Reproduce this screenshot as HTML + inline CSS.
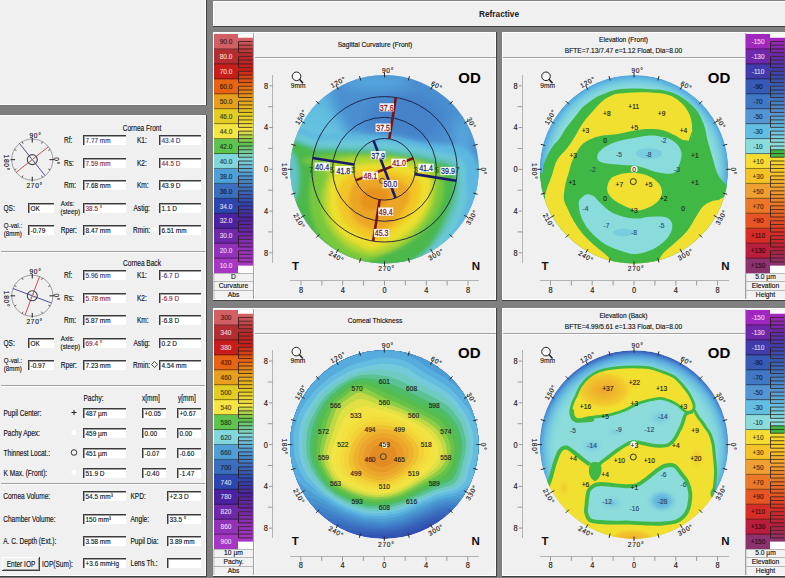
<!DOCTYPE html><html><head><meta charset="utf-8"><style>html,body{margin:0;padding:0;background:#808080;overflow:hidden}svg{display:block}text{font-family:"Liberation Sans",sans-serif}</style></head><body>
<svg width="785" height="578" viewBox="0 0 785 578">
<rect x="0" y="0" width="785" height="578" fill="#808080"/>
<rect x="0" y="0" width="206" height="105" fill="#f0f0f0"/>
<rect x="0" y="104" width="206" height="1" fill="#fff"/>
<rect x="205" y="0" width="1" height="105" fill="#fff"/>
<rect x="206" y="0" width="1" height="105" fill="#404040"/>
<rect x="0" y="105" width="207" height="10" fill="#7e7e7e"/>
<rect x="0" y="105" width="207" height="1" fill="#747474"/>
<rect x="0" y="114" width="207" height="1" fill="#747474"/>
<rect x="0" y="115" width="206" height="461" fill="#f0f0f0"/>
<rect x="0" y="115" width="206" height="1" fill="#fff"/>
<rect x="0" y="115" width="1" height="461" fill="#fff"/>
<rect x="205" y="115" width="1" height="461" fill="#fff"/>
<rect x="0" y="575" width="206" height="1" fill="#fff"/>
<rect x="206" y="115" width="1" height="462" fill="#404040"/>
<rect x="0" y="576" width="207" height="1" fill="#404040"/>
<rect x="0" y="116" width="1" height="459" fill="#f0f0f0"/>
<rect x="1" y="251" width="204" height="1" fill="#a0a0a0"/>
<rect x="1" y="252" width="204" height="1" fill="#fff"/>
<rect x="1" y="385" width="204" height="1" fill="#a0a0a0"/>
<rect x="1" y="386" width="204" height="1" fill="#fff"/>
<rect x="1" y="483" width="204" height="1" fill="#a0a0a0"/>
<rect x="1" y="484" width="204" height="1" fill="#fff"/>
<text transform="translate(142.00,130.50) scale(0.8,1)" font-size="8.2" text-anchor="middle" fill="#141414" stroke="#141414" stroke-width="0.15">Cornea Front</text>
<text transform="translate(64.00,143.00) scale(0.8,1)" font-size="8.2" text-anchor="start" fill="#141414" stroke="#141414" stroke-width="0.15">Rf:</text>
<rect x="83" y="135" width="43" height="10" fill="#fff"/>
<rect x="83" y="135" width="43" height="1" fill="#3a3a3a"/>
<rect x="83" y="135" width="1" height="10" fill="#3a3a3a"/>
<rect x="84" y="136" width="42" height="1" fill="#a0a0a0"/>
<rect x="84" y="136" width="1" height="9" fill="#a0a0a0"/>
<text transform="translate(85.50,142.60) scale(0.9,1)" font-size="7.2" text-anchor="start" fill="#36367a" stroke="#36367a" stroke-width="0.15">7.77 mm</text>
<text transform="translate(137.00,143.00) scale(0.8,1)" font-size="8.2" text-anchor="start" fill="#141414" stroke="#141414" stroke-width="0.15">K1:</text>
<rect x="159" y="135" width="42" height="10" fill="#fff"/>
<rect x="159" y="135" width="42" height="1" fill="#3a3a3a"/>
<rect x="159" y="135" width="1" height="10" fill="#3a3a3a"/>
<rect x="160" y="136" width="41" height="1" fill="#a0a0a0"/>
<rect x="160" y="136" width="1" height="9" fill="#a0a0a0"/>
<text transform="translate(161.50,142.60) scale(0.9,1)" font-size="7.2" text-anchor="start" fill="#36367a" stroke="#36367a" stroke-width="0.15">43.4 D</text>
<text transform="translate(64.00,166.00) scale(0.8,1)" font-size="8.2" text-anchor="start" fill="#141414" stroke="#141414" stroke-width="0.15">Rs:</text>
<rect x="83" y="158" width="43" height="10" fill="#fff"/>
<rect x="83" y="158" width="43" height="1" fill="#3a3a3a"/>
<rect x="83" y="158" width="1" height="10" fill="#3a3a3a"/>
<rect x="84" y="159" width="42" height="1" fill="#a0a0a0"/>
<rect x="84" y="159" width="1" height="9" fill="#a0a0a0"/>
<text transform="translate(85.50,165.60) scale(0.9,1)" font-size="7.2" text-anchor="start" fill="#962828" stroke="#962828" stroke-width="0.15">7.59 mm</text>
<text transform="translate(137.00,166.00) scale(0.8,1)" font-size="8.2" text-anchor="start" fill="#141414" stroke="#141414" stroke-width="0.15">K2:</text>
<rect x="159" y="158" width="42" height="10" fill="#fff"/>
<rect x="159" y="158" width="42" height="1" fill="#3a3a3a"/>
<rect x="159" y="158" width="1" height="10" fill="#3a3a3a"/>
<rect x="160" y="159" width="41" height="1" fill="#a0a0a0"/>
<rect x="160" y="159" width="1" height="9" fill="#a0a0a0"/>
<text transform="translate(161.50,165.60) scale(0.9,1)" font-size="7.2" text-anchor="start" fill="#962828" stroke="#962828" stroke-width="0.15">44.5 D</text>
<text transform="translate(64.00,188.00) scale(0.8,1)" font-size="8.2" text-anchor="start" fill="#141414" stroke="#141414" stroke-width="0.15">Rm:</text>
<rect x="83" y="180" width="43" height="10" fill="#fff"/>
<rect x="83" y="180" width="43" height="1" fill="#3a3a3a"/>
<rect x="83" y="180" width="1" height="10" fill="#3a3a3a"/>
<rect x="84" y="181" width="42" height="1" fill="#a0a0a0"/>
<rect x="84" y="181" width="1" height="9" fill="#a0a0a0"/>
<text transform="translate(85.50,187.60) scale(0.9,1)" font-size="7.2" text-anchor="start" fill="#141414" stroke="#141414" stroke-width="0.15">7.68 mm</text>
<text transform="translate(137.00,188.00) scale(0.8,1)" font-size="8.2" text-anchor="start" fill="#141414" stroke="#141414" stroke-width="0.15">Km:</text>
<rect x="159" y="180" width="42" height="10" fill="#fff"/>
<rect x="159" y="180" width="42" height="1" fill="#3a3a3a"/>
<rect x="159" y="180" width="1" height="10" fill="#3a3a3a"/>
<rect x="160" y="181" width="41" height="1" fill="#a0a0a0"/>
<rect x="160" y="181" width="1" height="9" fill="#a0a0a0"/>
<text transform="translate(161.50,187.60) scale(0.9,1)" font-size="7.2" text-anchor="start" fill="#141414" stroke="#141414" stroke-width="0.15">43.9 D</text>
<text transform="translate(3.50,210.60) scale(0.8,1)" font-size="8.2" text-anchor="start" fill="#141414" stroke="#141414" stroke-width="0.15">QS:</text>
<rect x="28" y="203" width="26" height="10" fill="#fff"/>
<rect x="28" y="203" width="26" height="1" fill="#3a3a3a"/>
<rect x="28" y="203" width="1" height="10" fill="#3a3a3a"/>
<rect x="29" y="204" width="25" height="1" fill="#a0a0a0"/>
<rect x="29" y="204" width="1" height="9" fill="#a0a0a0"/>
<text transform="translate(30.50,210.60) scale(0.9,1)" font-size="7.2" text-anchor="start" fill="#141414" stroke="#141414" stroke-width="0.15">OK</text>
<text transform="translate(60.80,206.20) scale(0.8,1)" font-size="7.8" text-anchor="start" fill="#141414" stroke="#141414" stroke-width="0.15">Axis:</text>
<text transform="translate(60.60,214.20) scale(0.8,1)" font-size="7.8" text-anchor="start" fill="#141414" stroke="#141414" stroke-width="0.15">(steep)</text>
<rect x="83" y="203" width="43" height="10" fill="#fff"/>
<rect x="83" y="203" width="43" height="1" fill="#3a3a3a"/>
<rect x="83" y="203" width="1" height="10" fill="#3a3a3a"/>
<rect x="84" y="204" width="42" height="1" fill="#a0a0a0"/>
<rect x="84" y="204" width="1" height="9" fill="#a0a0a0"/>
<text transform="translate(85.50,210.60) scale(0.9,1)" font-size="7.2" text-anchor="start" fill="#962828" stroke="#962828" stroke-width="0.15">38.5 °</text>
<text transform="translate(133.50,211.00) scale(0.8,1)" font-size="8.2" text-anchor="start" fill="#141414" stroke="#141414" stroke-width="0.15">Astig:</text>
<rect x="159" y="203" width="42" height="10" fill="#fff"/>
<rect x="159" y="203" width="42" height="1" fill="#3a3a3a"/>
<rect x="159" y="203" width="1" height="10" fill="#3a3a3a"/>
<rect x="160" y="204" width="41" height="1" fill="#a0a0a0"/>
<rect x="160" y="204" width="1" height="9" fill="#a0a0a0"/>
<text transform="translate(161.50,210.60) scale(0.9,1)" font-size="7.2" text-anchor="start" fill="#141414" stroke="#141414" stroke-width="0.15">1.1 D</text>
<text transform="translate(3.80,228.30) scale(0.8,1)" font-size="7.8" text-anchor="start" fill="#141414" stroke="#141414" stroke-width="0.15">Q-val.:</text>
<text transform="translate(3.80,236.30) scale(0.8,1)" font-size="7.8" text-anchor="start" fill="#141414" stroke="#141414" stroke-width="0.15">(8mm)</text>
<rect x="28" y="225" width="26" height="10" fill="#fff"/>
<rect x="28" y="225" width="26" height="1" fill="#3a3a3a"/>
<rect x="28" y="225" width="1" height="10" fill="#3a3a3a"/>
<rect x="29" y="226" width="25" height="1" fill="#a0a0a0"/>
<rect x="29" y="226" width="1" height="9" fill="#a0a0a0"/>
<text transform="translate(30.50,232.60) scale(0.9,1)" font-size="7.2" text-anchor="start" fill="#141414" stroke="#141414" stroke-width="0.15">-0.79</text>
<text transform="translate(60.80,233.00) scale(0.8,1)" font-size="8.2" text-anchor="start" fill="#141414" stroke="#141414" stroke-width="0.15">Rper:</text>
<rect x="83" y="225" width="43" height="10" fill="#fff"/>
<rect x="83" y="225" width="43" height="1" fill="#3a3a3a"/>
<rect x="83" y="225" width="1" height="10" fill="#3a3a3a"/>
<rect x="84" y="226" width="42" height="1" fill="#a0a0a0"/>
<rect x="84" y="226" width="1" height="9" fill="#a0a0a0"/>
<text transform="translate(85.50,232.60) scale(0.9,1)" font-size="7.2" text-anchor="start" fill="#141414" stroke="#141414" stroke-width="0.15">8.47 mm</text>
<text transform="translate(133.00,233.00) scale(0.8,1)" font-size="8.2" text-anchor="start" fill="#141414" stroke="#141414" stroke-width="0.15">Rmin:</text>
<rect x="159" y="225" width="42" height="10" fill="#fff"/>
<rect x="159" y="225" width="42" height="1" fill="#3a3a3a"/>
<rect x="159" y="225" width="1" height="10" fill="#3a3a3a"/>
<rect x="160" y="226" width="41" height="1" fill="#a0a0a0"/>
<rect x="160" y="226" width="1" height="9" fill="#a0a0a0"/>
<text transform="translate(161.50,232.60) scale(0.9,1)" font-size="7.2" text-anchor="start" fill="#141414" stroke="#141414" stroke-width="0.15">6.51 mm</text>
<text transform="translate(142.00,265.50) scale(0.8,1)" font-size="8.2" text-anchor="middle" fill="#141414" stroke="#141414" stroke-width="0.15">Cornea Back</text>
<text transform="translate(64.00,278.00) scale(0.8,1)" font-size="8.2" text-anchor="start" fill="#141414" stroke="#141414" stroke-width="0.15">Rf:</text>
<rect x="83" y="270" width="43" height="10" fill="#fff"/>
<rect x="83" y="270" width="43" height="1" fill="#3a3a3a"/>
<rect x="83" y="270" width="1" height="10" fill="#3a3a3a"/>
<rect x="84" y="271" width="42" height="1" fill="#a0a0a0"/>
<rect x="84" y="271" width="1" height="9" fill="#a0a0a0"/>
<text transform="translate(85.50,277.60) scale(0.9,1)" font-size="7.2" text-anchor="start" fill="#36367a" stroke="#36367a" stroke-width="0.15">5.96 mm</text>
<text transform="translate(137.00,278.00) scale(0.8,1)" font-size="8.2" text-anchor="start" fill="#141414" stroke="#141414" stroke-width="0.15">K1:</text>
<rect x="159" y="270" width="42" height="10" fill="#fff"/>
<rect x="159" y="270" width="42" height="1" fill="#3a3a3a"/>
<rect x="159" y="270" width="1" height="10" fill="#3a3a3a"/>
<rect x="160" y="271" width="41" height="1" fill="#a0a0a0"/>
<rect x="160" y="271" width="1" height="9" fill="#a0a0a0"/>
<text transform="translate(161.50,277.60) scale(0.9,1)" font-size="7.2" text-anchor="start" fill="#36367a" stroke="#36367a" stroke-width="0.15">-6.7 D</text>
<text transform="translate(64.00,301.00) scale(0.8,1)" font-size="8.2" text-anchor="start" fill="#141414" stroke="#141414" stroke-width="0.15">Rs:</text>
<rect x="83" y="293" width="43" height="10" fill="#fff"/>
<rect x="83" y="293" width="43" height="1" fill="#3a3a3a"/>
<rect x="83" y="293" width="1" height="10" fill="#3a3a3a"/>
<rect x="84" y="294" width="42" height="1" fill="#a0a0a0"/>
<rect x="84" y="294" width="1" height="9" fill="#a0a0a0"/>
<text transform="translate(85.50,300.60) scale(0.9,1)" font-size="7.2" text-anchor="start" fill="#962828" stroke="#962828" stroke-width="0.15">5.78 mm</text>
<text transform="translate(137.00,301.00) scale(0.8,1)" font-size="8.2" text-anchor="start" fill="#141414" stroke="#141414" stroke-width="0.15">K2:</text>
<rect x="159" y="293" width="42" height="10" fill="#fff"/>
<rect x="159" y="293" width="42" height="1" fill="#3a3a3a"/>
<rect x="159" y="293" width="1" height="10" fill="#3a3a3a"/>
<rect x="160" y="294" width="41" height="1" fill="#a0a0a0"/>
<rect x="160" y="294" width="1" height="9" fill="#a0a0a0"/>
<text transform="translate(161.50,300.60) scale(0.9,1)" font-size="7.2" text-anchor="start" fill="#962828" stroke="#962828" stroke-width="0.15">-6.9 D</text>
<text transform="translate(64.00,323.00) scale(0.8,1)" font-size="8.2" text-anchor="start" fill="#141414" stroke="#141414" stroke-width="0.15">Rm:</text>
<rect x="83" y="315" width="43" height="10" fill="#fff"/>
<rect x="83" y="315" width="43" height="1" fill="#3a3a3a"/>
<rect x="83" y="315" width="1" height="10" fill="#3a3a3a"/>
<rect x="84" y="316" width="42" height="1" fill="#a0a0a0"/>
<rect x="84" y="316" width="1" height="9" fill="#a0a0a0"/>
<text transform="translate(85.50,322.60) scale(0.9,1)" font-size="7.2" text-anchor="start" fill="#141414" stroke="#141414" stroke-width="0.15">5.87 mm</text>
<text transform="translate(137.00,323.00) scale(0.8,1)" font-size="8.2" text-anchor="start" fill="#141414" stroke="#141414" stroke-width="0.15">Km:</text>
<rect x="159" y="315" width="42" height="10" fill="#fff"/>
<rect x="159" y="315" width="42" height="1" fill="#3a3a3a"/>
<rect x="159" y="315" width="1" height="10" fill="#3a3a3a"/>
<rect x="160" y="316" width="41" height="1" fill="#a0a0a0"/>
<rect x="160" y="316" width="1" height="9" fill="#a0a0a0"/>
<text transform="translate(161.50,322.60) scale(0.9,1)" font-size="7.2" text-anchor="start" fill="#141414" stroke="#141414" stroke-width="0.15">-6.8 D</text>
<text transform="translate(3.50,345.60) scale(0.8,1)" font-size="8.2" text-anchor="start" fill="#141414" stroke="#141414" stroke-width="0.15">QS:</text>
<rect x="28" y="338" width="26" height="10" fill="#fff"/>
<rect x="28" y="338" width="26" height="1" fill="#3a3a3a"/>
<rect x="28" y="338" width="1" height="10" fill="#3a3a3a"/>
<rect x="29" y="339" width="25" height="1" fill="#a0a0a0"/>
<rect x="29" y="339" width="1" height="9" fill="#a0a0a0"/>
<text transform="translate(30.50,345.60) scale(0.9,1)" font-size="7.2" text-anchor="start" fill="#141414" stroke="#141414" stroke-width="0.15">OK</text>
<text transform="translate(60.80,341.20) scale(0.8,1)" font-size="7.8" text-anchor="start" fill="#141414" stroke="#141414" stroke-width="0.15">Axis:</text>
<text transform="translate(60.60,349.20) scale(0.8,1)" font-size="7.8" text-anchor="start" fill="#141414" stroke="#141414" stroke-width="0.15">(steep)</text>
<rect x="83" y="338" width="43" height="10" fill="#fff"/>
<rect x="83" y="338" width="43" height="1" fill="#3a3a3a"/>
<rect x="83" y="338" width="1" height="10" fill="#3a3a3a"/>
<rect x="84" y="339" width="42" height="1" fill="#a0a0a0"/>
<rect x="84" y="339" width="1" height="9" fill="#a0a0a0"/>
<text transform="translate(85.50,345.60) scale(0.9,1)" font-size="7.2" text-anchor="start" fill="#962828" stroke="#962828" stroke-width="0.15">69.4 °</text>
<text transform="translate(133.50,346.00) scale(0.8,1)" font-size="8.2" text-anchor="start" fill="#141414" stroke="#141414" stroke-width="0.15">Astig:</text>
<rect x="159" y="338" width="42" height="10" fill="#fff"/>
<rect x="159" y="338" width="42" height="1" fill="#3a3a3a"/>
<rect x="159" y="338" width="1" height="10" fill="#3a3a3a"/>
<rect x="160" y="339" width="41" height="1" fill="#a0a0a0"/>
<rect x="160" y="339" width="1" height="9" fill="#a0a0a0"/>
<text transform="translate(161.50,345.60) scale(0.9,1)" font-size="7.2" text-anchor="start" fill="#141414" stroke="#141414" stroke-width="0.15">0.2 D</text>
<text transform="translate(3.80,363.30) scale(0.8,1)" font-size="7.8" text-anchor="start" fill="#141414" stroke="#141414" stroke-width="0.15">Q-val.:</text>
<text transform="translate(3.80,371.30) scale(0.8,1)" font-size="7.8" text-anchor="start" fill="#141414" stroke="#141414" stroke-width="0.15">(8mm)</text>
<rect x="28" y="360" width="26" height="10" fill="#fff"/>
<rect x="28" y="360" width="26" height="1" fill="#3a3a3a"/>
<rect x="28" y="360" width="1" height="10" fill="#3a3a3a"/>
<rect x="29" y="361" width="25" height="1" fill="#a0a0a0"/>
<rect x="29" y="361" width="1" height="9" fill="#a0a0a0"/>
<text transform="translate(30.50,367.60) scale(0.9,1)" font-size="7.2" text-anchor="start" fill="#141414" stroke="#141414" stroke-width="0.15">-0.97</text>
<text transform="translate(60.80,368.00) scale(0.8,1)" font-size="8.2" text-anchor="start" fill="#141414" stroke="#141414" stroke-width="0.15">Rper:</text>
<rect x="83" y="360" width="43" height="10" fill="#fff"/>
<rect x="83" y="360" width="43" height="1" fill="#3a3a3a"/>
<rect x="83" y="360" width="1" height="10" fill="#3a3a3a"/>
<rect x="84" y="361" width="42" height="1" fill="#a0a0a0"/>
<rect x="84" y="361" width="1" height="9" fill="#a0a0a0"/>
<text transform="translate(85.50,367.60) scale(0.9,1)" font-size="7.2" text-anchor="start" fill="#141414" stroke="#141414" stroke-width="0.15">7.23 mm</text>
<text transform="translate(133.00,368.00) scale(0.8,1)" font-size="8.2" text-anchor="start" fill="#141414" stroke="#141414" stroke-width="0.15">Rmin:</text>
<rect x="159" y="360" width="42" height="10" fill="#fff"/>
<rect x="159" y="360" width="42" height="1" fill="#3a3a3a"/>
<rect x="159" y="360" width="1" height="10" fill="#3a3a3a"/>
<rect x="160" y="361" width="41" height="1" fill="#a0a0a0"/>
<rect x="160" y="361" width="1" height="9" fill="#a0a0a0"/>
<text transform="translate(161.50,367.60) scale(0.9,1)" font-size="7.2" text-anchor="start" fill="#141414" stroke="#141414" stroke-width="0.15">4.54 mm</text>
<circle cx="32.3" cy="159.6" r="20.6" fill="none" stroke="#8c8c8c" stroke-width="0.85"/>
<line x1="49.50" y1="159.60" x2="54.10" y2="159.60" stroke="#404040" stroke-width="1.2"/>
<line x1="48.23" y1="150.40" x2="50.14" y2="149.30" stroke="#606060" stroke-width="1.0"/>
<line x1="41.50" y1="143.67" x2="42.60" y2="141.76" stroke="#606060" stroke-width="1.0"/>
<line x1="32.30" y1="142.40" x2="32.30" y2="137.80" stroke="#404040" stroke-width="1.2"/>
<line x1="23.10" y1="143.67" x2="22.00" y2="141.76" stroke="#606060" stroke-width="1.0"/>
<line x1="16.37" y1="150.40" x2="14.46" y2="149.30" stroke="#606060" stroke-width="1.0"/>
<line x1="15.10" y1="159.60" x2="10.50" y2="159.60" stroke="#404040" stroke-width="1.2"/>
<line x1="16.37" y1="168.80" x2="14.46" y2="169.90" stroke="#606060" stroke-width="1.0"/>
<line x1="23.10" y1="175.53" x2="22.00" y2="177.44" stroke="#606060" stroke-width="1.0"/>
<line x1="32.30" y1="176.80" x2="32.30" y2="181.40" stroke="#404040" stroke-width="1.2"/>
<line x1="41.50" y1="175.53" x2="42.60" y2="177.44" stroke="#606060" stroke-width="1.0"/>
<line x1="48.23" y1="168.80" x2="50.14" y2="169.90" stroke="#606060" stroke-width="1.0"/>
<line x1="45.12" y1="175.72" x2="19.48" y2="143.48" stroke="#3c3c96" stroke-width="0.9"/>
<line x1="16.18" y1="172.42" x2="48.42" y2="146.78" stroke="#c04040" stroke-width="0.9"/>
<circle cx="32.3" cy="159.6" r="5" fill="none" stroke="#484848" stroke-width="1.1"/>
<path d="M30.299999999999997,157.6L34.3,161.6M34.3,157.6L30.299999999999997,161.6" stroke="#909090" stroke-width="0.6"/>
<text transform="translate(29.50,137.50)" font-size="6.6" text-anchor="start" fill="#202020" stroke="#202020" stroke-width="0.15" letter-spacing="0.7">90°</text>
<text transform="translate(26.50,187.80)" font-size="6.6" text-anchor="start" fill="#202020" stroke="#202020" stroke-width="0.15" letter-spacing="0.7">270°</text>
<text transform="translate(54.30,157.30) rotate(90)" font-size="6.6" text-anchor="start" fill="#202020" stroke="#202020" stroke-width="0.15" letter-spacing="0.7">0°</text>
<text transform="translate(4.40,154.60) rotate(90)" font-size="6.6" text-anchor="start" fill="#202020" stroke="#202020" stroke-width="0.15" letter-spacing="0.7">180°</text>
<circle cx="32.3" cy="295.8" r="20.6" fill="none" stroke="#8c8c8c" stroke-width="0.85"/>
<line x1="49.50" y1="295.80" x2="54.10" y2="295.80" stroke="#404040" stroke-width="1.2"/>
<line x1="48.23" y1="286.60" x2="50.14" y2="285.50" stroke="#606060" stroke-width="1.0"/>
<line x1="41.50" y1="279.87" x2="42.60" y2="277.96" stroke="#606060" stroke-width="1.0"/>
<line x1="32.30" y1="278.60" x2="32.30" y2="274.00" stroke="#404040" stroke-width="1.2"/>
<line x1="23.10" y1="279.87" x2="22.00" y2="277.96" stroke="#606060" stroke-width="1.0"/>
<line x1="16.37" y1="286.60" x2="14.46" y2="285.50" stroke="#606060" stroke-width="1.0"/>
<line x1="15.10" y1="295.80" x2="10.50" y2="295.80" stroke="#404040" stroke-width="1.2"/>
<line x1="16.37" y1="305.00" x2="14.46" y2="306.10" stroke="#606060" stroke-width="1.0"/>
<line x1="23.10" y1="311.73" x2="22.00" y2="313.64" stroke="#606060" stroke-width="1.0"/>
<line x1="32.30" y1="313.00" x2="32.30" y2="317.60" stroke="#404040" stroke-width="1.2"/>
<line x1="41.50" y1="311.73" x2="42.60" y2="313.64" stroke="#606060" stroke-width="1.0"/>
<line x1="48.23" y1="305.00" x2="50.14" y2="306.10" stroke="#606060" stroke-width="1.0"/>
<line x1="51.58" y1="303.05" x2="13.02" y2="288.55" stroke="#3c3c96" stroke-width="0.9"/>
<line x1="25.05" y1="315.08" x2="39.55" y2="276.52" stroke="#c04040" stroke-width="0.9"/>
<circle cx="32.3" cy="295.8" r="5" fill="none" stroke="#484848" stroke-width="1.1"/>
<path d="M30.299999999999997,293.8L34.3,297.8M34.3,293.8L30.299999999999997,297.8" stroke="#909090" stroke-width="0.6"/>
<text transform="translate(29.50,273.70)" font-size="6.6" text-anchor="start" fill="#202020" stroke="#202020" stroke-width="0.15" letter-spacing="0.7">90°</text>
<text transform="translate(26.50,324.00)" font-size="6.6" text-anchor="start" fill="#202020" stroke="#202020" stroke-width="0.15" letter-spacing="0.7">270°</text>
<text transform="translate(54.30,293.50) rotate(90)" font-size="6.6" text-anchor="start" fill="#202020" stroke="#202020" stroke-width="0.15" letter-spacing="0.7">0°</text>
<text transform="translate(4.40,290.80) rotate(90)" font-size="6.6" text-anchor="start" fill="#202020" stroke="#202020" stroke-width="0.15" letter-spacing="0.7">180°</text>
<path d="M154.5,226.5 l3,3 l-3,3 l-3,-3z" fill="#fff"/>
<path d="M154.5,361.5 l3,3 l-3,3 l-3,-3z" fill="none" stroke="#202020" stroke-width="0.8"/>
<text transform="translate(83.50,400.50) scale(0.8,1)" font-size="8.2" text-anchor="start" fill="#141414" stroke="#141414" stroke-width="0.15">Pachy:</text>
<text transform="translate(142.00,400.50) scale(0.8,1)" font-size="8.2" text-anchor="start" fill="#141414" stroke="#141414" stroke-width="0.15">x[mm]</text>
<text transform="translate(178.00,400.50) scale(0.8,1)" font-size="8.2" text-anchor="start" fill="#141414" stroke="#141414" stroke-width="0.15">y[mm]</text>
<text transform="translate(3.50,416.00) scale(0.8,1)" font-size="8.2" text-anchor="start" fill="#141414" stroke="#141414" stroke-width="0.15">Pupil Center:</text>
<rect x="83" y="408" width="43" height="10" fill="#fff"/>
<rect x="83" y="408" width="43" height="1" fill="#3a3a3a"/>
<rect x="83" y="408" width="1" height="10" fill="#3a3a3a"/>
<rect x="84" y="409" width="42" height="1" fill="#a0a0a0"/>
<rect x="84" y="409" width="1" height="9" fill="#a0a0a0"/>
<text transform="translate(85.50,415.60) scale(0.9,1)" font-size="7.2" text-anchor="start" fill="#141414" stroke="#141414" stroke-width="0.15">487 µm</text>
<rect x="142" y="408" width="24" height="10" fill="#fff"/>
<rect x="142" y="408" width="24" height="1" fill="#3a3a3a"/>
<rect x="142" y="408" width="1" height="10" fill="#3a3a3a"/>
<rect x="143" y="409" width="23" height="1" fill="#a0a0a0"/>
<rect x="143" y="409" width="1" height="9" fill="#a0a0a0"/>
<text transform="translate(144.50,415.60) scale(0.9,1)" font-size="7.2" text-anchor="start" fill="#141414" stroke="#141414" stroke-width="0.15">+0.05</text>
<rect x="177" y="408" width="24" height="10" fill="#fff"/>
<rect x="177" y="408" width="24" height="1" fill="#3a3a3a"/>
<rect x="177" y="408" width="1" height="10" fill="#3a3a3a"/>
<rect x="178" y="409" width="23" height="1" fill="#a0a0a0"/>
<rect x="178" y="409" width="1" height="9" fill="#a0a0a0"/>
<text transform="translate(179.50,415.60) scale(0.9,1)" font-size="7.2" text-anchor="start" fill="#141414" stroke="#141414" stroke-width="0.15">+0.67</text>
<text transform="translate(3.50,436.00) scale(0.8,1)" font-size="8.2" text-anchor="start" fill="#141414" stroke="#141414" stroke-width="0.15">Pachy Apex:</text>
<rect x="83" y="428" width="43" height="10" fill="#fff"/>
<rect x="83" y="428" width="43" height="1" fill="#3a3a3a"/>
<rect x="83" y="428" width="1" height="10" fill="#3a3a3a"/>
<rect x="84" y="429" width="42" height="1" fill="#a0a0a0"/>
<rect x="84" y="429" width="1" height="9" fill="#a0a0a0"/>
<text transform="translate(85.50,435.60) scale(0.9,1)" font-size="7.2" text-anchor="start" fill="#141414" stroke="#141414" stroke-width="0.15">459 µm</text>
<rect x="142" y="428" width="24" height="10" fill="#fff"/>
<rect x="142" y="428" width="24" height="1" fill="#3a3a3a"/>
<rect x="142" y="428" width="1" height="10" fill="#3a3a3a"/>
<rect x="143" y="429" width="23" height="1" fill="#a0a0a0"/>
<rect x="143" y="429" width="1" height="9" fill="#a0a0a0"/>
<text transform="translate(144.50,435.60) scale(0.9,1)" font-size="7.2" text-anchor="start" fill="#141414" stroke="#141414" stroke-width="0.15">0.00</text>
<rect x="177" y="428" width="24" height="10" fill="#fff"/>
<rect x="177" y="428" width="24" height="1" fill="#3a3a3a"/>
<rect x="177" y="428" width="1" height="10" fill="#3a3a3a"/>
<rect x="178" y="429" width="23" height="1" fill="#a0a0a0"/>
<rect x="178" y="429" width="1" height="9" fill="#a0a0a0"/>
<text transform="translate(179.50,435.60) scale(0.9,1)" font-size="7.2" text-anchor="start" fill="#141414" stroke="#141414" stroke-width="0.15">0.00</text>
<text transform="translate(3.50,456.00) scale(0.8,1)" font-size="8.2" text-anchor="start" fill="#141414" stroke="#141414" stroke-width="0.15">Thinnest Locat.:</text>
<rect x="83" y="448" width="43" height="10" fill="#fff"/>
<rect x="83" y="448" width="43" height="1" fill="#3a3a3a"/>
<rect x="83" y="448" width="1" height="10" fill="#3a3a3a"/>
<rect x="84" y="449" width="42" height="1" fill="#a0a0a0"/>
<rect x="84" y="449" width="1" height="9" fill="#a0a0a0"/>
<text transform="translate(85.50,455.60) scale(0.9,1)" font-size="7.2" text-anchor="start" fill="#141414" stroke="#141414" stroke-width="0.15">451 µm</text>
<rect x="142" y="448" width="24" height="10" fill="#fff"/>
<rect x="142" y="448" width="24" height="1" fill="#3a3a3a"/>
<rect x="142" y="448" width="1" height="10" fill="#3a3a3a"/>
<rect x="143" y="449" width="23" height="1" fill="#a0a0a0"/>
<rect x="143" y="449" width="1" height="9" fill="#a0a0a0"/>
<text transform="translate(144.50,455.60) scale(0.9,1)" font-size="7.2" text-anchor="start" fill="#141414" stroke="#141414" stroke-width="0.15">-0.07</text>
<rect x="177" y="448" width="24" height="10" fill="#fff"/>
<rect x="177" y="448" width="24" height="1" fill="#3a3a3a"/>
<rect x="177" y="448" width="1" height="10" fill="#3a3a3a"/>
<rect x="178" y="449" width="23" height="1" fill="#a0a0a0"/>
<rect x="178" y="449" width="1" height="9" fill="#a0a0a0"/>
<text transform="translate(179.50,455.60) scale(0.9,1)" font-size="7.2" text-anchor="start" fill="#141414" stroke="#141414" stroke-width="0.15">-0.60</text>
<text transform="translate(3.50,476.00) scale(0.8,1)" font-size="8.2" text-anchor="start" fill="#141414" stroke="#141414" stroke-width="0.15">K Max. (Front):</text>
<rect x="83" y="468" width="43" height="10" fill="#fff"/>
<rect x="83" y="468" width="43" height="1" fill="#3a3a3a"/>
<rect x="83" y="468" width="1" height="10" fill="#3a3a3a"/>
<rect x="84" y="469" width="42" height="1" fill="#a0a0a0"/>
<rect x="84" y="469" width="1" height="9" fill="#a0a0a0"/>
<text transform="translate(85.50,475.60) scale(0.9,1)" font-size="7.2" text-anchor="start" fill="#141414" stroke="#141414" stroke-width="0.15">51.9 D</text>
<rect x="142" y="468" width="24" height="10" fill="#fff"/>
<rect x="142" y="468" width="24" height="1" fill="#3a3a3a"/>
<rect x="142" y="468" width="1" height="10" fill="#3a3a3a"/>
<rect x="143" y="469" width="23" height="1" fill="#a0a0a0"/>
<rect x="143" y="469" width="1" height="9" fill="#a0a0a0"/>
<text transform="translate(144.50,475.60) scale(0.9,1)" font-size="7.2" text-anchor="start" fill="#141414" stroke="#141414" stroke-width="0.15">-0.40</text>
<rect x="177" y="468" width="24" height="10" fill="#fff"/>
<rect x="177" y="468" width="24" height="1" fill="#3a3a3a"/>
<rect x="177" y="468" width="1" height="10" fill="#3a3a3a"/>
<rect x="178" y="469" width="23" height="1" fill="#a0a0a0"/>
<rect x="178" y="469" width="1" height="9" fill="#a0a0a0"/>
<text transform="translate(179.50,475.60) scale(0.9,1)" font-size="7.2" text-anchor="start" fill="#141414" stroke="#141414" stroke-width="0.15">-1.47</text>
<path d="M71.5,412.5h5M74,410v5" stroke="#202020" stroke-width="1"/>
<circle cx="74" cy="432.5" r="2.6" fill="#fff"/>
<circle cx="74" cy="452.5" r="2.8" fill="none" stroke="#202020" stroke-width="0.9"/>
<path d="M74,469.5 l3,3 l-3,3 l-3,-3z" fill="#fff"/>
<text transform="translate(3.20,499.00) scale(0.8,1)" font-size="8.2" text-anchor="start" fill="#141414" stroke="#141414" stroke-width="0.15">Cornea Volume:</text>
<rect x="83" y="491" width="43" height="10" fill="#fff"/>
<rect x="83" y="491" width="43" height="1" fill="#3a3a3a"/>
<rect x="83" y="491" width="1" height="10" fill="#3a3a3a"/>
<rect x="84" y="492" width="42" height="1" fill="#a0a0a0"/>
<rect x="84" y="492" width="1" height="9" fill="#a0a0a0"/>
<text transform="translate(85.50,498.60) scale(0.9,1)" font-size="7.2" text-anchor="start" fill="#141414" stroke="#141414" stroke-width="0.15">54.5 mm³</text>
<text transform="translate(130.50,499.00) scale(0.8,1)" font-size="8.2" text-anchor="start" fill="#141414" stroke="#141414" stroke-width="0.15">KPD:</text>
<rect x="167" y="491" width="34" height="10" fill="#fff"/>
<rect x="167" y="491" width="34" height="1" fill="#3a3a3a"/>
<rect x="167" y="491" width="1" height="10" fill="#3a3a3a"/>
<rect x="168" y="492" width="33" height="1" fill="#a0a0a0"/>
<rect x="168" y="492" width="1" height="9" fill="#a0a0a0"/>
<text transform="translate(169.50,498.60) scale(0.9,1)" font-size="7.2" text-anchor="start" fill="#141414" stroke="#141414" stroke-width="0.15">+2.3 D</text>
<text transform="translate(3.20,522.00) scale(0.8,1)" font-size="8.2" text-anchor="start" fill="#141414" stroke="#141414" stroke-width="0.15">Chamber Volume:</text>
<rect x="83" y="514" width="43" height="10" fill="#fff"/>
<rect x="83" y="514" width="43" height="1" fill="#3a3a3a"/>
<rect x="83" y="514" width="1" height="10" fill="#3a3a3a"/>
<rect x="84" y="515" width="42" height="1" fill="#a0a0a0"/>
<rect x="84" y="515" width="1" height="9" fill="#a0a0a0"/>
<text transform="translate(85.50,521.60) scale(0.9,1)" font-size="7.2" text-anchor="start" fill="#141414" stroke="#141414" stroke-width="0.15">150 mm³</text>
<text transform="translate(130.50,522.00) scale(0.8,1)" font-size="8.2" text-anchor="start" fill="#141414" stroke="#141414" stroke-width="0.15">Angle:</text>
<rect x="167" y="514" width="34" height="10" fill="#fff"/>
<rect x="167" y="514" width="34" height="1" fill="#3a3a3a"/>
<rect x="167" y="514" width="1" height="10" fill="#3a3a3a"/>
<rect x="168" y="515" width="33" height="1" fill="#a0a0a0"/>
<rect x="168" y="515" width="1" height="9" fill="#a0a0a0"/>
<text transform="translate(169.50,521.60) scale(0.9,1)" font-size="7.2" text-anchor="start" fill="#141414" stroke="#141414" stroke-width="0.15">33.5 °</text>
<text transform="translate(3.20,544.00) scale(0.8,1)" font-size="8.2" text-anchor="start" fill="#141414" stroke="#141414" stroke-width="0.15">A. C. Depth (Ext.):</text>
<rect x="83" y="536" width="43" height="10" fill="#fff"/>
<rect x="83" y="536" width="43" height="1" fill="#3a3a3a"/>
<rect x="83" y="536" width="1" height="10" fill="#3a3a3a"/>
<rect x="84" y="537" width="42" height="1" fill="#a0a0a0"/>
<rect x="84" y="537" width="1" height="9" fill="#a0a0a0"/>
<text transform="translate(85.50,543.60) scale(0.9,1)" font-size="7.2" text-anchor="start" fill="#141414" stroke="#141414" stroke-width="0.15">3.58 mm</text>
<text transform="translate(130.50,544.00) scale(0.8,1)" font-size="8.2" text-anchor="start" fill="#141414" stroke="#141414" stroke-width="0.15">Pupil Dia:</text>
<rect x="167" y="536" width="34" height="10" fill="#fff"/>
<rect x="167" y="536" width="34" height="1" fill="#3a3a3a"/>
<rect x="167" y="536" width="1" height="10" fill="#3a3a3a"/>
<rect x="168" y="537" width="33" height="1" fill="#a0a0a0"/>
<rect x="168" y="537" width="1" height="9" fill="#a0a0a0"/>
<text transform="translate(169.50,543.60) scale(0.9,1)" font-size="7.2" text-anchor="start" fill="#141414" stroke="#141414" stroke-width="0.15">3.89 mm</text>
<rect x="83" y="558" width="43" height="10" fill="#fff"/>
<rect x="83" y="558" width="43" height="1" fill="#3a3a3a"/>
<rect x="83" y="558" width="1" height="10" fill="#3a3a3a"/>
<rect x="84" y="559" width="42" height="1" fill="#a0a0a0"/>
<rect x="84" y="559" width="1" height="9" fill="#a0a0a0"/>
<text transform="translate(85.50,565.60) scale(0.9,1)" font-size="7.2" text-anchor="start" fill="#141414" stroke="#141414" stroke-width="0.15">+3.6 mmHg</text>
<text transform="translate(130.50,566.00) scale(0.8,1)" font-size="8.2" text-anchor="start" fill="#141414" stroke="#141414" stroke-width="0.15">Lens Th.:</text>
<rect x="167" y="558" width="34" height="10" fill="#fff"/>
<rect x="167" y="558" width="34" height="1" fill="#3a3a3a"/>
<rect x="167" y="558" width="1" height="10" fill="#3a3a3a"/>
<rect x="168" y="559" width="33" height="1" fill="#a0a0a0"/>
<rect x="168" y="559" width="1" height="9" fill="#a0a0a0"/>
<rect x="2" y="557" width="38" height="14" fill="#f0f0f0"/>
<rect x="2" y="557" width="38" height="1" fill="#fff"/>
<rect x="2" y="557" width="1" height="14" fill="#fff"/>
<rect x="2" y="570" width="38" height="1" fill="#404040"/>
<rect x="39" y="557" width="1" height="14" fill="#404040"/>
<rect x="3" y="569" width="36" height="1" fill="#a0a0a0"/>
<rect x="38" y="558" width="1" height="12" fill="#a0a0a0"/>
<text transform="translate(21.00,566.50) scale(0.8,1)" font-size="8.2" text-anchor="middle" fill="#141414" stroke="#141414" stroke-width="0.15">Enter IOP</text>
<text transform="translate(42.00,566.50) scale(0.8,1)" font-size="8.2" text-anchor="start" fill="#141414" stroke="#141414" stroke-width="0.15">IOP(Sum):</text>
<rect x="213" y="1" width="572" height="25" fill="#f0f0f0"/>
<rect x="213" y="1" width="572" height="1" fill="#fff"/>
<rect x="213" y="1" width="1" height="25" fill="#fff"/>
<rect x="213" y="26" width="572" height="1" fill="#404040"/>
<rect x="207" y="0" width="6" height="578" fill="#808080"/>
<text transform="translate(499.00,17.20) scale(0.9,1)" font-size="9.2" text-anchor="middle" fill="#1a1a1a" font-weight="bold">Refractive</text>
<rect x="213" y="32" width="283" height="268" fill="#f0f0f0"/>
<rect x="213" y="32" width="283" height="1" fill="#fff"/>
<rect x="213" y="32" width="1" height="268" fill="#fff"/>
<rect x="495" y="32" width="1" height="268" fill="#fff"/>
<rect x="213" y="299" width="283" height="1" fill="#fff"/>
<rect x="496" y="32" width="1" height="269" fill="#404040"/>
<rect x="213" y="300" width="284" height="1" fill="#404040"/>
<rect x="502" y="32" width="284" height="268" fill="#f0f0f0"/>
<rect x="502" y="32" width="284" height="1" fill="#fff"/>
<rect x="502" y="32" width="1" height="268" fill="#fff"/>
<rect x="785" y="32" width="1" height="268" fill="#fff"/>
<rect x="502" y="299" width="284" height="1" fill="#fff"/>
<rect x="786" y="32" width="1" height="269" fill="#404040"/>
<rect x="502" y="300" width="285" height="1" fill="#404040"/>
<rect x="213" y="308" width="283" height="268" fill="#f0f0f0"/>
<rect x="213" y="308" width="283" height="1" fill="#fff"/>
<rect x="213" y="308" width="1" height="268" fill="#fff"/>
<rect x="495" y="308" width="1" height="268" fill="#fff"/>
<rect x="213" y="575" width="283" height="1" fill="#fff"/>
<rect x="496" y="308" width="1" height="269" fill="#404040"/>
<rect x="213" y="576" width="284" height="1" fill="#404040"/>
<rect x="502" y="308" width="284" height="268" fill="#f0f0f0"/>
<rect x="502" y="308" width="284" height="1" fill="#fff"/>
<rect x="502" y="308" width="1" height="268" fill="#fff"/>
<rect x="785" y="308" width="1" height="268" fill="#fff"/>
<rect x="502" y="575" width="284" height="1" fill="#fff"/>
<rect x="786" y="308" width="1" height="269" fill="#404040"/>
<rect x="502" y="576" width="285" height="1" fill="#404040"/>
<rect x="214" y="34.0" width="24" height="15.54" fill="#d25f64"/>
<rect x="214" y="48.94" width="24" height="15.54" fill="#b42d32"/>
<rect x="214" y="63.88" width="24" height="15.54" fill="#c81e19"/>
<rect x="214" y="78.82" width="24" height="15.54" fill="#e66414"/>
<rect x="214" y="93.76" width="24" height="15.54" fill="#e6a01e"/>
<rect x="214" y="108.7" width="24" height="15.54" fill="#e1cd23"/>
<rect x="214" y="123.64" width="24" height="15.54" fill="#f5e646"/>
<rect x="214" y="138.58" width="24" height="15.54" fill="#5fc350"/>
<rect x="214" y="153.52" width="24" height="15.54" fill="#82d7dc"/>
<rect x="214" y="168.46" width="24" height="15.54" fill="#50a0d7"/>
<rect x="214" y="183.4" width="24" height="15.54" fill="#3c6ebe"/>
<rect x="214" y="198.34" width="24" height="15.54" fill="#2d46af"/>
<rect x="214" y="213.28" width="24" height="15.54" fill="#4b23a0"/>
<rect x="214" y="228.22" width="24" height="15.54" fill="#6e28aa"/>
<rect x="214" y="243.16" width="24" height="15.54" fill="#9132b9"/>
<rect x="214" y="258.1" width="24" height="15.54" fill="#a537c3"/>
<rect x="214" y="48.44" width="24" height="1" fill="#743437"/>
<rect x="214" y="63.38" width="24" height="1" fill="#63191c"/>
<rect x="214" y="78.32" width="24" height="1" fill="#6e100e"/>
<rect x="214" y="93.26" width="24" height="1" fill="#7f370b"/>
<rect x="214" y="108.2" width="24" height="1" fill="#7f5810"/>
<rect x="214" y="123.14" width="24" height="1" fill="#7c7113"/>
<rect x="214" y="138.08" width="24" height="1" fill="#877f26"/>
<rect x="214" y="153.02" width="24" height="1" fill="#346b2c"/>
<rect x="214" y="167.96" width="24" height="1" fill="#487679"/>
<rect x="214" y="182.9" width="24" height="1" fill="#2c5876"/>
<rect x="214" y="197.84" width="24" height="1" fill="#213d69"/>
<rect x="214" y="212.78" width="24" height="1" fill="#192660"/>
<rect x="214" y="227.72" width="24" height="1" fill="#291358"/>
<rect x="214" y="242.66" width="24" height="1" fill="#3d165e"/>
<rect x="214" y="257.6" width="24" height="1" fill="#501c66"/>
<text transform="translate(226.00,44.20) scale(0.9,1)" font-size="7.2" text-anchor="middle" fill="#3b1b1c" stroke="#3b1b1c" stroke-width="0.15">90.0</text>
<text transform="translate(226.00,59.14) scale(0.9,1)" font-size="7.2" text-anchor="middle" fill="#f0d5d6" stroke="#f0d5d6" stroke-width="0.15">80.0</text>
<text transform="translate(226.00,74.08) scale(0.9,1)" font-size="7.2" text-anchor="middle" fill="#f4d2d1" stroke="#f4d2d1" stroke-width="0.15">70.0</text>
<text transform="translate(226.00,89.02) scale(0.9,1)" font-size="7.2" text-anchor="middle" fill="#401c06" stroke="#401c06" stroke-width="0.15">60.0</text>
<text transform="translate(226.00,103.96) scale(0.9,1)" font-size="7.2" text-anchor="middle" fill="#402d08" stroke="#402d08" stroke-width="0.15">50.0</text>
<text transform="translate(226.00,118.90) scale(0.9,1)" font-size="7.2" text-anchor="middle" fill="#3f390a" stroke="#3f390a" stroke-width="0.15">46.0</text>
<text transform="translate(226.00,133.84) scale(0.9,1)" font-size="7.2" text-anchor="middle" fill="#454014" stroke="#454014" stroke-width="0.15">44.0</text>
<text transform="translate(226.00,148.78) scale(0.9,1)" font-size="7.2" text-anchor="middle" fill="#1b3716" stroke="#1b3716" stroke-width="0.15">42.0</text>
<text transform="translate(226.00,163.72) scale(0.9,1)" font-size="7.2" text-anchor="middle" fill="#243c3e" stroke="#243c3e" stroke-width="0.15">40.0</text>
<text transform="translate(226.00,178.66) scale(0.9,1)" font-size="7.2" text-anchor="middle" fill="#162d3c" stroke="#162d3c" stroke-width="0.15">38.0</text>
<text transform="translate(226.00,193.60) scale(0.9,1)" font-size="7.2" text-anchor="middle" fill="#111f35" stroke="#111f35" stroke-width="0.15">36.0</text>
<text transform="translate(226.00,208.54) scale(0.9,1)" font-size="7.2" text-anchor="middle" fill="#d5daef" stroke="#d5daef" stroke-width="0.15">34.0</text>
<text transform="translate(226.00,223.48) scale(0.9,1)" font-size="7.2" text-anchor="middle" fill="#dbd3ec" stroke="#dbd3ec" stroke-width="0.15">32.0</text>
<text transform="translate(226.00,238.42) scale(0.9,1)" font-size="7.2" text-anchor="middle" fill="#e2d4ee" stroke="#e2d4ee" stroke-width="0.15">30.0</text>
<text transform="translate(226.00,253.36) scale(0.9,1)" font-size="7.2" text-anchor="middle" fill="#e9d6f1" stroke="#e9d6f1" stroke-width="0.15">20.0</text>
<text transform="translate(226.00,268.30) scale(0.9,1)" font-size="7.2" text-anchor="middle" fill="#edd7f3" stroke="#edd7f3" stroke-width="0.15">10.0</text>
<rect x="238" y="34" width="15.5" height="239" fill="#ffffff"/>
<rect x="238" y="37.73" width="15" height="3.78" fill="#d25f64"/>
<rect x="238" y="41.47" width="15" height="3.78" fill="#ca5258"/>
<rect x="238" y="45.2" width="15" height="3.78" fill="#c3464b"/>
<rect x="238" y="48.94" width="15" height="3.78" fill="#bc3a3e"/>
<rect x="238" y="52.67" width="15" height="3.78" fill="#b42d32"/>
<rect x="238" y="56.41" width="15" height="3.78" fill="#b9292c"/>
<rect x="238" y="60.14" width="15" height="3.78" fill="#be2626"/>
<rect x="238" y="63.88" width="15" height="3.78" fill="#c3221f"/>
<rect x="238" y="67.61" width="15" height="3.78" fill="#c81e19"/>
<rect x="238" y="71.35" width="15" height="3.78" fill="#d03018"/>
<rect x="238" y="75.08" width="15" height="3.78" fill="#d74116"/>
<rect x="238" y="78.82" width="15" height="3.78" fill="#de5215"/>
<rect x="238" y="82.55" width="15" height="3.78" fill="#e66414"/>
<rect x="238" y="86.29" width="15" height="3.78" fill="#e67316"/>
<rect x="238" y="90.02" width="15" height="3.78" fill="#e68219"/>
<rect x="238" y="93.76" width="15" height="3.78" fill="#e6911c"/>
<rect x="238" y="97.49" width="15" height="3.78" fill="#e6a01e"/>
<rect x="238" y="101.23" width="15" height="3.78" fill="#e5ab1f"/>
<rect x="238" y="104.96" width="15" height="3.78" fill="#e4b620"/>
<rect x="238" y="108.7" width="15" height="3.78" fill="#e2c222"/>
<rect x="238" y="112.44" width="15" height="3.78" fill="#e1cd23"/>
<rect x="238" y="116.17" width="15" height="3.78" fill="#e6d32c"/>
<rect x="238" y="119.91" width="15" height="3.78" fill="#ebda34"/>
<rect x="238" y="123.64" width="15" height="3.78" fill="#f0e03d"/>
<rect x="238" y="127.38" width="15" height="3.78" fill="#f5e646"/>
<rect x="238" y="131.11" width="15" height="3.78" fill="#d0dd48"/>
<rect x="238" y="134.85" width="15" height="3.78" fill="#aad44b"/>
<rect x="238" y="138.58" width="15" height="3.78" fill="#84cc4e"/>
<rect x="238" y="142.31" width="15" height="3.78" fill="#5fc350"/>
<rect x="238" y="146.05" width="15" height="3.78" fill="#68c873"/>
<rect x="238" y="149.78" width="15" height="3.78" fill="#70cd96"/>
<rect x="238" y="153.52" width="15" height="3.78" fill="#79d2b9"/>
<rect x="238" y="157.25" width="15" height="3.78" fill="#82d7dc"/>
<rect x="238" y="160.99" width="15" height="3.78" fill="#76c9db"/>
<rect x="238" y="164.72" width="15" height="3.78" fill="#69bcda"/>
<rect x="238" y="168.46" width="15" height="3.78" fill="#5caed8"/>
<rect x="238" y="172.2" width="15" height="3.78" fill="#50a0d7"/>
<rect x="238" y="175.93" width="15" height="3.78" fill="#4b94d1"/>
<rect x="238" y="179.67" width="15" height="3.78" fill="#4687ca"/>
<rect x="238" y="183.4" width="15" height="3.78" fill="#417ac4"/>
<rect x="238" y="187.14" width="15" height="3.78" fill="#3c6ebe"/>
<rect x="238" y="190.87" width="15" height="3.78" fill="#3864ba"/>
<rect x="238" y="194.61" width="15" height="3.78" fill="#345ab6"/>
<rect x="238" y="198.34" width="15" height="3.78" fill="#3150b3"/>
<rect x="238" y="202.08" width="15" height="3.78" fill="#2d46af"/>
<rect x="238" y="205.81" width="15" height="3.78" fill="#343dab"/>
<rect x="238" y="209.55" width="15" height="3.78" fill="#3c34a8"/>
<rect x="238" y="213.28" width="15" height="3.78" fill="#442ca4"/>
<rect x="238" y="217.02" width="15" height="3.78" fill="#4b23a0"/>
<rect x="238" y="220.75" width="15" height="3.78" fill="#5424a2"/>
<rect x="238" y="224.49" width="15" height="3.78" fill="#5c26a5"/>
<rect x="238" y="228.22" width="15" height="3.78" fill="#6527a8"/>
<rect x="238" y="231.96" width="15" height="3.78" fill="#6e28aa"/>
<rect x="238" y="235.69" width="15" height="3.78" fill="#772aae"/>
<rect x="238" y="239.43" width="15" height="3.78" fill="#802db2"/>
<rect x="238" y="243.16" width="15" height="3.78" fill="#8830b5"/>
<rect x="238" y="246.9" width="15" height="3.78" fill="#9132b9"/>
<rect x="238" y="250.63" width="15" height="3.78" fill="#9633bc"/>
<rect x="238" y="254.37" width="15" height="3.78" fill="#9b34be"/>
<rect x="238" y="258.1" width="15" height="3.78" fill="#a036c0"/>
<rect x="238" y="261.84" width="15" height="3.78" fill="#a537c3"/>
<path d="M238.50,41.47H252.50M238.50,45.20H252.50M238.50,48.94H252.50M238.50,52.67H252.50M238.50,41.47V52.67" stroke="rgba(35,20,10,0.85)" stroke-width="0.9" fill="none"/>
<path d="M238.50,56.41H252.50M238.50,60.14H252.50M238.50,63.88H252.50M238.50,67.61H252.50M238.50,56.41V67.61" stroke="rgba(35,20,10,0.85)" stroke-width="0.9" fill="none"/>
<path d="M238.50,71.35H252.50M238.50,75.08H252.50M238.50,78.82H252.50M238.50,82.55H252.50M238.50,71.35V82.55" stroke="rgba(35,20,10,0.85)" stroke-width="0.9" fill="none"/>
<path d="M238.50,86.29H252.50M238.50,90.02H252.50M238.50,93.76H252.50M238.50,97.49H252.50M238.50,86.29V97.49" stroke="rgba(35,20,10,0.85)" stroke-width="0.9" fill="none"/>
<path d="M238.50,101.23H252.50M238.50,104.96H252.50M238.50,108.70H252.50M238.50,112.43H252.50M238.50,101.23V112.43" stroke="rgba(35,20,10,0.85)" stroke-width="0.9" fill="none"/>
<path d="M238.50,116.17H252.50M238.50,119.91H252.50M238.50,123.64H252.50M238.50,127.38H252.50M238.50,116.17V127.38" stroke="rgba(35,20,10,0.85)" stroke-width="0.9" fill="none"/>
<path d="M238.50,131.11H252.50M238.50,134.85H252.50M238.50,138.58H252.50M238.50,142.31H252.50M238.50,131.11V142.31" stroke="rgba(35,20,10,0.85)" stroke-width="0.9" fill="none"/>
<path d="M238.50,146.05H252.50M238.50,149.78H252.50M238.50,153.52H252.50M238.50,157.25H252.50M238.50,146.05V157.25" stroke="rgba(35,20,10,0.85)" stroke-width="0.9" fill="none"/>
<path d="M238.50,160.99H252.50M238.50,164.72H252.50M238.50,168.46H252.50M238.50,172.19H252.50M238.50,160.99V172.19" stroke="rgba(35,20,10,0.85)" stroke-width="0.9" fill="none"/>
<path d="M238.50,175.93H252.50M238.50,179.67H252.50M238.50,183.40H252.50M238.50,187.14H252.50M238.50,175.93V187.14" stroke="rgba(35,20,10,0.85)" stroke-width="0.9" fill="none"/>
<path d="M238.50,190.87H252.50M238.50,194.61H252.50M238.50,198.34H252.50M238.50,202.08H252.50M238.50,190.87V202.08" stroke="rgba(35,20,10,0.85)" stroke-width="0.9" fill="none"/>
<path d="M238.50,205.81H252.50M238.50,209.55H252.50M238.50,213.28H252.50M238.50,217.02H252.50M238.50,205.81V217.02" stroke="rgba(35,20,10,0.85)" stroke-width="0.9" fill="none"/>
<path d="M238.50,220.75H252.50M238.50,224.49H252.50M238.50,228.22H252.50M238.50,231.96H252.50M238.50,220.75V231.96" stroke="rgba(35,20,10,0.85)" stroke-width="0.9" fill="none"/>
<path d="M238.50,235.69H252.50M238.50,239.43H252.50M238.50,243.16H252.50M238.50,246.90H252.50M238.50,235.69V246.90" stroke="rgba(35,20,10,0.85)" stroke-width="0.9" fill="none"/>
<path d="M238.50,250.63H252.50M238.50,254.37H252.50M238.50,258.10H252.50M238.50,261.83H252.50M238.50,250.63V261.83" stroke="rgba(35,20,10,0.85)" stroke-width="0.9" fill="none"/>
<rect x="213.5" y="273" width="39.5" height="8" fill="#f2f2f2"/>
<rect x="213.5" y="273" width="39.5" height="0.8" fill="#a8a8a8"/>
<text transform="translate(233.50,279.40) scale(0.84,1)" font-size="8" text-anchor="middle" fill="#101010" stroke="#101010" stroke-width="0.15">D</text>
<rect x="213.5" y="281" width="39.5" height="9" fill="#f2f2f2"/>
<rect x="213.5" y="281" width="39.5" height="0.8" fill="#a8a8a8"/>
<text transform="translate(233.50,288.40) scale(0.84,1)" font-size="8" text-anchor="middle" fill="#101010" stroke="#101010" stroke-width="0.15">Curvature</text>
<rect x="213.5" y="290" width="39.5" height="9" fill="#f2f2f2"/>
<rect x="213.5" y="290" width="39.5" height="0.8" fill="#a8a8a8"/>
<text transform="translate(233.50,297.40) scale(0.84,1)" font-size="8" text-anchor="middle" fill="#101010" stroke="#101010" stroke-width="0.15">Abs</text>
<rect x="213.5" y="273" width="0.8" height="26" fill="#a8a8a8"/>
<rect x="253" y="273" width="0.8" height="26" fill="#a8a8a8"/>
<rect x="253" y="33" width="1" height="266" fill="#a0a0a0"/>
<rect x="254" y="33" width="1" height="266" fill="#ffffff"/>
<text transform="translate(375.00,47.00) scale(0.85,1)" font-size="7.8" text-anchor="middle" fill="#101010" stroke="#101010" stroke-width="0.15">Sagittal Curvature (Front)</text>
<rect x="255" y="57" width="241" height="1" fill="#a0a0a0"/>
<rect x="255" y="58" width="241" height="1" fill="#ffffff"/>
<rect x="272" y="75" width="1" height="188" fill="#b4b4b4"/>
<line x1="269.2" y1="252.8" x2="273.0" y2="252.8" stroke="#9a9a9a" stroke-width="1"/>
<text transform="translate(268.00,255.72) scale(0.9,1)" font-size="8.2" text-anchor="end" fill="#1a1a1a" stroke="#1a1a1a" stroke-width="0.15">8</text>
<line x1="268.0" y1="231.9" x2="273.0" y2="231.9" stroke="#9a9a9a" stroke-width="1"/>
<line x1="269.2" y1="211.1" x2="273.0" y2="211.1" stroke="#9a9a9a" stroke-width="1"/>
<text transform="translate(268.00,213.96) scale(0.9,1)" font-size="8.2" text-anchor="end" fill="#1a1a1a" stroke="#1a1a1a" stroke-width="0.15">4</text>
<line x1="268.0" y1="190.2" x2="273.0" y2="190.2" stroke="#9a9a9a" stroke-width="1"/>
<line x1="269.2" y1="169.3" x2="273.0" y2="169.3" stroke="#9a9a9a" stroke-width="1"/>
<text transform="translate(268.00,172.20) scale(0.9,1)" font-size="8.2" text-anchor="end" fill="#1a1a1a" stroke="#1a1a1a" stroke-width="0.15">0</text>
<line x1="268.0" y1="148.4" x2="273.0" y2="148.4" stroke="#9a9a9a" stroke-width="1"/>
<line x1="269.2" y1="127.5" x2="273.0" y2="127.5" stroke="#9a9a9a" stroke-width="1"/>
<text transform="translate(268.00,130.44) scale(0.9,1)" font-size="8.2" text-anchor="end" fill="#1a1a1a" stroke="#1a1a1a" stroke-width="0.15">4</text>
<line x1="268.0" y1="106.7" x2="273.0" y2="106.7" stroke="#9a9a9a" stroke-width="1"/>
<line x1="269.2" y1="85.8" x2="273.0" y2="85.8" stroke="#9a9a9a" stroke-width="1"/>
<text transform="translate(268.00,88.68) scale(0.9,1)" font-size="8.2" text-anchor="end" fill="#1a1a1a" stroke="#1a1a1a" stroke-width="0.15">8</text>
<rect x="290" y="280" width="189" height="1" fill="#b4b4b4"/>
<line x1="301.0" y1="281.0" x2="301.0" y2="285.5" stroke="#9a9a9a" stroke-width="1"/>
<text transform="translate(300.98,292.60) scale(0.9,1)" font-size="8.2" text-anchor="middle" fill="#1a1a1a" stroke="#1a1a1a" stroke-width="0.15">8</text>
<line x1="321.9" y1="281.0" x2="321.9" y2="285.5" stroke="#9a9a9a" stroke-width="1"/>
<line x1="342.7" y1="281.0" x2="342.7" y2="285.5" stroke="#9a9a9a" stroke-width="1"/>
<text transform="translate(342.74,292.60) scale(0.9,1)" font-size="8.2" text-anchor="middle" fill="#1a1a1a" stroke="#1a1a1a" stroke-width="0.15">4</text>
<line x1="363.6" y1="281.0" x2="363.6" y2="285.5" stroke="#9a9a9a" stroke-width="1"/>
<line x1="384.5" y1="281.0" x2="384.5" y2="285.5" stroke="#9a9a9a" stroke-width="1"/>
<text transform="translate(384.50,292.60) scale(0.9,1)" font-size="8.2" text-anchor="middle" fill="#1a1a1a" stroke="#1a1a1a" stroke-width="0.15">0</text>
<line x1="405.4" y1="281.0" x2="405.4" y2="285.5" stroke="#9a9a9a" stroke-width="1"/>
<line x1="426.3" y1="281.0" x2="426.3" y2="285.5" stroke="#9a9a9a" stroke-width="1"/>
<text transform="translate(426.26,292.60) scale(0.9,1)" font-size="8.2" text-anchor="middle" fill="#1a1a1a" stroke="#1a1a1a" stroke-width="0.15">4</text>
<line x1="447.1" y1="281.0" x2="447.1" y2="285.5" stroke="#9a9a9a" stroke-width="1"/>
<line x1="468.0" y1="281.0" x2="468.0" y2="285.5" stroke="#9a9a9a" stroke-width="1"/>
<text transform="translate(468.02,292.60) scale(0.9,1)" font-size="8.2" text-anchor="middle" fill="#1a1a1a" stroke="#1a1a1a" stroke-width="0.15">8</text>
<text transform="translate(458.30,83.00)" font-size="15" text-anchor="start" fill="#000" font-weight="bold">OD</text>
<text transform="translate(291.90,269.70)" font-size="11.5" text-anchor="start" fill="#101010" font-weight="bold">T</text>
<text transform="translate(471.70,270.10)" font-size="11.5" text-anchor="start" fill="#101010" font-weight="bold">N</text>
<circle cx="296.5" cy="76.30000000000001" r="4.3" fill="#fff" fill-opacity="0.5" stroke="#202020" stroke-width="1"/>
<line x1="299.5" y1="79.30000000000001" x2="303.0" y2="83.30000000000001" stroke="#202020" stroke-width="1.5"/>
<text transform="translate(298.10,88.00) scale(0.85,1)" font-size="7.8" text-anchor="middle" fill="#1a1a1a" stroke="#1a1a1a" stroke-width="0.15">9mm</text>
<rect x="746" y="34.0" width="24" height="15.54" fill="#a028be"/>
<rect x="746" y="48.94" width="24" height="15.54" fill="#6e28aa"/>
<rect x="746" y="63.88" width="24" height="15.54" fill="#413caa"/>
<rect x="746" y="78.82" width="24" height="15.54" fill="#375ab4"/>
<rect x="746" y="93.76" width="24" height="15.54" fill="#4178c3"/>
<rect x="746" y="108.7" width="24" height="15.54" fill="#5596d2"/>
<rect x="746" y="123.64" width="24" height="15.54" fill="#64bee1"/>
<rect x="746" y="138.58" width="24" height="15.54" fill="#8cdcdc"/>
<rect x="746" y="153.52" width="24" height="15.54" fill="#f5dc32"/>
<rect x="746" y="168.46" width="24" height="15.54" fill="#f5c328"/>
<rect x="746" y="183.4" width="24" height="15.54" fill="#f0a032"/>
<rect x="746" y="198.34" width="24" height="15.54" fill="#eb7828"/>
<rect x="746" y="213.28" width="24" height="15.54" fill="#e65523"/>
<rect x="746" y="228.22" width="24" height="15.54" fill="#d72d28"/>
<rect x="746" y="243.16" width="24" height="15.54" fill="#b91e3c"/>
<rect x="746" y="258.1" width="24" height="15.54" fill="#8c326e"/>
<rect x="746" y="48.44" width="24" height="1" fill="#581669"/>
<rect x="746" y="63.38" width="24" height="1" fill="#3d165e"/>
<rect x="746" y="78.32" width="24" height="1" fill="#24215e"/>
<rect x="746" y="93.26" width="24" height="1" fill="#1e3263"/>
<rect x="746" y="108.2" width="24" height="1" fill="#24426b"/>
<rect x="746" y="123.14" width="24" height="1" fill="#2f5274"/>
<rect x="746" y="138.08" width="24" height="1" fill="#37697c"/>
<rect x="746" y="153.02" width="24" height="1" fill="#4d7979"/>
<rect x="746" y="167.96" width="24" height="1" fill="#87791c"/>
<rect x="746" y="182.9" width="24" height="1" fill="#876b16"/>
<rect x="746" y="197.84" width="24" height="1" fill="#84581c"/>
<rect x="746" y="212.78" width="24" height="1" fill="#814216"/>
<rect x="746" y="227.72" width="24" height="1" fill="#7f2f13"/>
<rect x="746" y="242.66" width="24" height="1" fill="#761916"/>
<rect x="746" y="257.6" width="24" height="1" fill="#661021"/>
<text transform="translate(758.00,44.20) scale(0.9,1)" font-size="7.2" text-anchor="middle" fill="#ecd4f2" stroke="#ecd4f2" stroke-width="0.15">-150</text>
<text transform="translate(758.00,59.14) scale(0.9,1)" font-size="7.2" text-anchor="middle" fill="#e2d4ee" stroke="#e2d4ee" stroke-width="0.15">-130</text>
<text transform="translate(758.00,74.08) scale(0.9,1)" font-size="7.2" text-anchor="middle" fill="#d9d8ee" stroke="#d9d8ee" stroke-width="0.15">-110</text>
<text transform="translate(758.00,89.02) scale(0.9,1)" font-size="7.2" text-anchor="middle" fill="#0f1932" stroke="#0f1932" stroke-width="0.15">-90</text>
<text transform="translate(758.00,103.96) scale(0.9,1)" font-size="7.2" text-anchor="middle" fill="#122237" stroke="#122237" stroke-width="0.15">-70</text>
<text transform="translate(758.00,118.90) scale(0.9,1)" font-size="7.2" text-anchor="middle" fill="#182a3b" stroke="#182a3b" stroke-width="0.15">-50</text>
<text transform="translate(758.00,133.84) scale(0.9,1)" font-size="7.2" text-anchor="middle" fill="#1c353f" stroke="#1c353f" stroke-width="0.15">-30</text>
<text transform="translate(758.00,148.78) scale(0.9,1)" font-size="7.2" text-anchor="middle" fill="#273e3e" stroke="#273e3e" stroke-width="0.15">-10</text>
<text transform="translate(758.00,163.72) scale(0.9,1)" font-size="7.2" text-anchor="middle" fill="#453e0e" stroke="#453e0e" stroke-width="0.15">+10</text>
<text transform="translate(758.00,178.66) scale(0.9,1)" font-size="7.2" text-anchor="middle" fill="#45370b" stroke="#45370b" stroke-width="0.15">+30</text>
<text transform="translate(758.00,193.60) scale(0.9,1)" font-size="7.2" text-anchor="middle" fill="#432d0e" stroke="#432d0e" stroke-width="0.15">+50</text>
<text transform="translate(758.00,208.54) scale(0.9,1)" font-size="7.2" text-anchor="middle" fill="#42220b" stroke="#42220b" stroke-width="0.15">+70</text>
<text transform="translate(758.00,223.48) scale(0.9,1)" font-size="7.2" text-anchor="middle" fill="#40180a" stroke="#40180a" stroke-width="0.15">+90</text>
<text transform="translate(758.00,238.42) scale(0.9,1)" font-size="7.2" text-anchor="middle" fill="#3c0d0b" stroke="#3c0d0b" stroke-width="0.15">+110</text>
<text transform="translate(758.00,253.36) scale(0.9,1)" font-size="7.2" text-anchor="middle" fill="#340811" stroke="#340811" stroke-width="0.15">+130</text>
<text transform="translate(758.00,268.30) scale(0.9,1)" font-size="7.2" text-anchor="middle" fill="#270e1f" stroke="#270e1f" stroke-width="0.15">+150</text>
<rect x="770" y="34" width="15.5" height="239" fill="#ffffff"/>
<rect x="770" y="37.73" width="15" height="3.78" fill="#a028be"/>
<rect x="770" y="41.47" width="15" height="3.78" fill="#9428b9"/>
<rect x="770" y="45.2" width="15" height="3.78" fill="#8728b4"/>
<rect x="770" y="48.94" width="15" height="3.78" fill="#7a28af"/>
<rect x="770" y="52.67" width="15" height="3.78" fill="#6e28aa"/>
<rect x="770" y="56.41" width="15" height="3.78" fill="#632daa"/>
<rect x="770" y="60.14" width="15" height="3.78" fill="#5832aa"/>
<rect x="770" y="63.88" width="15" height="3.78" fill="#4c37aa"/>
<rect x="770" y="67.61" width="15" height="3.78" fill="#413caa"/>
<rect x="770" y="71.35" width="15" height="3.78" fill="#3e44ac"/>
<rect x="770" y="75.08" width="15" height="3.78" fill="#3c4baf"/>
<rect x="770" y="78.82" width="15" height="3.78" fill="#3a52b2"/>
<rect x="770" y="82.55" width="15" height="3.78" fill="#375ab4"/>
<rect x="770" y="86.29" width="15" height="3.78" fill="#3a62b8"/>
<rect x="770" y="90.02" width="15" height="3.78" fill="#3c69bc"/>
<rect x="770" y="93.76" width="15" height="3.78" fill="#3e70bf"/>
<rect x="770" y="97.49" width="15" height="3.78" fill="#4178c3"/>
<rect x="770" y="101.23" width="15" height="3.78" fill="#4680c7"/>
<rect x="770" y="104.96" width="15" height="3.78" fill="#4b87ca"/>
<rect x="770" y="108.7" width="15" height="3.78" fill="#508ece"/>
<rect x="770" y="112.44" width="15" height="3.78" fill="#5596d2"/>
<rect x="770" y="116.17" width="15" height="3.78" fill="#59a0d6"/>
<rect x="770" y="119.91" width="15" height="3.78" fill="#5caada"/>
<rect x="770" y="123.64" width="15" height="3.78" fill="#60b4dd"/>
<rect x="770" y="127.38" width="15" height="3.78" fill="#64bee1"/>
<rect x="770" y="131.11" width="15" height="3.78" fill="#6ec6e0"/>
<rect x="770" y="134.85" width="15" height="3.78" fill="#78cdde"/>
<rect x="770" y="138.58" width="15" height="3.78" fill="#82d4dd"/>
<rect x="770" y="142.31" width="15" height="3.78" fill="#8cdcdc"/>
<rect x="770" y="146.05" width="15" height="3.78" fill="#8cdcdc"/>
<rect x="770" y="149.78" width="15" height="3.78" fill="#40b846"/>
<rect x="770" y="153.52" width="15" height="3.78" fill="#40b846"/>
<rect x="770" y="157.25" width="15" height="3.78" fill="#f5dc32"/>
<rect x="770" y="160.99" width="15" height="3.78" fill="#f5d630"/>
<rect x="770" y="164.72" width="15" height="3.78" fill="#f5d02d"/>
<rect x="770" y="168.46" width="15" height="3.78" fill="#f5c92a"/>
<rect x="770" y="172.2" width="15" height="3.78" fill="#f5c328"/>
<rect x="770" y="175.93" width="15" height="3.78" fill="#f4ba2a"/>
<rect x="770" y="179.67" width="15" height="3.78" fill="#f2b22d"/>
<rect x="770" y="183.4" width="15" height="3.78" fill="#f1a930"/>
<rect x="770" y="187.14" width="15" height="3.78" fill="#f0a032"/>
<rect x="770" y="190.87" width="15" height="3.78" fill="#ef9630"/>
<rect x="770" y="194.61" width="15" height="3.78" fill="#ee8c2d"/>
<rect x="770" y="198.34" width="15" height="3.78" fill="#ec822a"/>
<rect x="770" y="202.08" width="15" height="3.78" fill="#eb7828"/>
<rect x="770" y="205.81" width="15" height="3.78" fill="#ea6f27"/>
<rect x="770" y="209.55" width="15" height="3.78" fill="#e86626"/>
<rect x="770" y="213.28" width="15" height="3.78" fill="#e75e24"/>
<rect x="770" y="217.02" width="15" height="3.78" fill="#e65523"/>
<rect x="770" y="220.75" width="15" height="3.78" fill="#e24b24"/>
<rect x="770" y="224.49" width="15" height="3.78" fill="#de4126"/>
<rect x="770" y="228.22" width="15" height="3.78" fill="#db3727"/>
<rect x="770" y="231.96" width="15" height="3.78" fill="#d72d28"/>
<rect x="770" y="235.69" width="15" height="3.78" fill="#d0292d"/>
<rect x="770" y="239.43" width="15" height="3.78" fill="#c82632"/>
<rect x="770" y="243.16" width="15" height="3.78" fill="#c02237"/>
<rect x="770" y="246.9" width="15" height="3.78" fill="#b91e3c"/>
<rect x="770" y="250.63" width="15" height="3.78" fill="#ae2348"/>
<rect x="770" y="254.37" width="15" height="3.78" fill="#a22855"/>
<rect x="770" y="258.1" width="15" height="3.78" fill="#972d62"/>
<rect x="770" y="261.84" width="15" height="3.78" fill="#8c326e"/>
<path d="M770.50,41.47H784.50M770.50,45.20H784.50M770.50,48.94H784.50M770.50,52.67H784.50M770.50,41.47V52.67" stroke="rgba(35,20,10,0.85)" stroke-width="0.9" fill="none"/>
<path d="M770.50,56.41H784.50M770.50,60.14H784.50M770.50,63.88H784.50M770.50,67.61H784.50M770.50,56.41V67.61" stroke="rgba(35,20,10,0.85)" stroke-width="0.9" fill="none"/>
<path d="M770.50,71.35H784.50M770.50,75.08H784.50M770.50,78.82H784.50M770.50,82.55H784.50M770.50,71.35V82.55" stroke="rgba(35,20,10,0.85)" stroke-width="0.9" fill="none"/>
<path d="M770.50,86.29H784.50M770.50,90.02H784.50M770.50,93.76H784.50M770.50,97.49H784.50M770.50,86.29V97.49" stroke="rgba(35,20,10,0.85)" stroke-width="0.9" fill="none"/>
<path d="M770.50,101.23H784.50M770.50,104.96H784.50M770.50,108.70H784.50M770.50,112.43H784.50M770.50,101.23V112.43" stroke="rgba(35,20,10,0.85)" stroke-width="0.9" fill="none"/>
<path d="M770.50,116.17H784.50M770.50,119.91H784.50M770.50,123.64H784.50M770.50,127.38H784.50M770.50,116.17V127.38" stroke="rgba(35,20,10,0.85)" stroke-width="0.9" fill="none"/>
<path d="M770.50,131.11H784.50M770.50,134.85H784.50M770.50,138.58H784.50M770.50,142.31H784.50M770.50,131.11V142.31" stroke="rgba(35,20,10,0.85)" stroke-width="0.9" fill="none"/>
<path d="M770.50,146.05H784.50M770.50,149.78H784.50M770.50,153.52H784.50M770.50,157.25H784.50M770.50,146.05V157.25" stroke="rgba(35,20,10,0.85)" stroke-width="0.9" fill="none"/>
<path d="M770.50,160.99H784.50M770.50,164.72H784.50M770.50,168.46H784.50M770.50,172.19H784.50M770.50,160.99V172.19" stroke="rgba(35,20,10,0.85)" stroke-width="0.9" fill="none"/>
<path d="M770.50,175.93H784.50M770.50,179.67H784.50M770.50,183.40H784.50M770.50,187.14H784.50M770.50,175.93V187.14" stroke="rgba(35,20,10,0.85)" stroke-width="0.9" fill="none"/>
<path d="M770.50,190.87H784.50M770.50,194.61H784.50M770.50,198.34H784.50M770.50,202.08H784.50M770.50,190.87V202.08" stroke="rgba(35,20,10,0.85)" stroke-width="0.9" fill="none"/>
<path d="M770.50,205.81H784.50M770.50,209.55H784.50M770.50,213.28H784.50M770.50,217.02H784.50M770.50,205.81V217.02" stroke="rgba(35,20,10,0.85)" stroke-width="0.9" fill="none"/>
<path d="M770.50,220.75H784.50M770.50,224.49H784.50M770.50,228.22H784.50M770.50,231.96H784.50M770.50,220.75V231.96" stroke="rgba(35,20,10,0.85)" stroke-width="0.9" fill="none"/>
<path d="M770.50,235.69H784.50M770.50,239.43H784.50M770.50,243.16H784.50M770.50,246.90H784.50M770.50,235.69V246.90" stroke="rgba(35,20,10,0.85)" stroke-width="0.9" fill="none"/>
<path d="M770.50,250.63H784.50M770.50,254.37H784.50M770.50,258.10H784.50M770.50,261.83H784.50M770.50,250.63V261.83" stroke="rgba(35,20,10,0.85)" stroke-width="0.9" fill="none"/>
<rect x="745.5" y="273" width="39.5" height="8" fill="#f2f2f2"/>
<rect x="745.5" y="273" width="39.5" height="0.8" fill="#a8a8a8"/>
<text transform="translate(765.50,279.40) scale(0.84,1)" font-size="8" text-anchor="middle" fill="#101010" stroke="#101010" stroke-width="0.15">5.0 µm</text>
<rect x="745.5" y="281" width="39.5" height="9" fill="#f2f2f2"/>
<rect x="745.5" y="281" width="39.5" height="0.8" fill="#a8a8a8"/>
<text transform="translate(765.50,288.40) scale(0.84,1)" font-size="8" text-anchor="middle" fill="#101010" stroke="#101010" stroke-width="0.15">Elevation</text>
<rect x="745.5" y="290" width="39.5" height="9" fill="#f2f2f2"/>
<rect x="745.5" y="290" width="39.5" height="0.8" fill="#a8a8a8"/>
<text transform="translate(765.50,297.40) scale(0.84,1)" font-size="8" text-anchor="middle" fill="#101010" stroke="#101010" stroke-width="0.15">Height</text>
<rect x="745.5" y="273" width="0.8" height="26" fill="#a8a8a8"/>
<rect x="785" y="273" width="0.8" height="26" fill="#a8a8a8"/>
<rect x="745" y="33" width="1" height="266" fill="#a0a0a0"/>
<text transform="translate(623.50,42.00) scale(0.85,1)" font-size="7.8" text-anchor="middle" fill="#101010" stroke="#101010" stroke-width="0.15">Elevation (Front)</text>
<text transform="translate(623.50,53.20) scale(0.85,1)" font-size="7.8" text-anchor="middle" fill="#101010" stroke="#101010" stroke-width="0.15">BFTE=7.13/7.47 e=1.12 Float, Dia=8.00</text>
<rect x="503" y="57" width="242" height="1" fill="#a0a0a0"/>
<rect x="503" y="58" width="242" height="1" fill="#ffffff"/>
<rect x="522" y="75" width="1" height="188" fill="#b4b4b4"/>
<line x1="518.7" y1="252.8" x2="522.5" y2="252.8" stroke="#9a9a9a" stroke-width="1"/>
<text transform="translate(517.50,255.72) scale(0.9,1)" font-size="8.2" text-anchor="end" fill="#1a1a1a" stroke="#1a1a1a" stroke-width="0.15">8</text>
<line x1="517.5" y1="231.9" x2="522.5" y2="231.9" stroke="#9a9a9a" stroke-width="1"/>
<line x1="518.7" y1="211.1" x2="522.5" y2="211.1" stroke="#9a9a9a" stroke-width="1"/>
<text transform="translate(517.50,213.96) scale(0.9,1)" font-size="8.2" text-anchor="end" fill="#1a1a1a" stroke="#1a1a1a" stroke-width="0.15">4</text>
<line x1="517.5" y1="190.2" x2="522.5" y2="190.2" stroke="#9a9a9a" stroke-width="1"/>
<line x1="518.7" y1="169.3" x2="522.5" y2="169.3" stroke="#9a9a9a" stroke-width="1"/>
<text transform="translate(517.50,172.20) scale(0.9,1)" font-size="8.2" text-anchor="end" fill="#1a1a1a" stroke="#1a1a1a" stroke-width="0.15">0</text>
<line x1="517.5" y1="148.4" x2="522.5" y2="148.4" stroke="#9a9a9a" stroke-width="1"/>
<line x1="518.7" y1="127.5" x2="522.5" y2="127.5" stroke="#9a9a9a" stroke-width="1"/>
<text transform="translate(517.50,130.44) scale(0.9,1)" font-size="8.2" text-anchor="end" fill="#1a1a1a" stroke="#1a1a1a" stroke-width="0.15">4</text>
<line x1="517.5" y1="106.7" x2="522.5" y2="106.7" stroke="#9a9a9a" stroke-width="1"/>
<line x1="518.7" y1="85.8" x2="522.5" y2="85.8" stroke="#9a9a9a" stroke-width="1"/>
<text transform="translate(517.50,88.68) scale(0.9,1)" font-size="8.2" text-anchor="end" fill="#1a1a1a" stroke="#1a1a1a" stroke-width="0.15">8</text>
<rect x="540" y="280" width="189" height="1" fill="#b4b4b4"/>
<line x1="550.5" y1="281.0" x2="550.5" y2="285.5" stroke="#9a9a9a" stroke-width="1"/>
<text transform="translate(550.48,292.60) scale(0.9,1)" font-size="8.2" text-anchor="middle" fill="#1a1a1a" stroke="#1a1a1a" stroke-width="0.15">8</text>
<line x1="571.4" y1="281.0" x2="571.4" y2="285.5" stroke="#9a9a9a" stroke-width="1"/>
<line x1="592.2" y1="281.0" x2="592.2" y2="285.5" stroke="#9a9a9a" stroke-width="1"/>
<text transform="translate(592.24,292.60) scale(0.9,1)" font-size="8.2" text-anchor="middle" fill="#1a1a1a" stroke="#1a1a1a" stroke-width="0.15">4</text>
<line x1="613.1" y1="281.0" x2="613.1" y2="285.5" stroke="#9a9a9a" stroke-width="1"/>
<line x1="634.0" y1="281.0" x2="634.0" y2="285.5" stroke="#9a9a9a" stroke-width="1"/>
<text transform="translate(634.00,292.60) scale(0.9,1)" font-size="8.2" text-anchor="middle" fill="#1a1a1a" stroke="#1a1a1a" stroke-width="0.15">0</text>
<line x1="654.9" y1="281.0" x2="654.9" y2="285.5" stroke="#9a9a9a" stroke-width="1"/>
<line x1="675.8" y1="281.0" x2="675.8" y2="285.5" stroke="#9a9a9a" stroke-width="1"/>
<text transform="translate(675.76,292.60) scale(0.9,1)" font-size="8.2" text-anchor="middle" fill="#1a1a1a" stroke="#1a1a1a" stroke-width="0.15">4</text>
<line x1="696.6" y1="281.0" x2="696.6" y2="285.5" stroke="#9a9a9a" stroke-width="1"/>
<line x1="717.5" y1="281.0" x2="717.5" y2="285.5" stroke="#9a9a9a" stroke-width="1"/>
<text transform="translate(717.52,292.60) scale(0.9,1)" font-size="8.2" text-anchor="middle" fill="#1a1a1a" stroke="#1a1a1a" stroke-width="0.15">8</text>
<text transform="translate(707.80,83.00)" font-size="15" text-anchor="start" fill="#000" font-weight="bold">OD</text>
<text transform="translate(541.40,269.70)" font-size="11.5" text-anchor="start" fill="#101010" font-weight="bold">T</text>
<text transform="translate(721.20,270.10)" font-size="11.5" text-anchor="start" fill="#101010" font-weight="bold">N</text>
<circle cx="546" cy="76.30000000000001" r="4.3" fill="#fff" fill-opacity="0.5" stroke="#202020" stroke-width="1"/>
<line x1="549" y1="79.30000000000001" x2="552.5" y2="83.30000000000001" stroke="#202020" stroke-width="1.5"/>
<text transform="translate(547.60,88.00) scale(0.85,1)" font-size="7.8" text-anchor="middle" fill="#1a1a1a" stroke="#1a1a1a" stroke-width="0.15">9mm</text>
<rect x="214" y="310.0" width="24" height="15.54" fill="#d25f64"/>
<rect x="214" y="324.94" width="24" height="15.54" fill="#b42d32"/>
<rect x="214" y="339.88" width="24" height="15.54" fill="#c81e19"/>
<rect x="214" y="354.82" width="24" height="15.54" fill="#e66414"/>
<rect x="214" y="369.76" width="24" height="15.54" fill="#e6a01e"/>
<rect x="214" y="384.7" width="24" height="15.54" fill="#e1cd23"/>
<rect x="214" y="399.64" width="24" height="15.54" fill="#f5e646"/>
<rect x="214" y="414.58" width="24" height="15.54" fill="#5fc350"/>
<rect x="214" y="429.52" width="24" height="15.54" fill="#82d7dc"/>
<rect x="214" y="444.46" width="24" height="15.54" fill="#50a0d7"/>
<rect x="214" y="459.4" width="24" height="15.54" fill="#3c6ebe"/>
<rect x="214" y="474.34" width="24" height="15.54" fill="#2d46af"/>
<rect x="214" y="489.28" width="24" height="15.54" fill="#4b23a0"/>
<rect x="214" y="504.22" width="24" height="15.54" fill="#6e28aa"/>
<rect x="214" y="519.16" width="24" height="15.54" fill="#9132b9"/>
<rect x="214" y="534.1" width="24" height="15.54" fill="#a537c3"/>
<rect x="214" y="324.44" width="24" height="1" fill="#743437"/>
<rect x="214" y="339.38" width="24" height="1" fill="#63191c"/>
<rect x="214" y="354.32" width="24" height="1" fill="#6e100e"/>
<rect x="214" y="369.26" width="24" height="1" fill="#7f370b"/>
<rect x="214" y="384.2" width="24" height="1" fill="#7f5810"/>
<rect x="214" y="399.14" width="24" height="1" fill="#7c7113"/>
<rect x="214" y="414.08" width="24" height="1" fill="#877f26"/>
<rect x="214" y="429.02" width="24" height="1" fill="#346b2c"/>
<rect x="214" y="443.96" width="24" height="1" fill="#487679"/>
<rect x="214" y="458.9" width="24" height="1" fill="#2c5876"/>
<rect x="214" y="473.84" width="24" height="1" fill="#213d69"/>
<rect x="214" y="488.78" width="24" height="1" fill="#192660"/>
<rect x="214" y="503.72" width="24" height="1" fill="#291358"/>
<rect x="214" y="518.66" width="24" height="1" fill="#3d165e"/>
<rect x="214" y="533.6" width="24" height="1" fill="#501c66"/>
<text transform="translate(226.00,320.20) scale(0.9,1)" font-size="7.2" text-anchor="middle" fill="#3b1b1c" stroke="#3b1b1c" stroke-width="0.15">300</text>
<text transform="translate(226.00,335.14) scale(0.9,1)" font-size="7.2" text-anchor="middle" fill="#f0d5d6" stroke="#f0d5d6" stroke-width="0.15">340</text>
<text transform="translate(226.00,350.08) scale(0.9,1)" font-size="7.2" text-anchor="middle" fill="#f4d2d1" stroke="#f4d2d1" stroke-width="0.15">380</text>
<text transform="translate(226.00,365.02) scale(0.9,1)" font-size="7.2" text-anchor="middle" fill="#401c06" stroke="#401c06" stroke-width="0.15">420</text>
<text transform="translate(226.00,379.96) scale(0.9,1)" font-size="7.2" text-anchor="middle" fill="#402d08" stroke="#402d08" stroke-width="0.15">460</text>
<text transform="translate(226.00,394.90) scale(0.9,1)" font-size="7.2" text-anchor="middle" fill="#3f390a" stroke="#3f390a" stroke-width="0.15">500</text>
<text transform="translate(226.00,409.84) scale(0.9,1)" font-size="7.2" text-anchor="middle" fill="#454014" stroke="#454014" stroke-width="0.15">540</text>
<text transform="translate(226.00,424.78) scale(0.9,1)" font-size="7.2" text-anchor="middle" fill="#1b3716" stroke="#1b3716" stroke-width="0.15">580</text>
<text transform="translate(226.00,439.72) scale(0.9,1)" font-size="7.2" text-anchor="middle" fill="#243c3e" stroke="#243c3e" stroke-width="0.15">620</text>
<text transform="translate(226.00,454.66) scale(0.9,1)" font-size="7.2" text-anchor="middle" fill="#162d3c" stroke="#162d3c" stroke-width="0.15">660</text>
<text transform="translate(226.00,469.60) scale(0.9,1)" font-size="7.2" text-anchor="middle" fill="#111f35" stroke="#111f35" stroke-width="0.15">700</text>
<text transform="translate(226.00,484.54) scale(0.9,1)" font-size="7.2" text-anchor="middle" fill="#d5daef" stroke="#d5daef" stroke-width="0.15">740</text>
<text transform="translate(226.00,499.48) scale(0.9,1)" font-size="7.2" text-anchor="middle" fill="#dbd3ec" stroke="#dbd3ec" stroke-width="0.15">780</text>
<text transform="translate(226.00,514.42) scale(0.9,1)" font-size="7.2" text-anchor="middle" fill="#e2d4ee" stroke="#e2d4ee" stroke-width="0.15">820</text>
<text transform="translate(226.00,529.36) scale(0.9,1)" font-size="7.2" text-anchor="middle" fill="#e9d6f1" stroke="#e9d6f1" stroke-width="0.15">860</text>
<text transform="translate(226.00,544.30) scale(0.9,1)" font-size="7.2" text-anchor="middle" fill="#edd7f3" stroke="#edd7f3" stroke-width="0.15">900</text>
<rect x="238" y="310" width="15.5" height="239" fill="#ffffff"/>
<rect x="238" y="313.74" width="15" height="3.78" fill="#d25f64"/>
<rect x="238" y="317.47" width="15" height="3.78" fill="#ca5258"/>
<rect x="238" y="321.21" width="15" height="3.78" fill="#c3464b"/>
<rect x="238" y="324.94" width="15" height="3.78" fill="#bc3a3e"/>
<rect x="238" y="328.68" width="15" height="3.78" fill="#b42d32"/>
<rect x="238" y="332.41" width="15" height="3.78" fill="#b9292c"/>
<rect x="238" y="336.15" width="15" height="3.78" fill="#be2626"/>
<rect x="238" y="339.88" width="15" height="3.78" fill="#c3221f"/>
<rect x="238" y="343.62" width="15" height="3.78" fill="#c81e19"/>
<rect x="238" y="347.35" width="15" height="3.78" fill="#d03018"/>
<rect x="238" y="351.09" width="15" height="3.78" fill="#d74116"/>
<rect x="238" y="354.82" width="15" height="3.78" fill="#de5215"/>
<rect x="238" y="358.56" width="15" height="3.78" fill="#e66414"/>
<rect x="238" y="362.29" width="15" height="3.78" fill="#e67316"/>
<rect x="238" y="366.03" width="15" height="3.78" fill="#e68219"/>
<rect x="238" y="369.76" width="15" height="3.78" fill="#e6911c"/>
<rect x="238" y="373.5" width="15" height="3.78" fill="#e6a01e"/>
<rect x="238" y="377.23" width="15" height="3.78" fill="#e5ab1f"/>
<rect x="238" y="380.97" width="15" height="3.78" fill="#e4b620"/>
<rect x="238" y="384.7" width="15" height="3.78" fill="#e2c222"/>
<rect x="238" y="388.44" width="15" height="3.78" fill="#e1cd23"/>
<rect x="238" y="392.17" width="15" height="3.78" fill="#e6d32c"/>
<rect x="238" y="395.91" width="15" height="3.78" fill="#ebda34"/>
<rect x="238" y="399.64" width="15" height="3.78" fill="#f0e03d"/>
<rect x="238" y="403.38" width="15" height="3.78" fill="#f5e646"/>
<rect x="238" y="407.11" width="15" height="3.78" fill="#d0dd48"/>
<rect x="238" y="410.85" width="15" height="3.78" fill="#aad44b"/>
<rect x="238" y="414.58" width="15" height="3.78" fill="#84cc4e"/>
<rect x="238" y="418.31" width="15" height="3.78" fill="#5fc350"/>
<rect x="238" y="422.05" width="15" height="3.78" fill="#68c873"/>
<rect x="238" y="425.79" width="15" height="3.78" fill="#70cd96"/>
<rect x="238" y="429.52" width="15" height="3.78" fill="#79d2b9"/>
<rect x="238" y="433.25" width="15" height="3.78" fill="#82d7dc"/>
<rect x="238" y="436.99" width="15" height="3.78" fill="#76c9db"/>
<rect x="238" y="440.73" width="15" height="3.78" fill="#69bcda"/>
<rect x="238" y="444.46" width="15" height="3.78" fill="#5caed8"/>
<rect x="238" y="448.2" width="15" height="3.78" fill="#50a0d7"/>
<rect x="238" y="451.93" width="15" height="3.78" fill="#4b94d1"/>
<rect x="238" y="455.67" width="15" height="3.78" fill="#4687ca"/>
<rect x="238" y="459.4" width="15" height="3.78" fill="#417ac4"/>
<rect x="238" y="463.13" width="15" height="3.78" fill="#3c6ebe"/>
<rect x="238" y="466.87" width="15" height="3.78" fill="#3864ba"/>
<rect x="238" y="470.61" width="15" height="3.78" fill="#345ab6"/>
<rect x="238" y="474.34" width="15" height="3.78" fill="#3150b3"/>
<rect x="238" y="478.08" width="15" height="3.78" fill="#2d46af"/>
<rect x="238" y="481.81" width="15" height="3.78" fill="#343dab"/>
<rect x="238" y="485.55" width="15" height="3.78" fill="#3c34a8"/>
<rect x="238" y="489.28" width="15" height="3.78" fill="#442ca4"/>
<rect x="238" y="493.01" width="15" height="3.78" fill="#4b23a0"/>
<rect x="238" y="496.75" width="15" height="3.78" fill="#5424a2"/>
<rect x="238" y="500.49" width="15" height="3.78" fill="#5c26a5"/>
<rect x="238" y="504.22" width="15" height="3.78" fill="#6527a8"/>
<rect x="238" y="507.96" width="15" height="3.78" fill="#6e28aa"/>
<rect x="238" y="511.69" width="15" height="3.78" fill="#772aae"/>
<rect x="238" y="515.43" width="15" height="3.78" fill="#802db2"/>
<rect x="238" y="519.16" width="15" height="3.78" fill="#8830b5"/>
<rect x="238" y="522.89" width="15" height="3.78" fill="#9132b9"/>
<rect x="238" y="526.63" width="15" height="3.78" fill="#9633bc"/>
<rect x="238" y="530.37" width="15" height="3.78" fill="#9b34be"/>
<rect x="238" y="534.1" width="15" height="3.78" fill="#a036c0"/>
<rect x="238" y="537.84" width="15" height="3.78" fill="#a537c3"/>
<path d="M238.50,317.47H252.50M238.50,321.21H252.50M238.50,324.94H252.50M238.50,328.68H252.50M238.50,317.47V328.68" stroke="rgba(35,20,10,0.85)" stroke-width="0.9" fill="none"/>
<path d="M238.50,332.41H252.50M238.50,336.15H252.50M238.50,339.88H252.50M238.50,343.62H252.50M238.50,332.41V343.62" stroke="rgba(35,20,10,0.85)" stroke-width="0.9" fill="none"/>
<path d="M238.50,347.35H252.50M238.50,351.09H252.50M238.50,354.82H252.50M238.50,358.56H252.50M238.50,347.35V358.56" stroke="rgba(35,20,10,0.85)" stroke-width="0.9" fill="none"/>
<path d="M238.50,362.29H252.50M238.50,366.03H252.50M238.50,369.76H252.50M238.50,373.50H252.50M238.50,362.29V373.50" stroke="rgba(35,20,10,0.85)" stroke-width="0.9" fill="none"/>
<path d="M238.50,377.23H252.50M238.50,380.97H252.50M238.50,384.70H252.50M238.50,388.44H252.50M238.50,377.23V388.44" stroke="rgba(35,20,10,0.85)" stroke-width="0.9" fill="none"/>
<path d="M238.50,392.17H252.50M238.50,395.91H252.50M238.50,399.64H252.50M238.50,403.38H252.50M238.50,392.17V403.38" stroke="rgba(35,20,10,0.85)" stroke-width="0.9" fill="none"/>
<path d="M238.50,407.11H252.50M238.50,410.85H252.50M238.50,414.58H252.50M238.50,418.31H252.50M238.50,407.11V418.31" stroke="rgba(35,20,10,0.85)" stroke-width="0.9" fill="none"/>
<path d="M238.50,422.05H252.50M238.50,425.79H252.50M238.50,429.52H252.50M238.50,433.25H252.50M238.50,422.05V433.25" stroke="rgba(35,20,10,0.85)" stroke-width="0.9" fill="none"/>
<path d="M238.50,436.99H252.50M238.50,440.73H252.50M238.50,444.46H252.50M238.50,448.19H252.50M238.50,436.99V448.19" stroke="rgba(35,20,10,0.85)" stroke-width="0.9" fill="none"/>
<path d="M238.50,451.93H252.50M238.50,455.67H252.50M238.50,459.40H252.50M238.50,463.14H252.50M238.50,451.93V463.14" stroke="rgba(35,20,10,0.85)" stroke-width="0.9" fill="none"/>
<path d="M238.50,466.87H252.50M238.50,470.61H252.50M238.50,474.34H252.50M238.50,478.07H252.50M238.50,466.87V478.07" stroke="rgba(35,20,10,0.85)" stroke-width="0.9" fill="none"/>
<path d="M238.50,481.81H252.50M238.50,485.55H252.50M238.50,489.28H252.50M238.50,493.02H252.50M238.50,481.81V493.02" stroke="rgba(35,20,10,0.85)" stroke-width="0.9" fill="none"/>
<path d="M238.50,496.75H252.50M238.50,500.49H252.50M238.50,504.22H252.50M238.50,507.95H252.50M238.50,496.75V507.95" stroke="rgba(35,20,10,0.85)" stroke-width="0.9" fill="none"/>
<path d="M238.50,511.69H252.50M238.50,515.43H252.50M238.50,519.16H252.50M238.50,522.89H252.50M238.50,511.69V522.89" stroke="rgba(35,20,10,0.85)" stroke-width="0.9" fill="none"/>
<path d="M238.50,526.63H252.50M238.50,530.37H252.50M238.50,534.10H252.50M238.50,537.83H252.50M238.50,526.63V537.83" stroke="rgba(35,20,10,0.85)" stroke-width="0.9" fill="none"/>
<rect x="213.5" y="549" width="39.5" height="8" fill="#f2f2f2"/>
<rect x="213.5" y="549" width="39.5" height="0.8" fill="#a8a8a8"/>
<text transform="translate(233.50,555.40) scale(0.84,1)" font-size="8" text-anchor="middle" fill="#101010" stroke="#101010" stroke-width="0.15">10 µm</text>
<rect x="213.5" y="557" width="39.5" height="9" fill="#f2f2f2"/>
<rect x="213.5" y="557" width="39.5" height="0.8" fill="#a8a8a8"/>
<text transform="translate(233.50,564.40) scale(0.84,1)" font-size="8" text-anchor="middle" fill="#101010" stroke="#101010" stroke-width="0.15">Pachy.</text>
<rect x="213.5" y="566" width="39.5" height="9" fill="#f2f2f2"/>
<rect x="213.5" y="566" width="39.5" height="0.8" fill="#a8a8a8"/>
<text transform="translate(233.50,573.40) scale(0.84,1)" font-size="8" text-anchor="middle" fill="#101010" stroke="#101010" stroke-width="0.15">Abs</text>
<rect x="213.5" y="549" width="0.8" height="26" fill="#a8a8a8"/>
<rect x="253" y="549" width="0.8" height="26" fill="#a8a8a8"/>
<rect x="253" y="309" width="1" height="266" fill="#a0a0a0"/>
<rect x="254" y="309" width="1" height="266" fill="#ffffff"/>
<text transform="translate(375.00,323.00) scale(0.85,1)" font-size="7.8" text-anchor="middle" fill="#101010" stroke="#101010" stroke-width="0.15">Corneal Thickness</text>
<rect x="255" y="333" width="241" height="1" fill="#a0a0a0"/>
<rect x="255" y="334" width="241" height="1" fill="#ffffff"/>
<rect x="272" y="350" width="1" height="188" fill="#b4b4b4"/>
<line x1="269.0" y1="528.1" x2="272.8" y2="528.1" stroke="#9a9a9a" stroke-width="1"/>
<text transform="translate(267.80,531.02) scale(0.9,1)" font-size="8.2" text-anchor="end" fill="#1a1a1a" stroke="#1a1a1a" stroke-width="0.15">8</text>
<line x1="267.8" y1="507.2" x2="272.8" y2="507.2" stroke="#9a9a9a" stroke-width="1"/>
<line x1="269.0" y1="486.4" x2="272.8" y2="486.4" stroke="#9a9a9a" stroke-width="1"/>
<text transform="translate(267.80,489.26) scale(0.9,1)" font-size="8.2" text-anchor="end" fill="#1a1a1a" stroke="#1a1a1a" stroke-width="0.15">4</text>
<line x1="267.8" y1="465.5" x2="272.8" y2="465.5" stroke="#9a9a9a" stroke-width="1"/>
<line x1="269.0" y1="444.6" x2="272.8" y2="444.6" stroke="#9a9a9a" stroke-width="1"/>
<text transform="translate(267.80,447.50) scale(0.9,1)" font-size="8.2" text-anchor="end" fill="#1a1a1a" stroke="#1a1a1a" stroke-width="0.15">0</text>
<line x1="267.8" y1="423.7" x2="272.8" y2="423.7" stroke="#9a9a9a" stroke-width="1"/>
<line x1="269.0" y1="402.8" x2="272.8" y2="402.8" stroke="#9a9a9a" stroke-width="1"/>
<text transform="translate(267.80,405.74) scale(0.9,1)" font-size="8.2" text-anchor="end" fill="#1a1a1a" stroke="#1a1a1a" stroke-width="0.15">4</text>
<line x1="267.8" y1="382.0" x2="272.8" y2="382.0" stroke="#9a9a9a" stroke-width="1"/>
<line x1="269.0" y1="361.1" x2="272.8" y2="361.1" stroke="#9a9a9a" stroke-width="1"/>
<text transform="translate(267.80,363.98) scale(0.9,1)" font-size="8.2" text-anchor="end" fill="#1a1a1a" stroke="#1a1a1a" stroke-width="0.15">8</text>
<rect x="290" y="556" width="189" height="1" fill="#b4b4b4"/>
<line x1="300.8" y1="556.3" x2="300.8" y2="560.8" stroke="#9a9a9a" stroke-width="1"/>
<text transform="translate(300.78,567.90) scale(0.9,1)" font-size="8.2" text-anchor="middle" fill="#1a1a1a" stroke="#1a1a1a" stroke-width="0.15">8</text>
<line x1="321.7" y1="556.3" x2="321.7" y2="560.8" stroke="#9a9a9a" stroke-width="1"/>
<line x1="342.5" y1="556.3" x2="342.5" y2="560.8" stroke="#9a9a9a" stroke-width="1"/>
<text transform="translate(342.54,567.90) scale(0.9,1)" font-size="8.2" text-anchor="middle" fill="#1a1a1a" stroke="#1a1a1a" stroke-width="0.15">4</text>
<line x1="363.4" y1="556.3" x2="363.4" y2="560.8" stroke="#9a9a9a" stroke-width="1"/>
<line x1="384.3" y1="556.3" x2="384.3" y2="560.8" stroke="#9a9a9a" stroke-width="1"/>
<text transform="translate(384.30,567.90) scale(0.9,1)" font-size="8.2" text-anchor="middle" fill="#1a1a1a" stroke="#1a1a1a" stroke-width="0.15">0</text>
<line x1="405.2" y1="556.3" x2="405.2" y2="560.8" stroke="#9a9a9a" stroke-width="1"/>
<line x1="426.1" y1="556.3" x2="426.1" y2="560.8" stroke="#9a9a9a" stroke-width="1"/>
<text transform="translate(426.06,567.90) scale(0.9,1)" font-size="8.2" text-anchor="middle" fill="#1a1a1a" stroke="#1a1a1a" stroke-width="0.15">4</text>
<line x1="446.9" y1="556.3" x2="446.9" y2="560.8" stroke="#9a9a9a" stroke-width="1"/>
<line x1="467.8" y1="556.3" x2="467.8" y2="560.8" stroke="#9a9a9a" stroke-width="1"/>
<text transform="translate(467.82,567.90) scale(0.9,1)" font-size="8.2" text-anchor="middle" fill="#1a1a1a" stroke="#1a1a1a" stroke-width="0.15">8</text>
<text transform="translate(458.10,358.30)" font-size="15" text-anchor="start" fill="#000" font-weight="bold">OD</text>
<text transform="translate(291.70,545.00)" font-size="11.5" text-anchor="start" fill="#101010" font-weight="bold">T</text>
<text transform="translate(471.50,545.40)" font-size="11.5" text-anchor="start" fill="#101010" font-weight="bold">N</text>
<circle cx="296.3" cy="351.6" r="4.3" fill="#fff" fill-opacity="0.5" stroke="#202020" stroke-width="1"/>
<line x1="299.3" y1="354.6" x2="302.8" y2="358.6" stroke="#202020" stroke-width="1.5"/>
<text transform="translate(297.90,363.30) scale(0.85,1)" font-size="7.8" text-anchor="middle" fill="#1a1a1a" stroke="#1a1a1a" stroke-width="0.15">9mm</text>
<rect x="746" y="310.0" width="24" height="15.54" fill="#a028be"/>
<rect x="746" y="324.94" width="24" height="15.54" fill="#6e28aa"/>
<rect x="746" y="339.88" width="24" height="15.54" fill="#413caa"/>
<rect x="746" y="354.82" width="24" height="15.54" fill="#375ab4"/>
<rect x="746" y="369.76" width="24" height="15.54" fill="#4178c3"/>
<rect x="746" y="384.7" width="24" height="15.54" fill="#5596d2"/>
<rect x="746" y="399.64" width="24" height="15.54" fill="#64bee1"/>
<rect x="746" y="414.58" width="24" height="15.54" fill="#8cdcdc"/>
<rect x="746" y="429.52" width="24" height="15.54" fill="#f5dc32"/>
<rect x="746" y="444.46" width="24" height="15.54" fill="#f5c328"/>
<rect x="746" y="459.4" width="24" height="15.54" fill="#f0a032"/>
<rect x="746" y="474.34" width="24" height="15.54" fill="#eb7828"/>
<rect x="746" y="489.28" width="24" height="15.54" fill="#e65523"/>
<rect x="746" y="504.22" width="24" height="15.54" fill="#d72d28"/>
<rect x="746" y="519.16" width="24" height="15.54" fill="#b91e3c"/>
<rect x="746" y="534.1" width="24" height="15.54" fill="#8c326e"/>
<rect x="746" y="324.44" width="24" height="1" fill="#581669"/>
<rect x="746" y="339.38" width="24" height="1" fill="#3d165e"/>
<rect x="746" y="354.32" width="24" height="1" fill="#24215e"/>
<rect x="746" y="369.26" width="24" height="1" fill="#1e3263"/>
<rect x="746" y="384.2" width="24" height="1" fill="#24426b"/>
<rect x="746" y="399.14" width="24" height="1" fill="#2f5274"/>
<rect x="746" y="414.08" width="24" height="1" fill="#37697c"/>
<rect x="746" y="429.02" width="24" height="1" fill="#4d7979"/>
<rect x="746" y="443.96" width="24" height="1" fill="#87791c"/>
<rect x="746" y="458.9" width="24" height="1" fill="#876b16"/>
<rect x="746" y="473.84" width="24" height="1" fill="#84581c"/>
<rect x="746" y="488.78" width="24" height="1" fill="#814216"/>
<rect x="746" y="503.72" width="24" height="1" fill="#7f2f13"/>
<rect x="746" y="518.66" width="24" height="1" fill="#761916"/>
<rect x="746" y="533.6" width="24" height="1" fill="#661021"/>
<text transform="translate(758.00,320.20) scale(0.9,1)" font-size="7.2" text-anchor="middle" fill="#ecd4f2" stroke="#ecd4f2" stroke-width="0.15">-150</text>
<text transform="translate(758.00,335.14) scale(0.9,1)" font-size="7.2" text-anchor="middle" fill="#e2d4ee" stroke="#e2d4ee" stroke-width="0.15">-130</text>
<text transform="translate(758.00,350.08) scale(0.9,1)" font-size="7.2" text-anchor="middle" fill="#d9d8ee" stroke="#d9d8ee" stroke-width="0.15">-110</text>
<text transform="translate(758.00,365.02) scale(0.9,1)" font-size="7.2" text-anchor="middle" fill="#0f1932" stroke="#0f1932" stroke-width="0.15">-90</text>
<text transform="translate(758.00,379.96) scale(0.9,1)" font-size="7.2" text-anchor="middle" fill="#122237" stroke="#122237" stroke-width="0.15">-70</text>
<text transform="translate(758.00,394.90) scale(0.9,1)" font-size="7.2" text-anchor="middle" fill="#182a3b" stroke="#182a3b" stroke-width="0.15">-50</text>
<text transform="translate(758.00,409.84) scale(0.9,1)" font-size="7.2" text-anchor="middle" fill="#1c353f" stroke="#1c353f" stroke-width="0.15">-30</text>
<text transform="translate(758.00,424.78) scale(0.9,1)" font-size="7.2" text-anchor="middle" fill="#273e3e" stroke="#273e3e" stroke-width="0.15">-10</text>
<text transform="translate(758.00,439.72) scale(0.9,1)" font-size="7.2" text-anchor="middle" fill="#453e0e" stroke="#453e0e" stroke-width="0.15">+10</text>
<text transform="translate(758.00,454.66) scale(0.9,1)" font-size="7.2" text-anchor="middle" fill="#45370b" stroke="#45370b" stroke-width="0.15">+30</text>
<text transform="translate(758.00,469.60) scale(0.9,1)" font-size="7.2" text-anchor="middle" fill="#432d0e" stroke="#432d0e" stroke-width="0.15">+50</text>
<text transform="translate(758.00,484.54) scale(0.9,1)" font-size="7.2" text-anchor="middle" fill="#42220b" stroke="#42220b" stroke-width="0.15">+70</text>
<text transform="translate(758.00,499.48) scale(0.9,1)" font-size="7.2" text-anchor="middle" fill="#40180a" stroke="#40180a" stroke-width="0.15">+90</text>
<text transform="translate(758.00,514.42) scale(0.9,1)" font-size="7.2" text-anchor="middle" fill="#3c0d0b" stroke="#3c0d0b" stroke-width="0.15">+110</text>
<text transform="translate(758.00,529.36) scale(0.9,1)" font-size="7.2" text-anchor="middle" fill="#340811" stroke="#340811" stroke-width="0.15">+130</text>
<text transform="translate(758.00,544.30) scale(0.9,1)" font-size="7.2" text-anchor="middle" fill="#270e1f" stroke="#270e1f" stroke-width="0.15">+150</text>
<rect x="770" y="310" width="15.5" height="239" fill="#ffffff"/>
<rect x="770" y="313.74" width="15" height="3.78" fill="#a028be"/>
<rect x="770" y="317.47" width="15" height="3.78" fill="#9428b9"/>
<rect x="770" y="321.21" width="15" height="3.78" fill="#8728b4"/>
<rect x="770" y="324.94" width="15" height="3.78" fill="#7a28af"/>
<rect x="770" y="328.68" width="15" height="3.78" fill="#6e28aa"/>
<rect x="770" y="332.41" width="15" height="3.78" fill="#632daa"/>
<rect x="770" y="336.15" width="15" height="3.78" fill="#5832aa"/>
<rect x="770" y="339.88" width="15" height="3.78" fill="#4c37aa"/>
<rect x="770" y="343.62" width="15" height="3.78" fill="#413caa"/>
<rect x="770" y="347.35" width="15" height="3.78" fill="#3e44ac"/>
<rect x="770" y="351.09" width="15" height="3.78" fill="#3c4baf"/>
<rect x="770" y="354.82" width="15" height="3.78" fill="#3a52b2"/>
<rect x="770" y="358.56" width="15" height="3.78" fill="#375ab4"/>
<rect x="770" y="362.29" width="15" height="3.78" fill="#3a62b8"/>
<rect x="770" y="366.03" width="15" height="3.78" fill="#3c69bc"/>
<rect x="770" y="369.76" width="15" height="3.78" fill="#3e70bf"/>
<rect x="770" y="373.5" width="15" height="3.78" fill="#4178c3"/>
<rect x="770" y="377.23" width="15" height="3.78" fill="#4680c7"/>
<rect x="770" y="380.97" width="15" height="3.78" fill="#4b87ca"/>
<rect x="770" y="384.7" width="15" height="3.78" fill="#508ece"/>
<rect x="770" y="388.44" width="15" height="3.78" fill="#5596d2"/>
<rect x="770" y="392.17" width="15" height="3.78" fill="#59a0d6"/>
<rect x="770" y="395.91" width="15" height="3.78" fill="#5caada"/>
<rect x="770" y="399.64" width="15" height="3.78" fill="#60b4dd"/>
<rect x="770" y="403.38" width="15" height="3.78" fill="#64bee1"/>
<rect x="770" y="407.11" width="15" height="3.78" fill="#6ec6e0"/>
<rect x="770" y="410.85" width="15" height="3.78" fill="#78cdde"/>
<rect x="770" y="414.58" width="15" height="3.78" fill="#82d4dd"/>
<rect x="770" y="418.31" width="15" height="3.78" fill="#8cdcdc"/>
<rect x="770" y="422.05" width="15" height="3.78" fill="#8cdcdc"/>
<rect x="770" y="425.79" width="15" height="3.78" fill="#40b846"/>
<rect x="770" y="429.52" width="15" height="3.78" fill="#40b846"/>
<rect x="770" y="433.25" width="15" height="3.78" fill="#f5dc32"/>
<rect x="770" y="436.99" width="15" height="3.78" fill="#f5d630"/>
<rect x="770" y="440.73" width="15" height="3.78" fill="#f5d02d"/>
<rect x="770" y="444.46" width="15" height="3.78" fill="#f5c92a"/>
<rect x="770" y="448.2" width="15" height="3.78" fill="#f5c328"/>
<rect x="770" y="451.93" width="15" height="3.78" fill="#f4ba2a"/>
<rect x="770" y="455.67" width="15" height="3.78" fill="#f2b22d"/>
<rect x="770" y="459.4" width="15" height="3.78" fill="#f1a930"/>
<rect x="770" y="463.13" width="15" height="3.78" fill="#f0a032"/>
<rect x="770" y="466.87" width="15" height="3.78" fill="#ef9630"/>
<rect x="770" y="470.61" width="15" height="3.78" fill="#ee8c2d"/>
<rect x="770" y="474.34" width="15" height="3.78" fill="#ec822a"/>
<rect x="770" y="478.08" width="15" height="3.78" fill="#eb7828"/>
<rect x="770" y="481.81" width="15" height="3.78" fill="#ea6f27"/>
<rect x="770" y="485.55" width="15" height="3.78" fill="#e86626"/>
<rect x="770" y="489.28" width="15" height="3.78" fill="#e75e24"/>
<rect x="770" y="493.01" width="15" height="3.78" fill="#e65523"/>
<rect x="770" y="496.75" width="15" height="3.78" fill="#e24b24"/>
<rect x="770" y="500.49" width="15" height="3.78" fill="#de4126"/>
<rect x="770" y="504.22" width="15" height="3.78" fill="#db3727"/>
<rect x="770" y="507.96" width="15" height="3.78" fill="#d72d28"/>
<rect x="770" y="511.69" width="15" height="3.78" fill="#d0292d"/>
<rect x="770" y="515.43" width="15" height="3.78" fill="#c82632"/>
<rect x="770" y="519.16" width="15" height="3.78" fill="#c02237"/>
<rect x="770" y="522.89" width="15" height="3.78" fill="#b91e3c"/>
<rect x="770" y="526.63" width="15" height="3.78" fill="#ae2348"/>
<rect x="770" y="530.37" width="15" height="3.78" fill="#a22855"/>
<rect x="770" y="534.1" width="15" height="3.78" fill="#972d62"/>
<rect x="770" y="537.84" width="15" height="3.78" fill="#8c326e"/>
<path d="M770.50,317.47H784.50M770.50,321.21H784.50M770.50,324.94H784.50M770.50,328.68H784.50M770.50,317.47V328.68" stroke="rgba(35,20,10,0.85)" stroke-width="0.9" fill="none"/>
<path d="M770.50,332.41H784.50M770.50,336.15H784.50M770.50,339.88H784.50M770.50,343.62H784.50M770.50,332.41V343.62" stroke="rgba(35,20,10,0.85)" stroke-width="0.9" fill="none"/>
<path d="M770.50,347.35H784.50M770.50,351.09H784.50M770.50,354.82H784.50M770.50,358.56H784.50M770.50,347.35V358.56" stroke="rgba(35,20,10,0.85)" stroke-width="0.9" fill="none"/>
<path d="M770.50,362.29H784.50M770.50,366.03H784.50M770.50,369.76H784.50M770.50,373.50H784.50M770.50,362.29V373.50" stroke="rgba(35,20,10,0.85)" stroke-width="0.9" fill="none"/>
<path d="M770.50,377.23H784.50M770.50,380.97H784.50M770.50,384.70H784.50M770.50,388.44H784.50M770.50,377.23V388.44" stroke="rgba(35,20,10,0.85)" stroke-width="0.9" fill="none"/>
<path d="M770.50,392.17H784.50M770.50,395.91H784.50M770.50,399.64H784.50M770.50,403.38H784.50M770.50,392.17V403.38" stroke="rgba(35,20,10,0.85)" stroke-width="0.9" fill="none"/>
<path d="M770.50,407.11H784.50M770.50,410.85H784.50M770.50,414.58H784.50M770.50,418.31H784.50M770.50,407.11V418.31" stroke="rgba(35,20,10,0.85)" stroke-width="0.9" fill="none"/>
<path d="M770.50,422.05H784.50M770.50,425.79H784.50M770.50,429.52H784.50M770.50,433.25H784.50M770.50,422.05V433.25" stroke="rgba(35,20,10,0.85)" stroke-width="0.9" fill="none"/>
<path d="M770.50,436.99H784.50M770.50,440.73H784.50M770.50,444.46H784.50M770.50,448.19H784.50M770.50,436.99V448.19" stroke="rgba(35,20,10,0.85)" stroke-width="0.9" fill="none"/>
<path d="M770.50,451.93H784.50M770.50,455.67H784.50M770.50,459.40H784.50M770.50,463.14H784.50M770.50,451.93V463.14" stroke="rgba(35,20,10,0.85)" stroke-width="0.9" fill="none"/>
<path d="M770.50,466.87H784.50M770.50,470.61H784.50M770.50,474.34H784.50M770.50,478.07H784.50M770.50,466.87V478.07" stroke="rgba(35,20,10,0.85)" stroke-width="0.9" fill="none"/>
<path d="M770.50,481.81H784.50M770.50,485.55H784.50M770.50,489.28H784.50M770.50,493.02H784.50M770.50,481.81V493.02" stroke="rgba(35,20,10,0.85)" stroke-width="0.9" fill="none"/>
<path d="M770.50,496.75H784.50M770.50,500.49H784.50M770.50,504.22H784.50M770.50,507.95H784.50M770.50,496.75V507.95" stroke="rgba(35,20,10,0.85)" stroke-width="0.9" fill="none"/>
<path d="M770.50,511.69H784.50M770.50,515.43H784.50M770.50,519.16H784.50M770.50,522.89H784.50M770.50,511.69V522.89" stroke="rgba(35,20,10,0.85)" stroke-width="0.9" fill="none"/>
<path d="M770.50,526.63H784.50M770.50,530.37H784.50M770.50,534.10H784.50M770.50,537.83H784.50M770.50,526.63V537.83" stroke="rgba(35,20,10,0.85)" stroke-width="0.9" fill="none"/>
<rect x="745.5" y="549" width="39.5" height="8" fill="#f2f2f2"/>
<rect x="745.5" y="549" width="39.5" height="0.8" fill="#a8a8a8"/>
<text transform="translate(765.50,555.40) scale(0.84,1)" font-size="8" text-anchor="middle" fill="#101010" stroke="#101010" stroke-width="0.15">5.0 µm</text>
<rect x="745.5" y="557" width="39.5" height="9" fill="#f2f2f2"/>
<rect x="745.5" y="557" width="39.5" height="0.8" fill="#a8a8a8"/>
<text transform="translate(765.50,564.40) scale(0.84,1)" font-size="8" text-anchor="middle" fill="#101010" stroke="#101010" stroke-width="0.15">Elevation</text>
<rect x="745.5" y="566" width="39.5" height="9" fill="#f2f2f2"/>
<rect x="745.5" y="566" width="39.5" height="0.8" fill="#a8a8a8"/>
<text transform="translate(765.50,573.40) scale(0.84,1)" font-size="8" text-anchor="middle" fill="#101010" stroke="#101010" stroke-width="0.15">Height</text>
<rect x="745.5" y="549" width="0.8" height="26" fill="#a8a8a8"/>
<rect x="785" y="549" width="0.8" height="26" fill="#a8a8a8"/>
<rect x="745" y="309" width="1" height="266" fill="#a0a0a0"/>
<text transform="translate(623.50,318.00) scale(0.85,1)" font-size="7.8" text-anchor="middle" fill="#101010" stroke="#101010" stroke-width="0.15">Elevation (Back)</text>
<text transform="translate(623.50,329.20) scale(0.85,1)" font-size="7.8" text-anchor="middle" fill="#101010" stroke="#101010" stroke-width="0.15">BFTE=4.99/5.61 e=1.33 Float, Dia=8.00</text>
<rect x="503" y="333" width="242" height="1" fill="#a0a0a0"/>
<rect x="503" y="334" width="242" height="1" fill="#ffffff"/>
<rect x="522" y="350" width="1" height="188" fill="#b4b4b4"/>
<line x1="518.7" y1="528.1" x2="522.5" y2="528.1" stroke="#9a9a9a" stroke-width="1"/>
<text transform="translate(517.50,531.02) scale(0.9,1)" font-size="8.2" text-anchor="end" fill="#1a1a1a" stroke="#1a1a1a" stroke-width="0.15">8</text>
<line x1="517.5" y1="507.2" x2="522.5" y2="507.2" stroke="#9a9a9a" stroke-width="1"/>
<line x1="518.7" y1="486.4" x2="522.5" y2="486.4" stroke="#9a9a9a" stroke-width="1"/>
<text transform="translate(517.50,489.26) scale(0.9,1)" font-size="8.2" text-anchor="end" fill="#1a1a1a" stroke="#1a1a1a" stroke-width="0.15">4</text>
<line x1="517.5" y1="465.5" x2="522.5" y2="465.5" stroke="#9a9a9a" stroke-width="1"/>
<line x1="518.7" y1="444.6" x2="522.5" y2="444.6" stroke="#9a9a9a" stroke-width="1"/>
<text transform="translate(517.50,447.50) scale(0.9,1)" font-size="8.2" text-anchor="end" fill="#1a1a1a" stroke="#1a1a1a" stroke-width="0.15">0</text>
<line x1="517.5" y1="423.7" x2="522.5" y2="423.7" stroke="#9a9a9a" stroke-width="1"/>
<line x1="518.7" y1="402.8" x2="522.5" y2="402.8" stroke="#9a9a9a" stroke-width="1"/>
<text transform="translate(517.50,405.74) scale(0.9,1)" font-size="8.2" text-anchor="end" fill="#1a1a1a" stroke="#1a1a1a" stroke-width="0.15">4</text>
<line x1="517.5" y1="382.0" x2="522.5" y2="382.0" stroke="#9a9a9a" stroke-width="1"/>
<line x1="518.7" y1="361.1" x2="522.5" y2="361.1" stroke="#9a9a9a" stroke-width="1"/>
<text transform="translate(517.50,363.98) scale(0.9,1)" font-size="8.2" text-anchor="end" fill="#1a1a1a" stroke="#1a1a1a" stroke-width="0.15">8</text>
<rect x="540" y="556" width="189" height="1" fill="#b4b4b4"/>
<line x1="550.5" y1="556.3" x2="550.5" y2="560.8" stroke="#9a9a9a" stroke-width="1"/>
<text transform="translate(550.48,567.90) scale(0.9,1)" font-size="8.2" text-anchor="middle" fill="#1a1a1a" stroke="#1a1a1a" stroke-width="0.15">8</text>
<line x1="571.4" y1="556.3" x2="571.4" y2="560.8" stroke="#9a9a9a" stroke-width="1"/>
<line x1="592.2" y1="556.3" x2="592.2" y2="560.8" stroke="#9a9a9a" stroke-width="1"/>
<text transform="translate(592.24,567.90) scale(0.9,1)" font-size="8.2" text-anchor="middle" fill="#1a1a1a" stroke="#1a1a1a" stroke-width="0.15">4</text>
<line x1="613.1" y1="556.3" x2="613.1" y2="560.8" stroke="#9a9a9a" stroke-width="1"/>
<line x1="634.0" y1="556.3" x2="634.0" y2="560.8" stroke="#9a9a9a" stroke-width="1"/>
<text transform="translate(634.00,567.90) scale(0.9,1)" font-size="8.2" text-anchor="middle" fill="#1a1a1a" stroke="#1a1a1a" stroke-width="0.15">0</text>
<line x1="654.9" y1="556.3" x2="654.9" y2="560.8" stroke="#9a9a9a" stroke-width="1"/>
<line x1="675.8" y1="556.3" x2="675.8" y2="560.8" stroke="#9a9a9a" stroke-width="1"/>
<text transform="translate(675.76,567.90) scale(0.9,1)" font-size="8.2" text-anchor="middle" fill="#1a1a1a" stroke="#1a1a1a" stroke-width="0.15">4</text>
<line x1="696.6" y1="556.3" x2="696.6" y2="560.8" stroke="#9a9a9a" stroke-width="1"/>
<line x1="717.5" y1="556.3" x2="717.5" y2="560.8" stroke="#9a9a9a" stroke-width="1"/>
<text transform="translate(717.52,567.90) scale(0.9,1)" font-size="8.2" text-anchor="middle" fill="#1a1a1a" stroke="#1a1a1a" stroke-width="0.15">8</text>
<text transform="translate(707.80,358.30)" font-size="15" text-anchor="start" fill="#000" font-weight="bold">OD</text>
<text transform="translate(541.40,545.00)" font-size="11.5" text-anchor="start" fill="#101010" font-weight="bold">T</text>
<text transform="translate(721.20,545.40)" font-size="11.5" text-anchor="start" fill="#101010" font-weight="bold">N</text>
<circle cx="546" cy="351.6" r="4.3" fill="#fff" fill-opacity="0.5" stroke="#202020" stroke-width="1"/>
<line x1="549" y1="354.6" x2="552.5" y2="358.6" stroke="#202020" stroke-width="1.5"/>
<text transform="translate(547.60,363.30) scale(0.85,1)" font-size="7.8" text-anchor="middle" fill="#1a1a1a" stroke="#1a1a1a" stroke-width="0.15">9mm</text>
<defs><clipPath id="ctl"><circle cx="384.5" cy="169.3" r="94.3"/></clipPath><filter id="btl" x="-20%" y="-20%" width="140%" height="140%"><feGaussianBlur stdDeviation="2.2"/></filter><filter id="btl2" x="-50%" y="-50%" width="200%" height="200%"><feGaussianBlur stdDeviation="6"/></filter></defs>
<g clip-path="url(#ctl)">
<rect x="288.2" y="73.00000000000001" width="192.6" height="192.6" fill="#4a8fd0"/>
<g filter="url(#btl2)">
<ellipse cx="405" cy="118" rx="38" ry="24" fill="#4482ca"/>
<ellipse cx="376" cy="82" rx="34" ry="7" fill="#56a8de"/>
<path d="M284,150 Q288,100 330,86 Q330,110 345,125 Q350,140 330,148 Z" fill="#5cb6e0"/>
<ellipse cx="310" cy="130" rx="30" ry="26" fill="#64c0e0"/>
<ellipse cx="300" cy="140" rx="14" ry="14" fill="#6cc8e0"/>
<ellipse cx="330" cy="142" rx="40" ry="8" fill="#6ccae0"/>
<ellipse cx="463" cy="138" rx="9" ry="22" fill="#56a6dc"/>
<ellipse cx="425" cy="157" rx="40" ry="9" fill="#5cb6e0"/>
<ellipse cx="384" cy="146" rx="28" ry="7" fill="#60bce0"/>
</g>
<g filter="url(#btl)">
<path d="M282.0,136.0 C288.3,111.7 303.0,134.0 320.0,134.0 C337.0,134.0 365.7,134.3 384.0,136.0 C402.3,137.7 416.0,141.7 430.0,144.0 C444.0,146.3 458.8,142.3 468.0,150.0 C477.2,157.7 482.2,168.3 485.0,190.0 C487.8,211.7 518.8,265.0 485.0,280.0 C451.2,295.0 315.8,304.0 282.0,280.0 C248.2,256.0 275.7,160.3 282.0,136.0Z" fill="#5cb8e0"/>
<path d="M282.0,142.0 C288.3,118.7 303.0,140.0 320.0,140.0 C337.0,140.0 365.7,140.3 384.0,142.0 C402.3,143.7 417.1,147.0 430.0,150.0 C442.9,153.0 455.3,154.7 461.3,160.0 C467.3,165.3 465.1,175.3 466.0,182.0 C466.9,188.7 467.1,194.7 466.5,200.0 C465.9,205.3 464.2,209.3 462.5,214.0 C460.8,218.7 458.6,223.5 456.0,228.0 C453.4,232.5 450.3,236.8 447.0,241.0 C443.7,245.2 439.7,249.5 436.0,253.0 C432.3,256.5 428.0,257.5 425.0,262.0 C422.0,266.5 441.8,277.0 418.0,280.0 C394.2,283.0 304.7,303.0 282.0,280.0 C259.3,257.0 275.7,165.3 282.0,142.0Z" fill="#6cc8d8"/>
<path d="M282.0,149.0 C288.3,126.8 303.0,147.0 320.0,147.0 C337.0,147.0 366.5,147.7 384.0,149.0 C401.5,150.3 413.0,152.5 425.0,155.0 C437.0,157.5 450.2,159.4 456.0,164.0 C461.8,168.6 459.2,176.4 459.5,182.3 C459.8,188.2 459.1,194.0 458.0,199.6 C456.9,205.2 455.2,210.8 453.0,216.0 C450.8,221.2 448.0,225.9 445.0,230.5 C442.0,235.1 438.7,239.6 435.0,243.5 C431.3,247.4 427.2,250.9 423.0,254.0 C418.8,257.1 413.8,257.7 410.0,262.0 C406.2,266.3 421.3,277.0 400.0,280.0 C378.7,283.0 301.7,301.8 282.0,280.0 C262.3,258.2 275.7,171.2 282.0,149.0Z" fill="#5cc2b0"/>
<path d="M282.0,152.0 C288.3,131.2 308.7,150.2 320.0,150.0 C331.3,149.8 339.3,150.7 350.0,151.0 C360.7,151.3 373.2,151.0 384.0,152.0 C394.8,153.0 405.7,155.2 415.0,157.0 C424.3,158.8 433.7,161.2 440.0,163.0 C446.3,164.8 450.1,164.8 452.7,168.0 C455.3,171.2 455.4,177.0 455.5,182.3 C455.6,187.6 454.2,194.8 453.0,199.6 C451.8,204.4 449.8,207.5 448.3,211.3 C446.8,215.1 445.5,218.8 443.8,222.5 C442.1,226.2 440.2,230.1 438.1,233.8 C436.0,237.6 433.8,241.8 431.4,245.0 C429.0,248.2 426.2,250.4 423.5,252.9 C420.8,255.4 418.1,257.8 415.0,260.0 C411.9,262.2 410.8,263.5 405.0,266.0 C399.2,268.5 400.5,273.5 380.0,275.0 C359.5,276.5 298.3,295.5 282.0,275.0 C265.7,254.5 275.7,172.8 282.0,152.0Z" fill="#4cb84c"/>
<path d="M302.0,160.0 C304.7,157.8 320.3,156.0 330.0,155.0 C339.7,154.0 351.0,154.0 360.0,154.0 C369.0,154.0 374.8,154.0 384.0,155.0 C393.2,156.0 406.3,158.2 415.0,160.0 C423.7,161.8 431.4,164.0 436.0,166.0 C440.6,168.0 441.0,168.7 442.3,172.0 C443.6,175.3 444.0,181.2 444.0,185.8 C444.0,190.4 443.4,195.0 442.3,199.6 C441.2,204.2 439.4,209.1 437.1,213.4 C434.8,217.7 431.6,221.8 428.4,225.6 C425.2,229.3 421.8,232.7 418.1,235.9 C414.4,239.1 410.6,242.1 406.0,244.6 C401.4,247.1 395.6,248.6 390.4,251.0 C385.2,253.4 379.9,257.2 375.0,259.0 C370.1,260.8 365.7,262.3 360.7,261.9 C355.7,261.5 350.0,259.0 345.1,256.7 C340.2,254.4 335.6,251.8 331.3,248.0 C327.0,244.2 322.3,239.4 319.1,234.2 C315.9,229.0 313.8,222.7 312.2,216.9 C310.6,211.1 309.9,205.4 309.6,199.6 C309.3,193.8 309.8,187.6 310.5,182.3 C311.2,177.0 315.4,171.7 314.0,168.0 C312.6,164.3 299.3,162.2 302.0,160.0Z" fill="#78c83e"/>
<path d="M320.0,168.0 C322.9,165.4 334.3,159.8 345.0,158.0 C355.7,156.2 371.5,156.3 384.0,157.0 C396.5,157.7 411.4,158.9 420.0,162.0 C428.6,165.1 432.8,170.6 435.4,175.4 C438.0,180.2 436.0,185.8 435.4,191.0 C434.8,196.2 433.6,201.7 431.9,206.5 C430.2,211.3 427.9,215.6 425.0,220.0 C422.1,224.4 418.8,228.7 414.6,233.0 C410.4,237.3 405.1,242.7 400.0,246.0 C394.9,249.3 389.4,251.5 384.0,253.0 C378.6,254.5 372.9,255.5 367.6,255.0 C362.3,254.5 356.9,252.4 352.0,249.8 C347.1,247.2 342.2,243.4 338.2,239.4 C334.2,235.4 330.4,230.8 327.8,225.6 C325.2,220.4 323.5,214.1 322.6,208.3 C321.7,202.5 321.7,196.8 322.6,191.0 C323.5,185.2 328.2,177.5 327.8,173.7 C327.4,169.9 317.1,170.6 320.0,168.0Z" fill="#b0d632"/>
<path d="M333.0,175.4 C337.4,171.2 346.5,168.1 355.0,166.0 C363.5,163.9 374.0,162.7 384.0,163.0 C394.0,163.3 407.3,165.4 415.0,168.0 C422.7,170.6 427.7,174.4 430.2,178.8 C432.7,183.2 430.8,189.5 430.2,194.4 C429.6,199.3 428.7,203.7 426.7,208.3 C424.7,212.9 421.6,217.7 418.1,222.0 C414.7,226.3 410.7,230.5 406.0,234.0 C401.3,237.5 395.8,240.4 390.0,243.0 C384.2,245.6 376.5,249.5 371.0,249.8 C365.5,250.1 361.8,246.9 357.2,244.6 C352.6,242.3 347.3,239.4 343.4,235.9 C339.5,232.4 336.2,228.4 333.8,223.8 C331.4,219.2 329.6,213.8 328.7,208.3 C327.8,202.8 328.0,196.5 328.7,191.0 C329.4,185.5 328.6,179.6 333.0,175.4Z" fill="#ecdf2e"/>
<path d="M339.9,185.8 C342.7,180.6 347.6,174.6 355.0,172.0 C362.4,169.4 375.2,169.5 384.0,170.0 C392.8,170.5 402.0,172.9 408.0,175.0 C414.0,177.1 417.8,178.5 419.8,182.3 C421.8,186.1 420.7,193.3 419.8,197.9 C418.9,202.5 417.2,206.0 414.6,210.0 C412.0,214.0 408.2,218.3 404.2,222.0 C400.2,225.7 394.2,228.8 390.4,232.0 C386.6,235.2 385.2,240.2 381.4,241.1 C377.6,242.0 372.2,239.4 367.6,237.7 C363.0,236.0 357.7,233.6 353.7,230.7 C349.7,227.8 346.0,225.0 343.4,220.4 C340.8,215.8 338.8,208.9 338.2,203.1 C337.6,197.3 337.1,191.0 339.9,185.8Z" fill="#f2c628"/>
<path d="M353.7,184.0 C356.9,180.4 362.9,179.2 368.0,178.0 C373.1,176.8 378.7,176.7 384.0,177.0 C389.3,177.3 395.8,177.8 400.0,180.0 C404.2,182.2 407.8,186.7 409.4,190.0 C411.0,193.3 410.5,196.3 409.4,200.0 C408.2,203.7 405.4,208.0 402.5,212.0 C399.6,216.0 396.1,220.9 392.0,224.0 C387.9,227.1 382.9,230.4 378.0,230.7 C373.1,231.0 366.7,228.2 362.4,225.6 C358.1,223.0 354.3,219.5 352.0,215.2 C349.7,210.9 348.3,204.8 348.6,199.6 C348.9,194.4 350.5,187.6 353.7,184.0Z" fill="#eca626"/>
<path d="M364.1,191.0 C366.5,188.5 371.0,187.8 375.0,188.0 C379.0,188.2 385.8,190.1 388.0,192.0 C390.2,193.9 389.4,196.9 388.0,199.6 C386.6,202.3 383.1,206.6 379.7,208.3 C376.3,210.0 370.8,210.9 367.6,210.0 C364.4,209.1 361.3,206.3 360.7,203.1 C360.1,199.9 361.7,193.5 364.1,191.0Z" fill="#e6921e"/>
<ellipse cx="291" cy="178" rx="8" ry="26" fill="#62c4c4"/>
</g>
</g>
<circle cx="384.5" cy="169.3" r="30.8" fill="none" stroke="#1a1a3a" stroke-width="0.9"/>
<circle cx="384.5" cy="169.3" r="52" fill="none" stroke="#1a1a3a" stroke-width="0.9"/>
<circle cx="384.5" cy="169.3" r="72.7" fill="none" stroke="#1a1a3a" stroke-width="0.9"/>
<line x1="389.32" y1="138.88" x2="395.87" y2="97.50" stroke="#7a1414" stroke-width="2.6"/>
<line x1="379.68" y1="199.72" x2="373.13" y2="241.10" stroke="#7a1414" stroke-width="2.6"/>
<line x1="354.08" y1="164.48" x2="312.70" y2="157.93" stroke="#1a1a6a" stroke-width="2.6"/>
<line x1="414.92" y1="174.12" x2="456.30" y2="180.67" stroke="#1a1a6a" stroke-width="2.6"/>
<line x1="355.75" y1="180.34" x2="413.25" y2="158.26" stroke="#7a1414" stroke-width="2.6"/>
<line x1="395.54" y1="198.05" x2="373.46" y2="140.55" stroke="#1a1a6a" stroke-width="2.6"/>
<circle cx="382.2" cy="180.9" r="2.6" fill="none" stroke="#303030" stroke-width="0.8"/>
<rect x="379.5" y="103.3" width="14.4" height="8.1" fill="#fff" fill-opacity="0.95"/>
<text transform="translate(386.70,110.70) scale(0.84,1)" font-size="8.4" text-anchor="middle" fill="#901822" stroke="#901822" stroke-width="0.25">37.6</text>
<rect x="375.6" y="123.5" width="15.0" height="8.3" fill="#fff" fill-opacity="0.95"/>
<text transform="translate(383.10,131.10) scale(0.84,1)" font-size="8.4" text-anchor="middle" fill="#901822" stroke="#901822" stroke-width="0.25">37.5</text>
<rect x="370.8" y="151.1" width="14.6" height="8.2" fill="#fff" fill-opacity="0.95"/>
<text transform="translate(378.10,158.60) scale(0.84,1)" font-size="8.4" text-anchor="middle" fill="#26266e" stroke="#26266e" stroke-width="0.25">37.9</text>
<rect x="391.4" y="158.7" width="15.2" height="8.4" fill="#fff" fill-opacity="0.95"/>
<text transform="translate(399.00,166.40) scale(0.84,1)" font-size="8.4" text-anchor="middle" fill="#901822" stroke="#901822" stroke-width="0.25">41.0</text>
<rect x="362.6" y="171.5" width="15.5" height="8.1" fill="#fff" fill-opacity="0.95"/>
<text transform="translate(370.35,178.90) scale(0.84,1)" font-size="8.4" text-anchor="middle" fill="#901822" stroke="#901822" stroke-width="0.25">48.1</text>
<rect x="382.7" y="179.9" width="15.3" height="8.2" fill="#fff" fill-opacity="0.95"/>
<text transform="translate(390.35,187.40) scale(0.84,1)" font-size="8.4" text-anchor="middle" fill="#26266e" stroke="#26266e" stroke-width="0.25">50.0</text>
<rect x="378.2" y="207.5" width="15.0" height="8.2" fill="#fff" fill-opacity="0.95"/>
<text transform="translate(385.70,215.00) scale(0.84,1)" font-size="8.4" text-anchor="middle" fill="#901822" stroke="#901822" stroke-width="0.25">49.4</text>
<rect x="373.9" y="228.9" width="15.4" height="8.2" fill="#fff" fill-opacity="0.95"/>
<text transform="translate(381.60,236.40) scale(0.84,1)" font-size="8.4" text-anchor="middle" fill="#901822" stroke="#901822" stroke-width="0.25">45.3</text>
<rect x="314.6" y="162.5" width="15.2" height="8.2" fill="#fff" fill-opacity="0.95"/>
<text transform="translate(322.20,170.00) scale(0.84,1)" font-size="8.4" text-anchor="middle" fill="#26266e" stroke="#26266e" stroke-width="0.25">40.4</text>
<rect x="335.3" y="166.1" width="16.2" height="8.1" fill="#fff" fill-opacity="0.95"/>
<text transform="translate(343.40,173.50) scale(0.84,1)" font-size="8.4" text-anchor="middle" fill="#26266e" stroke="#26266e" stroke-width="0.25">41.8</text>
<rect x="418.4" y="163.7" width="15.3" height="8.2" fill="#fff" fill-opacity="0.95"/>
<text transform="translate(426.05,171.20) scale(0.84,1)" font-size="8.4" text-anchor="middle" fill="#26266e" stroke="#26266e" stroke-width="0.25">41.4</text>
<rect x="440.5" y="166.9" width="14.9" height="8.2" fill="#fff" fill-opacity="0.95"/>
<text transform="translate(447.95,174.40) scale(0.84,1)" font-size="8.4" text-anchor="middle" fill="#26266e" stroke="#26266e" stroke-width="0.25">39.9</text>
<text transform="translate(311.00,172.90) scale(0.9,1)" font-size="8.2" text-anchor="middle" fill="#2a5a2a" stroke="#2a5a2a" stroke-width="0.15">7</text>
<text transform="translate(332.00,173.10) scale(0.9,1)" font-size="8.2" text-anchor="middle" fill="#2a5a2a" stroke="#2a5a2a" stroke-width="0.15">5</text>
<text transform="translate(353.20,172.90) scale(0.9,1)" font-size="8.2" text-anchor="middle" fill="#2a5a2a" stroke="#2a5a2a" stroke-width="0.15">3</text>
<text transform="translate(415.80,172.50) scale(0.9,1)" font-size="8.2" text-anchor="middle" fill="#2a5a2a" stroke="#2a5a2a" stroke-width="0.15">3</text>
<text transform="translate(436.80,172.50) scale(0.9,1)" font-size="8.2" text-anchor="middle" fill="#2a5a2a" stroke="#2a5a2a" stroke-width="0.15">5</text>
<text transform="translate(457.60,172.50) scale(0.9,1)" font-size="8.2" text-anchor="middle" fill="#2a5a2a" stroke="#2a5a2a" stroke-width="0.15">7</text>
<defs><clipPath id="ctr"><circle cx="634" cy="169.3" r="94.3"/></clipPath><radialGradient id="gtr" gradientUnits="userSpaceOnUse" cx="634" cy="169.3" r="94.3"><stop offset="0.85" stop-color="#8cdcdc"/><stop offset="0.9" stop-color="#80d4dc"/><stop offset="0.94" stop-color="#6ec6e0"/><stop offset="0.975" stop-color="#5cb2e0"/><stop offset="1" stop-color="#50a2da"/></radialGradient></defs>
<g clip-path="url(#ctr)">
<circle cx="634" cy="169.3" r="94.3" fill="url(#gtr)"/>
<path d="M530.0,182.0 C532.0,164.2 539.5,175.9 541.7,173.2 C543.9,170.5 542.6,168.3 543.3,165.9 C544.0,163.5 544.9,161.1 545.9,158.7 C546.9,156.3 548.2,153.7 549.5,151.4 C550.8,149.2 552.1,147.2 553.6,145.2 C555.1,143.2 556.8,142.3 558.8,139.5 C560.8,136.7 563.6,131.4 565.7,128.4 C567.8,125.4 569.4,123.7 571.2,121.4 C573.1,119.1 574.9,116.8 576.8,114.5 C578.6,112.2 580.2,109.7 582.3,107.6 C584.4,105.5 586.7,103.9 589.2,102.1 C591.7,100.2 594.5,98.1 597.5,96.5 C600.5,94.9 603.8,93.6 607.2,92.4 C610.6,91.2 613.5,90.2 618.0,89.6 C622.5,89.0 628.7,88.6 634.0,88.6 C639.3,88.5 645.0,89.0 650.0,89.3 C655.0,89.6 659.6,89.5 663.8,90.3 C667.9,91.0 671.4,92.3 674.9,93.8 C678.4,95.3 681.6,97.2 684.6,99.3 C687.6,101.4 690.6,103.9 692.9,106.2 C695.2,108.5 696.8,110.6 698.4,113.1 C700.0,115.6 701.4,118.6 702.6,121.4 C703.8,124.2 704.6,126.7 705.4,129.7 C706.2,132.7 706.6,136.6 707.3,139.4 C708.0,142.2 708.7,144.2 709.4,146.7 C710.1,149.2 710.9,152.0 711.6,154.6 C712.4,157.2 713.1,159.9 713.9,162.5 C714.6,165.1 715.2,168.0 716.1,170.4 C717.0,172.8 718.2,175.1 719.5,177.1 C720.8,179.1 722.2,181.0 724.0,182.7 C725.8,184.3 727.3,185.8 730.0,187.0 C732.7,188.2 738.3,174.5 740.0,190.0 C741.7,205.5 775.0,265.0 740.0,280.0 C705.0,295.0 565.0,296.3 530.0,280.0 C495.0,263.7 528.0,199.8 530.0,182.0Z" fill="#40b846"/>
<path d="M688.8,140.8 C694.7,121.0 690.9,139.6 691.5,138.0 C692.1,136.4 692.2,133.9 692.2,131.1 C692.2,128.3 692.1,124.4 691.5,121.4 C690.9,118.4 690.2,115.9 688.8,113.1 C687.4,110.3 685.5,107.3 683.2,104.8 C680.9,102.3 678.1,99.7 674.9,97.9 C671.7,96.1 667.9,94.7 663.8,93.8 C659.6,92.9 655.0,92.6 650.0,92.4 C645.0,92.2 639.3,92.4 634.0,92.6 C628.7,92.8 621.5,93.4 618.0,93.8 C614.5,94.2 615.2,93.9 612.7,95.1 C610.2,96.2 606.2,98.2 603.0,100.7 C599.8,103.2 596.4,107.2 593.4,110.4 C590.4,113.6 587.4,117.1 585.1,120.1 C582.8,123.1 581.4,125.4 579.5,128.4 C577.6,131.4 576.1,134.7 574.0,138.0 C571.9,141.3 569.6,145.0 567.1,148.3 C564.6,151.6 560.9,154.7 558.8,157.6 C556.7,160.5 555.9,162.8 554.7,165.9 C553.5,169.0 552.7,173.2 551.6,176.3 C550.5,179.4 549.5,181.7 548.4,184.6 C547.3,187.5 546.1,191.4 545.3,194.0 C544.5,196.6 546.3,197.3 543.8,200.0 C541.2,202.7 532.3,196.7 530.0,210.0 C527.7,223.3 495.0,268.3 530.0,280.0 C565.0,291.7 705.0,293.5 740.0,280.0 C775.0,266.5 743.2,212.6 740.0,199.0 C736.8,185.4 725.4,198.1 720.6,198.5 C715.8,198.9 714.3,200.0 711.3,201.3 C708.3,202.6 705.3,203.9 702.7,206.5 C700.1,209.1 698.3,212.9 695.7,216.9 C693.1,220.9 690.3,226.7 687.1,230.7 C683.9,234.7 680.5,237.6 676.7,241.1 C673.0,244.6 668.1,248.8 664.6,251.5 C661.1,254.2 652.0,275.4 656.0,257.0 C660.0,238.6 682.9,160.6 688.8,140.8Z" fill="#f2e030"/>
<path d="M688.8,140.8 C686.8,140.2 684.1,140.3 681.8,139.4 C679.5,138.5 677.9,136.8 674.9,135.3 C671.9,133.8 667.9,131.4 663.8,130.4 C659.6,129.4 654.3,129.2 650.0,129.1 C645.7,129.0 643.3,129.3 638.0,130.1 C632.7,130.9 623.6,133.0 618.0,133.9 C612.4,134.8 608.5,134.6 604.4,135.3 C600.3,136.0 596.6,136.8 593.4,138.0 C590.2,139.2 587.4,140.6 585.1,142.2 C582.8,143.8 581.6,144.6 579.5,147.7 C577.4,150.8 574.0,156.8 572.3,160.7 C570.6,164.6 570.2,167.6 569.2,171.1 C568.2,174.6 566.9,178.4 566.1,181.5 C565.3,184.6 564.9,186.7 564.5,189.8 C564.1,192.9 563.5,196.9 564.0,200.0 C564.5,203.1 565.7,204.6 567.4,208.3 C569.1,212.0 571.7,217.8 574.3,222.1 C576.9,226.4 579.8,230.4 583.0,234.2 C586.2,237.9 589.7,241.3 593.4,244.6 C597.1,247.9 601.2,250.8 605.0,254.0 C608.8,257.2 611.5,261.7 616.0,264.0 C620.5,266.3 626.7,267.5 632.0,268.0 C637.3,268.5 643.8,268.3 648.0,267.0 C652.2,265.7 654.2,262.6 657.0,260.0 C659.8,257.4 661.3,254.7 664.6,251.5 C667.9,248.3 673.0,244.6 676.7,241.1 C680.5,237.6 683.9,234.7 687.1,230.7 C690.3,226.7 693.1,220.9 695.7,216.9 C698.3,212.9 700.1,209.1 702.7,206.5 C705.3,203.9 708.3,202.6 711.3,201.3 C714.3,200.0 719.8,200.7 720.6,198.5 C721.4,196.3 717.8,191.9 716.0,188.0 C714.2,184.1 712.0,179.7 710.0,175.0 C708.0,170.3 706.0,164.2 704.0,160.0 C702.0,155.8 699.7,152.8 698.0,150.0 C696.3,147.2 695.5,144.5 694.0,143.0 C692.5,141.5 690.8,141.4 688.8,140.8Z" fill="#40b846"/>
<path d="M598.6,152.6 C600.2,150.3 603.5,147.7 607.2,145.7 C610.9,143.7 615.9,141.9 621.0,140.5 C626.1,139.1 633.2,138.0 638.0,137.2 C642.8,136.4 646.1,135.6 650.0,135.5 C653.9,135.4 657.6,136.0 661.1,136.7 C664.6,137.3 668.0,138.0 670.8,139.4 C673.6,140.8 675.9,142.7 677.7,145.0 C679.5,147.3 681.1,150.1 681.5,153.0 C681.9,155.9 680.9,159.5 680.0,162.5 C679.1,165.5 677.7,169.1 676.0,171.0 C674.3,172.9 673.1,173.5 669.8,173.7 C666.5,173.8 661.3,173.2 656.0,171.9 C650.7,170.7 644.1,167.4 638.0,166.2 C631.9,165.0 625.0,165.2 619.3,164.7 C613.6,164.2 607.3,163.9 603.7,163.0 C600.1,162.1 598.6,161.2 597.7,159.5 C596.9,157.8 597.0,154.9 598.6,152.6Z" fill="#8adcdc"/>
<path d="M579.5,200.0 C580.7,197.9 584.1,195.1 586.4,194.4 C588.7,193.8 591.1,194.7 593.4,196.1 C595.7,197.5 597.4,200.5 600.3,203.1 C603.2,205.7 606.7,209.4 610.7,211.7 C614.7,214.0 620.0,215.8 624.5,216.9 C629.0,218.0 634.2,218.5 638.0,218.5 C641.8,218.5 642.9,217.2 647.3,216.9 C651.7,216.6 660.6,216.0 664.6,216.9 C668.6,217.8 670.4,219.8 671.5,222.1 C672.6,224.4 672.6,227.5 671.5,230.7 C670.4,233.9 667.8,238.0 664.6,241.1 C661.4,244.2 657.3,247.3 652.5,249.5 C647.7,251.7 640.7,253.6 636.0,254.0 C631.3,254.4 628.7,253.2 624.5,252.0 C620.3,250.8 615.0,249.1 610.7,247.0 C606.4,244.9 602.4,242.4 598.6,239.4 C594.9,236.4 591.1,232.8 588.2,229.0 C585.3,225.2 582.8,220.6 581.3,216.9 C579.8,213.2 579.3,209.8 579.0,207.0 C578.7,204.2 578.3,202.1 579.5,200.0Z" fill="#8adcdc"/>
<path d="M607.2,187.5 C607.5,184.9 608.7,181.0 610.7,178.8 C612.7,176.6 615.8,175.5 619.3,174.5 C622.8,173.5 626.7,172.7 631.4,172.8 C636.1,173.0 642.9,173.8 647.3,175.4 C651.7,177.0 655.2,179.7 657.7,182.3 C660.2,184.9 661.7,188.1 662.0,191.0 C662.3,193.9 661.3,197.0 659.4,199.6 C657.5,202.2 654.3,204.7 650.8,206.5 C647.3,208.3 642.3,210.3 638.5,210.5 C634.7,210.7 631.8,209.0 628.0,207.5 C624.2,206.0 619.1,203.5 615.9,201.3 C612.7,199.1 610.3,196.7 608.9,194.4 C607.5,192.1 606.9,190.1 607.2,187.5Z" fill="#f2e030"/>
<ellipse cx="649" cy="153.4" rx="13" ry="5.5" fill="#78cede"/>
<ellipse cx="623" cy="232.5" rx="10" ry="4" fill="#78cede"/>
</g>
<text transform="translate(606.80,115.50) scale(0.9,1)" font-size="7.4" text-anchor="middle" fill="#1a1a1a" stroke="#1a1a1a" stroke-width="0.15">+8</text>
<text transform="translate(633.70,108.80) scale(0.9,1)" font-size="7.4" text-anchor="middle" fill="#1a1a1a" stroke="#1a1a1a" stroke-width="0.15">+11</text>
<text transform="translate(661.60,115.50) scale(0.9,1)" font-size="7.4" text-anchor="middle" fill="#1a1a1a" stroke="#1a1a1a" stroke-width="0.15">+9</text>
<text transform="translate(585.50,132.70) scale(0.9,1)" font-size="7.4" text-anchor="middle" fill="#1a1a1a" stroke="#1a1a1a" stroke-width="0.15">+3</text>
<text transform="translate(634.30,130.40) scale(0.9,1)" font-size="7.4" text-anchor="middle" fill="#1a1a1a" stroke="#1a1a1a" stroke-width="0.15">+5</text>
<text transform="translate(683.50,132.70) scale(0.9,1)" font-size="7.4" text-anchor="middle" fill="#1a1a1a" stroke="#1a1a1a" stroke-width="0.15">+4</text>
<text transform="translate(605.10,142.70) scale(0.9,1)" font-size="7.4" text-anchor="middle" fill="#1a1a1a" stroke="#1a1a1a" stroke-width="0.15">0</text>
<text transform="translate(663.60,143.00) scale(0.9,1)" font-size="7.4" text-anchor="middle" fill="#2a4a6a" stroke="#2a4a6a" stroke-width="0.15">-2</text>
<text transform="translate(573.20,158.00) scale(0.9,1)" font-size="7.4" text-anchor="middle" fill="#1a1a1a" stroke="#1a1a1a" stroke-width="0.15">+3</text>
<text transform="translate(619.00,156.60) scale(0.9,1)" font-size="7.4" text-anchor="middle" fill="#2a4a6a" stroke="#2a4a6a" stroke-width="0.15">-5</text>
<text transform="translate(648.60,156.60) scale(0.9,1)" font-size="7.4" text-anchor="middle" fill="#2a4a6a" stroke="#2a4a6a" stroke-width="0.15">-8</text>
<text transform="translate(694.80,158.00) scale(0.9,1)" font-size="7.4" text-anchor="middle" fill="#1a1a1a" stroke="#1a1a1a" stroke-width="0.15">+1</text>
<text transform="translate(592.80,171.90) scale(0.9,1)" font-size="7.4" text-anchor="middle" fill="#2a4a6a" stroke="#2a4a6a" stroke-width="0.15">-2</text>
<text transform="translate(676.90,171.90) scale(0.9,1)" font-size="7.4" text-anchor="middle" fill="#2a4a6a" stroke="#2a4a6a" stroke-width="0.15">-3</text>
<text transform="translate(572.20,185.20) scale(0.9,1)" font-size="7.4" text-anchor="middle" fill="#1a1a1a" stroke="#1a1a1a" stroke-width="0.15">+1</text>
<text transform="translate(619.40,186.90) scale(0.9,1)" font-size="7.4" text-anchor="middle" fill="#1a1a1a" stroke="#1a1a1a" stroke-width="0.15">+7</text>
<text transform="translate(648.60,186.90) scale(0.9,1)" font-size="7.4" text-anchor="middle" fill="#1a1a1a" stroke="#1a1a1a" stroke-width="0.15">+5</text>
<text transform="translate(694.80,185.20) scale(0.9,1)" font-size="7.4" text-anchor="middle" fill="#1a1a1a" stroke="#1a1a1a" stroke-width="0.15">+1</text>
<text transform="translate(605.10,201.20) scale(0.9,1)" font-size="7.4" text-anchor="middle" fill="#1a1a1a" stroke="#1a1a1a" stroke-width="0.15">0</text>
<text transform="translate(663.60,201.20) scale(0.9,1)" font-size="7.4" text-anchor="middle" fill="#1a1a1a" stroke="#1a1a1a" stroke-width="0.15">+2</text>
<text transform="translate(585.50,211.10) scale(0.9,1)" font-size="7.4" text-anchor="middle" fill="#2a4a6a" stroke="#2a4a6a" stroke-width="0.15">-4</text>
<text transform="translate(634.00,212.80) scale(0.9,1)" font-size="7.4" text-anchor="middle" fill="#1a1a1a" stroke="#1a1a1a" stroke-width="0.15">+3</text>
<text transform="translate(683.20,211.10) scale(0.9,1)" font-size="7.4" text-anchor="middle" fill="#1a1a1a" stroke="#1a1a1a" stroke-width="0.15">0</text>
<text transform="translate(606.40,228.40) scale(0.9,1)" font-size="7.4" text-anchor="middle" fill="#2a4a6a" stroke="#2a4a6a" stroke-width="0.15">-7</text>
<text transform="translate(634.00,235.00) scale(0.9,1)" font-size="7.4" text-anchor="middle" fill="#2a4a6a" stroke="#2a4a6a" stroke-width="0.15">-8</text>
<text transform="translate(661.60,228.40) scale(0.9,1)" font-size="7.4" text-anchor="middle" fill="#2a4a6a" stroke="#2a4a6a" stroke-width="0.15">-5</text>
<circle cx="634.2" cy="169.2" r="3.3" fill="#fff"/>
<text transform="translate(634.00,171.90) scale(0.9,1)" font-size="7.4" text-anchor="middle" fill="#1a1a1a" stroke="#1a1a1a" stroke-width="0.15">0</text>
<circle cx="633.3" cy="181.6" r="3" fill="none" stroke="#202020" stroke-width="0.9"/>
<defs><clipPath id="cbl"><circle cx="384.3" cy="444.6" r="94.3"/></clipPath></defs>
<g clip-path="url(#cbl)">
<circle cx="384.3" cy="444.6" r="94.3" fill="#2f4ab0"/>
<path d="M482.1,542.3 482.4,436.3 482.0,346.0 285.7,346.3 286.0,542.5 352.9,542.3 357.8,539.3 360.0,538.6 371.0,539.0 384.0,537.0 397.0,537.2 418.0,530.8 430.8,524.3 436.0,523.5 442.9,524.3 447.9,526.3 471.3,542.3Z" fill="#3254b3" fill-rule="evenodd"/>
<path d="M286.0,542.4 331.5,542.3 342.7,536.3 355.0,534.0 360.0,533.7 373.0,535.3 396.0,534.0 401.0,532.9 415.0,528.4 431.0,521.2 436.0,519.9 442.0,519.3 447.0,519.7 451.0,521.2 469.0,532.4 482.0,538.9 482.4,438.3 482.0,346.1 285.7,346.3Z" fill="#365db6" fill-rule="evenodd"/>
<path d="M286.0,542.3 299.2,542.3 316.0,537.3 337.0,529.3 359.0,530.7 374.0,532.5 389.0,532.0 396.0,531.3 412.0,526.6 434.0,517.3 445.0,515.1 449.0,515.1 452.0,516.0 470.0,525.8 482.0,531.0 482.2,346.3 286.0,346.1Z" fill="#3867bc" fill-rule="evenodd"/>
<path d="M286.0,533.1 302.0,531.0 323.0,524.9 332.0,523.6 337.0,523.8 350.0,526.8 370.0,529.8 381.0,530.3 391.0,529.6 399.0,528.2 408.0,525.5 437.0,513.5 443.0,511.8 449.0,511.0 454.9,512.3 470.0,519.6 482.0,524.0 482.1,346.3 286.0,346.2Z" fill="#3c71c0" fill-rule="evenodd"/>
<path d="M482.0,517.5 482.0,346.2 285.9,346.3 286.0,522.1 300.0,521.5 309.0,520.2 318.0,518.1 324.0,517.9 334.0,519.4 350.0,523.9 364.0,526.7 376.0,528.0 386.0,528.1 395.0,526.7 405.0,524.2 437.0,510.6 444.0,508.6 450.0,507.8 457.0,508.9 473.0,515.1Z" fill="#3e7bc6" fill-rule="evenodd"/>
<path d="M482.0,511.3 482.0,351.6 472.4,346.3 286.0,346.3 286.0,511.3 296.0,512.1 314.0,511.0 319.0,511.2 327.0,513.3 348.0,520.5 360.0,523.7 369.0,525.2 383.0,526.3 390.6,525.3 405.0,521.9 424.0,514.0 436.0,508.2 447.0,505.2 452.0,504.8 458.0,505.4 474.0,509.9Z" fill="#4385cb" fill-rule="evenodd"/>
<path d="M482.0,505.0 482.0,374.7 465.1,363.3 446.0,353.6 435.9,346.3 310.4,346.3 298.0,355.9 286.0,367.1 286.0,500.1 294.0,502.5 310.0,504.0 319.0,505.9 344.0,516.5 362.0,522.0 383.0,524.1 389.2,523.3 404.0,519.6 423.0,511.7 435.0,505.9 445.0,502.8 452.0,502.0 459.0,502.0 475.0,504.8Z" fill="#4890d0" fill-rule="evenodd"/>
<path d="M482.0,497.7 482.0,395.9 476.2,390.3 460.0,377.8 445.0,368.5 432.0,361.3 414.1,346.3 343.5,346.3 330.0,352.6 310.0,367.8 290.9,387.3 286.0,393.4 286.0,484.0 291.4,489.3 295.8,492.3 321.0,502.1 340.0,511.9 349.0,515.6 364.0,520.1 382.0,521.7 389.0,520.9 403.1,517.3 421.0,509.8 434.0,503.6 443.0,500.6 462.0,498.2 467.0,498.2 475.0,499.2Z" fill="#4d9dd5" fill-rule="evenodd"/>
<path d="M476.0,489.6 479.3,486.3 482.0,481.0 482.0,417.0 473.6,405.3 466.0,397.8 460.3,390.3 455.1,385.3 443.0,376.6 428.8,368.3 416.0,359.3 403.0,352.8 398.0,351.2 392.0,350.3 372.0,351.2 364.0,352.7 356.0,355.1 347.0,358.5 338.0,362.8 325.0,371.9 310.1,385.3 296.1,403.3 290.6,413.3 287.5,422.3 286.0,429.9 286.0,440.2 286.8,452.3 287.7,458.3 289.1,463.3 295.4,477.3 300.8,484.3 308.6,490.3 317.8,496.3 336.0,506.9 346.0,511.9 358.0,516.0 366.0,518.0 379.0,519.1 387.0,518.6 397.0,516.4 404.0,514.3 438.0,499.4 458.0,495.2 466.0,492.7 473.0,491.1Z" fill="#56acdc" fill-rule="evenodd"/>
<path d="M368.0,515.8 383.0,516.3 398.0,513.5 406.0,510.7 435.0,497.8 442.0,495.7 455.0,492.9 461.2,490.3 468.4,485.3 471.4,481.3 472.8,477.3 474.1,468.3 478.0,455.3 478.9,437.3 477.4,429.3 469.5,411.3 466.1,406.3 458.0,396.4 452.0,390.3 444.0,384.0 425.5,373.3 412.0,364.4 404.0,360.6 395.0,358.1 387.0,357.5 378.0,358.1 356.0,363.5 347.0,367.1 330.0,377.0 315.0,390.1 303.6,405.3 298.7,414.3 293.9,430.3 293.5,438.3 294.1,452.3 295.0,458.3 300.2,472.3 305.3,480.3 319.4,493.3 338.0,505.2 345.0,508.8 352.0,511.5 361.0,514.4Z" fill="#64bce0" fill-rule="evenodd"/>
<path d="M370.0,513.5 383.0,513.5 398.0,510.8 406.0,507.9 434.0,495.5 440.0,493.6 453.0,490.6 458.0,488.4 463.0,484.3 466.8,478.3 472.9,453.3 473.5,438.3 472.9,433.3 471.6,428.3 468.1,419.3 465.1,413.3 456.0,400.9 450.0,395.1 441.2,388.3 423.0,378.7 406.8,368.3 401.0,366.0 391.0,364.0 385.0,363.4 380.0,363.8 356.0,368.8 349.0,371.6 332.2,381.3 318.5,393.3 309.0,406.3 305.3,412.3 302.5,418.3 300.5,424.3 299.0,431.3 298.5,446.3 300.0,458.3 301.8,464.3 304.8,471.3 307.8,476.3 310.9,480.3 322.8,492.3 339.0,503.0 347.0,507.0 355.0,510.0 363.0,512.4Z" fill="#74cada" fill-rule="evenodd"/>
<path d="M457.0,485.2 460.5,481.3 463.4,475.3 468.0,457.3 469.3,450.3 469.6,442.3 468.9,435.3 466.9,427.3 464.2,420.3 460.0,413.3 455.0,406.3 452.0,403.1 447.0,399.0 438.0,393.0 421.0,384.5 402.0,373.6 391.0,370.5 381.0,369.6 360.0,371.9 351.0,374.7 336.0,383.1 323.0,394.1 315.8,403.3 310.2,412.3 306.6,419.3 304.8,424.3 303.5,430.3 302.4,445.3 303.8,457.3 308.0,469.3 313.6,478.3 324.3,490.3 335.0,498.0 347.0,504.4 359.0,508.8 369.0,510.9 378.0,511.2 392.0,509.6 403.0,506.5 434.0,492.7 452.0,487.9Z" fill="#6fcac0" fill-rule="evenodd"/>
<path d="M454.1,483.3 457.4,479.3 460.0,473.6 464.1,458.3 465.8,449.3 466.0,443.3 465.3,437.3 463.1,428.3 461.0,422.8 453.0,411.3 449.2,407.3 445.0,404.0 435.0,398.1 400.0,380.5 388.0,376.6 375.0,374.6 361.0,375.1 352.0,377.6 338.0,385.6 325.5,396.3 318.8,405.3 310.6,420.3 307.6,430.3 306.2,445.3 307.2,456.3 310.6,467.3 316.4,477.3 325.6,488.3 335.0,495.5 347.0,501.9 359.0,506.3 369.0,508.4 378.0,508.6 392.0,507.0 403.0,503.8 434.0,489.9 450.0,485.4Z" fill="#5ac294" fill-rule="evenodd"/>
<path d="M452.0,479.8 455.0,475.8 457.6,469.3 460.9,457.3 462.3,448.3 462.3,443.3 461.3,437.3 459.3,430.3 457.0,424.9 450.0,415.4 442.0,408.6 433.0,403.6 402.0,388.4 391.0,383.9 375.0,379.1 364.0,378.1 355.0,379.5 349.0,382.1 342.2,386.3 330.0,396.1 323.2,404.3 316.8,416.3 312.5,427.3 310.0,441.3 310.1,453.3 312.3,463.3 317.1,473.3 326.0,485.5 334.0,492.3 345.0,498.5 358.0,503.5 369.0,506.0 378.0,506.2 392.0,504.6 403.0,501.3 432.0,487.8 448.0,482.3Z" fill="#4fbc67" fill-rule="evenodd"/>
<path d="M449.0,476.9 453.0,471.2 456.7,460.3 458.5,449.3 458.0,441.3 455.3,432.3 450.8,424.3 444.0,416.8 436.0,411.2 402.0,394.7 379.8,385.3 371.0,382.3 363.0,381.2 358.0,381.6 354.0,382.7 344.3,388.3 331.9,398.3 328.4,402.3 325.1,407.3 319.2,420.3 315.2,433.3 313.3,446.3 313.8,457.3 315.1,462.3 317.5,468.3 324.8,480.3 331.0,487.4 340.0,493.5 352.0,499.0 366.0,503.2 376.0,504.0 390.0,502.6 397.0,501.0 404.0,498.4 433.0,484.4 445.0,479.6Z" fill="#55bd4f" fill-rule="evenodd"/>
<path d="M446.9,473.3 450.8,467.3 453.8,458.3 454.8,450.3 454.0,442.3 451.1,434.3 446.0,426.3 440.4,420.3 433.0,415.2 403.0,400.6 387.0,393.8 374.0,387.6 367.4,385.3 362.0,384.4 358.0,384.5 355.1,385.3 348.0,389.3 335.0,399.4 331.4,403.3 328.8,407.3 323.3,420.3 318.6,436.3 316.7,447.3 316.7,456.3 317.8,461.3 319.6,466.3 326.3,478.3 332.0,485.4 340.0,491.1 352.0,496.6 366.0,500.8 376.0,501.7 389.0,500.6 398.0,498.3 407.6,494.3 441.5,477.3Z" fill="#68c24a" fill-rule="evenodd"/>
<path d="M444.0,470.6 447.7,465.3 450.2,458.3 451.0,450.3 450.0,443.3 447.1,436.3 441.6,428.3 436.6,423.3 430.0,418.7 402.0,404.9 385.0,398.2 370.0,390.5 365.0,388.6 361.0,387.8 356.0,388.3 350.8,391.3 337.0,402.0 332.7,407.3 328.2,418.3 322.0,439.3 320.1,448.3 319.8,456.3 322.2,465.3 327.9,476.3 334.0,484.3 340.0,488.5 352.3,494.3 366.0,498.4 377.0,499.5 389.0,498.4 399.0,495.7 410.7,490.3 437.9,475.3Z" fill="#8ecd48" fill-rule="evenodd"/>
<path d="M440.8,468.3 444.4,463.3 446.7,457.3 447.1,451.3 445.9,444.3 442.7,437.3 438.0,430.8 433.0,425.9 426.1,421.3 401.0,408.7 384.0,402.7 368.0,394.7 361.0,392.5 357.0,392.8 352.0,395.4 340.2,404.3 336.2,409.3 332.6,418.3 325.0,443.3 323.3,451.3 323.1,457.3 325.8,466.3 331.6,477.3 336.0,482.9 342.0,487.0 354.0,492.5 367.0,496.3 378.0,497.3 389.0,496.3 399.0,493.3 411.5,487.3 433.3,474.3Z" fill="#c0d945" fill-rule="evenodd"/>
<path d="M438.2,465.3 440.8,461.3 442.4,457.3 442.9,453.3 442.5,448.3 441.0,443.3 438.4,438.3 434.8,433.3 430.7,429.3 423.0,423.9 401.0,412.6 381.0,405.8 367.0,400.3 362.0,399.0 358.0,399.2 353.0,401.4 345.0,407.2 341.0,411.7 338.6,416.3 336.0,423.1 328.7,445.3 326.9,453.3 327.1,459.3 329.6,467.3 334.0,476.0 338.3,481.3 344.1,485.3 354.0,489.9 364.0,493.2 373.0,494.9 380.0,495.2 387.0,494.5 394.0,492.8 401.0,490.1 412.1,484.3 423.3,477.3 433.1,470.3Z" fill="#e1e144" fill-rule="evenodd"/>
<path d="M434.6,463.3 436.9,459.3 438.1,455.3 438.3,451.3 437.7,447.3 436.3,443.3 434.0,439.0 431.0,435.1 427.0,431.2 418.0,425.1 398.0,414.9 376.0,408.6 366.0,406.6 361.0,406.9 356.0,408.7 349.0,413.4 345.0,417.7 342.0,422.6 339.0,429.6 332.3,448.3 330.9,455.3 331.3,461.3 333.9,469.3 337.8,476.3 341.6,480.3 347.9,484.3 357.0,488.4 366.0,491.3 375.0,492.8 382.0,492.9 388.0,492.2 395.0,490.1 402.0,487.1 412.3,481.3 422.6,474.3 430.1,468.3Z" fill="#f2e444" fill-rule="evenodd"/>
<path d="M429.5,463.3 431.4,460.3 433.1,456.3 433.6,452.3 433.3,448.3 432.0,444.3 430.0,440.5 424.0,433.6 413.6,426.3 399.0,418.7 387.0,415.0 373.0,412.7 367.0,412.8 362.0,414.1 354.0,418.7 349.0,423.0 345.9,427.3 342.9,433.3 336.5,450.3 335.2,456.3 335.5,462.3 337.3,468.3 340.5,474.3 344.2,478.3 350.1,482.3 359.0,486.5 368.0,489.3 377.0,490.7 383.0,490.7 389.0,489.7 395.0,487.7 402.0,484.5 410.0,479.8 417.8,474.3 425.0,468.3Z" fill="#f2e13f" fill-rule="evenodd"/>
<path d="M391.0,486.7 399.0,483.3 408.0,478.0 416.9,471.3 423.0,465.3 426.5,460.3 428.4,455.3 428.8,450.3 427.6,445.3 424.0,439.3 418.0,433.4 409.2,427.3 400.0,422.5 391.0,419.4 380.0,417.4 372.0,417.2 365.0,418.8 359.9,421.3 354.5,425.3 350.8,429.3 347.8,434.3 340.1,454.3 339.6,460.3 341.0,467.3 343.6,472.3 348.0,477.1 354.0,481.1 361.0,484.4 369.0,487.0 377.0,488.3 384.0,488.3Z" fill="#f2db3a" fill-rule="evenodd"/>
<path d="M390.0,484.5 397.0,481.5 404.2,477.3 411.0,472.3 417.3,466.3 421.1,461.3 423.3,456.3 424.0,451.3 423.0,446.3 420.0,441.0 414.6,435.3 406.4,429.3 399.0,425.4 391.0,422.8 382.0,421.4 374.0,421.4 368.0,422.7 363.0,425.0 358.0,428.7 354.0,433.1 351.0,438.0 346.2,449.3 344.4,455.3 344.1,461.3 345.1,466.3 347.7,471.3 351.4,475.3 357.0,479.2 363.5,482.3 371.0,484.7 378.0,485.9 384.0,485.9Z" fill="#f2d236" fill-rule="evenodd"/>
<path d="M384.0,483.2 390.0,481.6 397.3,478.3 405.0,473.3 410.7,468.3 415.0,463.3 417.8,458.3 419.0,453.3 418.8,449.3 416.9,444.3 413.2,439.3 407.7,434.3 401.0,429.9 395.0,427.4 388.0,425.7 381.0,425.1 374.0,425.6 369.0,427.0 364.6,429.3 360.0,433.1 356.5,437.3 353.0,443.5 349.9,451.3 348.7,457.3 348.8,462.3 349.9,466.3 352.2,470.3 356.0,474.3 360.3,477.3 366.0,480.1 372.0,482.1 378.0,483.1Z" fill="#f0c232" fill-rule="evenodd"/>
<path d="M388.0,479.1 394.0,476.7 399.7,473.3 404.8,469.3 408.7,465.3 412.1,460.3 413.6,456.3 414.1,452.3 413.4,448.3 411.0,443.3 407.6,439.3 402.9,435.3 397.8,432.3 392.0,430.3 385.0,429.1 379.0,429.1 373.0,430.2 368.3,432.3 364.2,435.3 361.0,438.7 357.9,443.3 355.1,449.3 353.7,454.3 353.2,459.3 354.0,463.9 356.0,468.1 358.6,471.3 362.3,474.3 367.9,477.3 373.8,479.3 379.0,480.2 384.0,480.0Z" fill="#eeb22e" fill-rule="evenodd"/>
<path d="M383.0,476.6 387.0,475.9 392.0,473.9 396.7,471.3 401.0,468.0 404.5,464.3 407.0,460.6 408.4,457.3 409.0,453.3 408.4,449.3 407.0,445.9 404.4,442.3 401.0,439.1 397.0,436.4 393.0,434.7 388.0,433.5 383.0,433.1 378.0,433.6 374.0,434.7 370.0,436.7 366.0,440.0 363.0,443.6 360.4,448.3 358.6,453.3 358.1,458.3 358.6,462.3 359.8,465.3 361.9,468.3 365.1,471.3 369.0,473.7 374.0,475.7 379.0,476.6Z" fill="#eba62b" fill-rule="evenodd"/>
<path d="M379.0,472.4 386.0,471.9 393.0,468.9 399.0,464.1 401.2,461.3 402.7,458.3 403.4,455.3 403.4,452.3 401.7,447.3 397.3,442.3 392.0,439.3 388.0,438.2 384.0,437.8 380.0,438.1 376.0,439.3 372.3,441.3 369.0,444.1 366.5,447.3 364.5,451.3 363.5,455.3 363.5,459.3 364.3,462.3 365.9,465.3 368.9,468.3 372.0,470.3Z" fill="#e89928" fill-rule="evenodd"/>
<path d="M385.0,466.7 390.0,464.7 394.0,461.4 396.1,458.3 396.9,454.3 395.8,450.3 392.3,446.3 388.0,444.2 383.0,443.6 378.0,445.0 373.4,448.3 370.4,453.3 369.8,458.3 371.5,462.3 375.0,465.3 380.0,466.9Z" fill="#e48c24" fill-rule="evenodd"/>
</g>
<text transform="translate(384.30,383.80) scale(0.9,1)" font-size="7.4" text-anchor="middle" fill="#1a1a1a" stroke="#1a1a1a" stroke-width="0.15">601</text>
<text transform="translate(411.60,390.50) scale(0.9,1)" font-size="7.4" text-anchor="middle" fill="#1a1a1a" stroke="#1a1a1a" stroke-width="0.15">608</text>
<text transform="translate(434.20,408.10) scale(0.9,1)" font-size="7.4" text-anchor="middle" fill="#1a1a1a" stroke="#1a1a1a" stroke-width="0.15">598</text>
<text transform="translate(445.80,433.60) scale(0.9,1)" font-size="7.4" text-anchor="middle" fill="#1a1a1a" stroke="#1a1a1a" stroke-width="0.15">574</text>
<text transform="translate(445.80,460.20) scale(0.9,1)" font-size="7.4" text-anchor="middle" fill="#1a1a1a" stroke="#1a1a1a" stroke-width="0.15">558</text>
<text transform="translate(434.20,486.10) scale(0.9,1)" font-size="7.4" text-anchor="middle" fill="#1a1a1a" stroke="#1a1a1a" stroke-width="0.15">589</text>
<text transform="translate(411.60,504.10) scale(0.9,1)" font-size="7.4" text-anchor="middle" fill="#1a1a1a" stroke="#1a1a1a" stroke-width="0.15">616</text>
<text transform="translate(384.30,510.00) scale(0.9,1)" font-size="7.4" text-anchor="middle" fill="#1a1a1a" stroke="#1a1a1a" stroke-width="0.15">608</text>
<text transform="translate(357.10,504.10) scale(0.9,1)" font-size="7.4" text-anchor="middle" fill="#1a1a1a" stroke="#1a1a1a" stroke-width="0.15">593</text>
<text transform="translate(335.50,486.10) scale(0.9,1)" font-size="7.4" text-anchor="middle" fill="#1a1a1a" stroke="#1a1a1a" stroke-width="0.15">563</text>
<text transform="translate(323.50,460.20) scale(0.9,1)" font-size="7.4" text-anchor="middle" fill="#1a1a1a" stroke="#1a1a1a" stroke-width="0.15">559</text>
<text transform="translate(323.50,433.60) scale(0.9,1)" font-size="7.4" text-anchor="middle" fill="#1a1a1a" stroke="#1a1a1a" stroke-width="0.15">572</text>
<text transform="translate(335.50,408.10) scale(0.9,1)" font-size="7.4" text-anchor="middle" fill="#1a1a1a" stroke="#1a1a1a" stroke-width="0.15">566</text>
<text transform="translate(357.10,390.50) scale(0.9,1)" font-size="7.4" text-anchor="middle" fill="#1a1a1a" stroke="#1a1a1a" stroke-width="0.15">570</text>
<text transform="translate(384.30,405.40) scale(0.9,1)" font-size="7.4" text-anchor="middle" fill="#1a1a1a" stroke="#1a1a1a" stroke-width="0.15">560</text>
<text transform="translate(413.60,418.00) scale(0.9,1)" font-size="7.4" text-anchor="middle" fill="#1a1a1a" stroke="#1a1a1a" stroke-width="0.15">560</text>
<text transform="translate(426.20,446.90) scale(0.9,1)" font-size="7.4" text-anchor="middle" fill="#1a1a1a" stroke="#1a1a1a" stroke-width="0.15">518</text>
<text transform="translate(413.60,476.20) scale(0.9,1)" font-size="7.4" text-anchor="middle" fill="#1a1a1a" stroke="#1a1a1a" stroke-width="0.15">519</text>
<text transform="translate(384.30,488.50) scale(0.9,1)" font-size="7.4" text-anchor="middle" fill="#1a1a1a" stroke="#1a1a1a" stroke-width="0.15">510</text>
<text transform="translate(355.80,476.20) scale(0.9,1)" font-size="7.4" text-anchor="middle" fill="#1a1a1a" stroke="#1a1a1a" stroke-width="0.15">499</text>
<text transform="translate(342.80,446.90) scale(0.9,1)" font-size="7.4" text-anchor="middle" fill="#1a1a1a" stroke="#1a1a1a" stroke-width="0.15">522</text>
<text transform="translate(355.80,418.00) scale(0.9,1)" font-size="7.4" text-anchor="middle" fill="#1a1a1a" stroke="#1a1a1a" stroke-width="0.15">533</text>
<text transform="translate(370.00,432.00) scale(0.9,1)" font-size="7.4" text-anchor="middle" fill="#1a1a1a" stroke="#1a1a1a" stroke-width="0.15">494</text>
<text transform="translate(399.30,432.00) scale(0.9,1)" font-size="7.4" text-anchor="middle" fill="#1a1a1a" stroke="#1a1a1a" stroke-width="0.15">499</text>
<text transform="translate(399.30,461.90) scale(0.9,1)" font-size="7.4" text-anchor="middle" fill="#1a1a1a" stroke="#1a1a1a" stroke-width="0.15">465</text>
<text transform="translate(370.00,461.90) scale(0.9,1)" font-size="7.4" text-anchor="middle" fill="#1a1a1a" stroke="#1a1a1a" stroke-width="0.15">460</text>
<circle cx="384.8" cy="445.1" r="3" fill="#fff"/>
<text transform="translate(384.30,446.90) scale(0.9,1)" font-size="7.4" text-anchor="middle" fill="#1a1a1a" stroke="#1a1a1a" stroke-width="0.15">459</text>
<circle cx="383.3" cy="456.6" r="3" fill="none" stroke="#303030" stroke-width="0.9"/>
<defs><clipPath id="cbr"><circle cx="634" cy="444.6" r="94.3"/></clipPath><radialGradient id="gbr" gradientUnits="userSpaceOnUse" cx="634" cy="449.6" r="99"><stop offset="0.79" stop-color="#8cdcdc"/><stop offset="0.85" stop-color="#80d4dc"/><stop offset="0.9" stop-color="#6cc0e0"/><stop offset="0.94" stop-color="#56a4dc"/><stop offset="0.97" stop-color="#4680cc"/><stop offset="1" stop-color="#3458b8"/></radialGradient><radialGradient id="gor" cx="0.5" cy="0.5" r="0.5"><stop offset="0" stop-color="#eea42c"/><stop offset="0.4" stop-color="#f0b82c"/><stop offset="0.75" stop-color="#f2cc2e"/><stop offset="1" stop-color="#f2e030" stop-opacity="0"/></radialGradient><radialGradient id="gor2" cx="0.5" cy="0.5" r="0.5"><stop offset="0" stop-color="#f0c02c"/><stop offset="1" stop-color="#f2e030" stop-opacity="0"/></radialGradient><radialGradient id="gbl" cx="0.5" cy="0.5" r="0.5"><stop offset="0" stop-color="#56a8dc"/><stop offset="0.5" stop-color="#6cc0e0"/><stop offset="1" stop-color="#8cdcdc" stop-opacity="0"/></radialGradient><radialGradient id="gbl2" cx="0.5" cy="0.5" r="0.5"><stop offset="0" stop-color="#6cc0e0"/><stop offset="1" stop-color="#8cdcdc" stop-opacity="0"/></radialGradient></defs>
<g clip-path="url(#cbr)">
<circle cx="634" cy="444.6" r="94.3" fill="url(#gbr)"/>
<ellipse cx="592" cy="446" rx="14" ry="9" fill="url(#gbl2)"/>
<ellipse cx="660" cy="418" rx="15" ry="10" fill="url(#gbl2)"/>
<ellipse cx="615" cy="432" rx="12" ry="6" fill="url(#gbl2)" opacity="0.6"/>
<path d="M722.0,512.0 C716.5,509.2 713.6,499.0 712.3,495.0 C711.0,491.0 713.8,491.0 714.3,488.0 C714.8,485.0 715.2,480.8 715.4,477.2 C715.6,473.6 715.6,470.0 715.4,466.4 C715.2,462.8 714.7,459.2 714.3,455.6 C713.9,452.0 713.9,448.4 713.2,444.8 C712.5,441.2 711.2,436.8 710.0,434.0 C708.8,431.2 707.3,430.0 706.0,428.0 C704.7,426.0 703.4,423.9 702.0,422.0 C700.6,420.1 699.1,418.5 697.8,416.5 C696.5,414.5 695.1,410.8 694.2,410.0 C693.3,409.2 693.9,410.8 692.5,411.5 C691.1,412.2 687.5,412.6 686.0,414.0 C684.5,415.4 684.4,417.8 683.6,419.8 C682.9,421.8 682.3,424.1 681.5,426.0 C680.7,427.9 680.1,428.9 679.0,431.0 C677.9,433.1 676.7,436.2 675.0,438.5 C673.3,440.8 671.5,443.2 669.0,444.5 C666.5,445.8 663.2,445.9 660.0,446.0 C656.8,446.1 653.3,445.6 650.0,445.0 C646.7,444.4 642.9,443.2 640.0,442.7 C637.1,442.2 635.0,441.7 632.5,442.1 C630.0,442.5 627.6,443.8 625.0,445.2 C622.4,446.6 619.8,448.5 617.0,450.5 C614.2,452.5 611.3,454.8 608.5,457.0 C605.7,459.2 602.2,461.2 600.0,463.5 C597.8,465.8 596.7,470.3 595.0,470.5 C593.3,470.7 591.7,466.3 589.7,464.5 C587.7,462.7 585.4,461.5 582.8,459.5 C580.2,457.5 576.9,454.5 574.1,452.5 C571.4,450.5 568.6,447.8 566.3,447.5 C564.0,447.2 562.1,448.0 560.2,450.5 C558.3,453.0 556.7,457.6 555.0,462.5 C553.3,467.4 552.2,473.8 550.0,480.0 C547.8,486.2 545.3,486.7 542.0,500.0 C538.7,513.3 496.2,550.0 530.0,560.0 C563.8,570.0 709.2,568.0 745.0,560.0 C780.8,552.0 748.8,520.0 745.0,512.0 C741.2,504.0 727.5,514.8 722.0,512.0Z" fill="#f2e030"/>
<path d="M578.0,420.5 C575.7,420.4 573.7,419.2 572.5,417.5 C571.3,415.8 570.8,412.8 571.0,410.0 C571.2,407.2 572.7,403.2 573.5,401.0 C574.3,398.8 574.7,399.0 575.9,396.5 C577.1,394.0 578.6,389.2 580.8,386.0 C583.0,382.8 585.9,379.5 589.0,377.0 C592.1,374.5 595.6,372.4 599.4,371.0 C603.1,369.6 607.4,368.9 611.5,368.3 C615.6,367.7 619.6,367.4 624.0,367.2 C628.4,367.0 633.8,366.9 638.0,367.0 C642.2,367.1 645.3,366.9 649.0,367.6 C652.7,368.3 655.8,369.5 660.0,371.0 C664.2,372.5 670.3,374.5 674.0,376.8 C677.7,379.1 679.9,382.3 682.3,385.0 C684.7,387.7 686.8,390.3 688.5,392.9 C690.2,395.5 691.6,398.3 692.6,400.6 C693.6,402.9 694.3,405.0 694.2,406.8 C694.1,408.6 693.0,410.6 692.0,411.5 C691.0,412.4 689.3,412.7 688.0,412.5 C686.7,412.3 685.6,411.7 684.0,410.5 C682.4,409.3 680.5,406.9 678.2,405.3 C675.9,403.7 673.4,402.3 670.4,401.1 C667.4,399.9 663.7,398.4 660.0,398.3 C656.3,398.2 651.7,399.6 648.0,400.5 C644.3,401.4 641.9,401.9 638.0,403.5 C634.1,405.1 629.0,408.4 624.5,410.3 C620.0,412.2 615.0,413.6 610.7,414.6 C606.4,415.6 602.7,415.9 598.6,416.5 C594.5,417.1 589.8,417.3 586.4,418.0 C583.0,418.7 580.3,420.6 578.0,420.5Z" fill="#f2e030"/>
<clipPath id="ctop"><path d="M578.0,420.5 C575.7,420.4 573.7,419.2 572.5,417.5 C571.3,415.8 570.8,412.8 571.0,410.0 C571.2,407.2 572.7,403.2 573.5,401.0 C574.3,398.8 574.7,399.0 575.9,396.5 C577.1,394.0 578.6,389.2 580.8,386.0 C583.0,382.8 585.9,379.5 589.0,377.0 C592.1,374.5 595.6,372.4 599.4,371.0 C603.1,369.6 607.4,368.9 611.5,368.3 C615.6,367.7 619.6,367.4 624.0,367.2 C628.4,367.0 633.8,366.9 638.0,367.0 C642.2,367.1 645.3,366.9 649.0,367.6 C652.7,368.3 655.8,369.5 660.0,371.0 C664.2,372.5 670.3,374.5 674.0,376.8 C677.7,379.1 679.9,382.3 682.3,385.0 C684.7,387.7 686.8,390.3 688.5,392.9 C690.2,395.5 691.6,398.3 692.6,400.6 C693.6,402.9 694.3,405.0 694.2,406.8 C694.1,408.6 693.0,410.6 692.0,411.5 C691.0,412.4 689.3,412.7 688.0,412.5 C686.7,412.3 685.6,411.7 684.0,410.5 C682.4,409.3 680.5,406.9 678.2,405.3 C675.9,403.7 673.4,402.3 670.4,401.1 C667.4,399.9 663.7,398.4 660.0,398.3 C656.3,398.2 651.7,399.6 648.0,400.5 C644.3,401.4 641.9,401.9 638.0,403.5 C634.1,405.1 629.0,408.4 624.5,410.3 C620.0,412.2 615.0,413.6 610.7,414.6 C606.4,415.6 602.7,415.9 598.6,416.5 C594.5,417.1 589.8,417.3 586.4,418.0 C583.0,418.7 580.3,420.6 578.0,420.5Z"/></clipPath>
<g clip-path="url(#ctop)">
<ellipse cx="604" cy="390" rx="30" ry="20" fill="url(#gor)"/>
<ellipse cx="634" cy="383" rx="12" ry="8" fill="url(#gor2)" opacity="0.7"/>
</g>
<ellipse cx="697" cy="457.3" rx="9" ry="14" fill="url(#gor2)"/>
<ellipse cx="564" cy="488" rx="7" ry="14" fill="url(#gor2)" opacity="0.8"/>
<ellipse cx="632" cy="541" rx="26" ry="13" fill="url(#gor)"/>
<path d="M589.0,490.0 C590.1,488.2 592.0,486.5 594.0,485.5 C596.0,484.5 598.0,484.1 601.0,484.0 C604.0,483.9 607.8,484.6 612.0,485.0 C616.2,485.4 621.8,486.2 626.0,486.2 C630.2,486.2 633.4,486.4 637.0,485.0 C640.6,483.6 644.0,480.6 647.5,478.0 C651.0,475.4 655.0,471.8 658.0,469.7 C661.0,467.6 662.9,466.1 665.7,465.5 C668.5,464.9 672.2,464.7 674.8,466.0 C677.3,467.3 679.0,470.7 681.0,473.3 C683.0,475.9 685.5,478.3 687.0,481.5 C688.5,484.7 689.8,488.8 690.2,492.7 C690.6,496.6 690.1,501.2 689.3,504.8 C688.5,508.4 687.5,511.6 685.4,514.4 C683.3,517.1 680.5,519.8 676.7,521.3 C673.0,522.8 667.8,523.1 662.9,523.5 C658.0,523.9 652.8,523.6 647.3,523.5 C641.8,523.4 636.7,522.8 630.0,522.6 C623.3,522.4 613.7,522.9 607.2,522.5 C600.7,522.1 594.3,522.1 590.8,520.5 C587.3,518.9 586.9,515.2 586.2,512.6 C585.5,510.0 586.3,507.8 586.5,505.0 C586.7,502.2 587.1,498.5 587.5,496.0 C587.9,493.5 587.9,491.8 589.0,490.0Z" fill="#8cdcdc"/>
<ellipse cx="662" cy="501" rx="17" ry="13" fill="url(#gbl)"/>
<ellipse cx="612" cy="503" rx="13" ry="9" fill="url(#gbl2)"/>
<path d="M578.0,420.5 C575.7,420.4 573.7,419.2 572.5,417.5 C571.3,415.8 570.8,412.8 571.0,410.0 C571.2,407.2 572.7,403.2 573.5,401.0 C574.3,398.8 574.7,399.0 575.9,396.5 C577.1,394.0 578.6,389.2 580.8,386.0 C583.0,382.8 585.9,379.5 589.0,377.0 C592.1,374.5 595.6,372.4 599.4,371.0 C603.1,369.6 607.4,368.9 611.5,368.3 C615.6,367.7 619.6,367.4 624.0,367.2 C628.4,367.0 633.8,366.9 638.0,367.0 C642.2,367.1 645.3,366.9 649.0,367.6 C652.7,368.3 655.8,369.5 660.0,371.0 C664.2,372.5 670.3,374.5 674.0,376.8 C677.7,379.1 679.9,382.3 682.3,385.0 C684.7,387.7 686.8,390.3 688.5,392.9 C690.2,395.5 691.6,398.3 692.6,400.6 C693.6,402.9 694.3,405.0 694.2,406.8 C694.1,408.6 693.0,410.6 692.0,411.5 C691.0,412.4 689.3,412.7 688.0,412.5 C686.7,412.3 685.6,411.7 684.0,410.5 C682.4,409.3 680.5,406.9 678.2,405.3 C675.9,403.7 673.4,402.3 670.4,401.1 C667.4,399.9 663.7,398.4 660.0,398.3 C656.3,398.2 651.7,399.6 648.0,400.5 C644.3,401.4 641.9,401.9 638.0,403.5 C634.1,405.1 629.0,408.4 624.5,410.3 C620.0,412.2 615.0,413.6 610.7,414.6 C606.4,415.6 602.7,415.9 598.6,416.5 C594.5,417.1 589.8,417.3 586.4,418.0 C583.0,418.7 580.3,420.6 578.0,420.5Z" fill="none" stroke="#40b846" stroke-width="2.8" stroke-linejoin="round"/>
<path d="M722.0,512.0 C720.4,509.2 713.6,499.0 712.3,495.0 C711.0,491.0 713.8,491.0 714.3,488.0 C714.8,485.0 715.2,480.8 715.4,477.2 C715.6,473.6 715.6,470.0 715.4,466.4 C715.2,462.8 714.7,459.2 714.3,455.6 C713.9,452.0 713.9,448.4 713.2,444.8 C712.5,441.2 711.2,436.8 710.0,434.0 C708.8,431.2 707.3,430.0 706.0,428.0 C704.7,426.0 703.4,423.9 702.0,422.0 C700.6,420.1 699.1,418.5 697.8,416.5 C696.5,414.5 694.8,411.1 694.2,410.0" fill="none" stroke="#40b846" stroke-width="3.1"/>
<path d="M692.5,411.5 C691.4,411.9 687.5,412.6 686.0,414.0 C684.5,415.4 684.4,417.8 683.6,419.8 C682.9,421.8 682.3,424.1 681.5,426.0 C680.7,427.9 680.1,428.9 679.0,431.0 C677.9,433.1 676.7,436.2 675.0,438.5 C673.3,440.8 671.5,443.2 669.0,444.5 C666.5,445.8 663.2,445.9 660.0,446.0 C656.8,446.1 653.3,445.6 650.0,445.0 C646.7,444.4 642.9,443.2 640.0,442.7 C637.1,442.2 635.0,441.7 632.5,442.1 C630.0,442.5 627.6,443.8 625.0,445.2 C622.4,446.6 619.8,448.5 617.0,450.5 C614.2,452.5 611.3,454.8 608.5,457.0 C605.7,459.2 602.2,461.2 600.0,463.5 C597.8,465.8 595.8,469.3 595.0,470.5" fill="none" stroke="#40b846" stroke-width="3.5"/>
<path d="M589.0,490.0 C590.1,488.2 592.0,486.5 594.0,485.5 C596.0,484.5 598.0,484.1 601.0,484.0 C604.0,483.9 607.8,484.6 612.0,485.0 C616.2,485.4 621.8,486.2 626.0,486.2 C630.2,486.2 633.4,486.4 637.0,485.0 C640.6,483.6 644.0,480.6 647.5,478.0 C651.0,475.4 655.0,471.8 658.0,469.7 C661.0,467.6 662.9,466.1 665.7,465.5 C668.5,464.9 672.2,464.7 674.8,466.0 C677.3,467.3 679.0,470.7 681.0,473.3 C683.0,475.9 685.5,478.3 687.0,481.5 C688.5,484.7 689.8,488.8 690.2,492.7 C690.6,496.6 690.1,501.2 689.3,504.8 C688.5,508.4 687.5,511.6 685.4,514.4 C683.3,517.1 680.5,519.8 676.7,521.3 C673.0,522.8 667.8,523.1 662.9,523.5 C658.0,523.9 652.8,523.6 647.3,523.5 C641.8,523.4 636.7,522.8 630.0,522.6 C623.3,522.4 613.7,522.9 607.2,522.5 C600.7,522.1 594.3,522.1 590.8,520.5 C587.3,518.9 586.9,515.2 586.2,512.6 C585.5,510.0 586.3,507.8 586.5,505.0 C586.7,502.2 587.1,498.5 587.5,496.0 C587.9,493.5 587.9,491.8 589.0,490.0Z" fill="none" stroke="#40b846" stroke-width="3.9"/>
<path d="M589.7,464.5 C588.6,463.7 585.4,461.5 582.8,459.5 C580.2,457.5 576.9,454.5 574.1,452.5 C571.4,450.5 568.6,447.8 566.3,447.5 C564.0,447.2 562.1,448.0 560.2,450.5 C558.3,453.0 556.7,457.6 555.0,462.5 C553.3,467.4 552.2,473.8 550.0,480.0 C547.8,486.2 543.3,496.7 542.0,500.0" fill="none" stroke="#40b846" stroke-width="4.0"/>
<path d="M591.0,463.0 C592.5,461.9 596.2,461.7 598.0,462.5 C599.8,463.3 601.2,465.8 601.5,468.0 C601.8,470.2 601.1,473.8 600.0,476.0 C598.9,478.2 596.7,481.0 595.0,481.0 C593.3,481.0 591.0,478.0 590.0,476.0 C589.0,474.0 588.8,471.2 589.0,469.0 C589.2,466.8 589.5,464.1 591.0,463.0Z" fill="#40b846"/>
<path d="M592,419.5 Q582,420.5 577,420.5 Q571.5,419 571.8,411" fill="none" stroke="#40b846" stroke-width="4.6" stroke-linecap="round"/>
</g>
<text transform="translate(607.80,391.10) scale(0.9,1)" font-size="7.4" text-anchor="middle" fill="#1a1a1a" stroke="#1a1a1a" stroke-width="0.15">+37</text>
<text transform="translate(634.30,384.80) scale(0.9,1)" font-size="7.4" text-anchor="middle" fill="#1a1a1a" stroke="#1a1a1a" stroke-width="0.15">+22</text>
<text transform="translate(661.60,391.10) scale(0.9,1)" font-size="7.4" text-anchor="middle" fill="#1a1a1a" stroke="#1a1a1a" stroke-width="0.15">+13</text>
<text transform="translate(585.50,408.70) scale(0.9,1)" font-size="7.4" text-anchor="middle" fill="#1a1a1a" stroke="#1a1a1a" stroke-width="0.15">+16</text>
<text transform="translate(634.30,406.10) scale(0.9,1)" font-size="7.4" text-anchor="middle" fill="#1a1a1a" stroke="#1a1a1a" stroke-width="0.15">+3</text>
<text transform="translate(683.50,408.70) scale(0.9,1)" font-size="7.4" text-anchor="middle" fill="#1a1a1a" stroke="#1a1a1a" stroke-width="0.15">+3</text>
<text transform="translate(605.10,418.70) scale(0.9,1)" font-size="7.4" text-anchor="middle" fill="#1a1a1a" stroke="#1a1a1a" stroke-width="0.15">+5</text>
<text transform="translate(662.90,418.70) scale(0.9,1)" font-size="7.4" text-anchor="middle" fill="#2a4a6a" stroke="#2a4a6a" stroke-width="0.15">-14</text>
<text transform="translate(572.90,433.00) scale(0.9,1)" font-size="7.4" text-anchor="middle" fill="#2a4a6a" stroke="#2a4a6a" stroke-width="0.15">-5</text>
<text transform="translate(618.70,432.30) scale(0.9,1)" font-size="7.4" text-anchor="middle" fill="#2a4a6a" stroke="#2a4a6a" stroke-width="0.15">-9</text>
<text transform="translate(649.30,432.30) scale(0.9,1)" font-size="7.4" text-anchor="middle" fill="#2a4a6a" stroke="#2a4a6a" stroke-width="0.15">-12</text>
<text transform="translate(695.10,433.00) scale(0.9,1)" font-size="7.4" text-anchor="middle" fill="#1a1a1a" stroke="#1a1a1a" stroke-width="0.15">+9</text>
<text transform="translate(592.10,447.60) scale(0.9,1)" font-size="7.4" text-anchor="middle" fill="#2a4a6a" stroke="#2a4a6a" stroke-width="0.15">-14</text>
<text transform="translate(675.90,447.60) scale(0.9,1)" font-size="7.4" text-anchor="middle" fill="#1a1a1a" stroke="#1a1a1a" stroke-width="0.15">+4</text>
<text transform="translate(573.20,460.90) scale(0.9,1)" font-size="7.4" text-anchor="middle" fill="#1a1a1a" stroke="#1a1a1a" stroke-width="0.15">+4</text>
<text transform="translate(619.40,462.60) scale(0.9,1)" font-size="7.4" text-anchor="middle" fill="#1a1a1a" stroke="#1a1a1a" stroke-width="0.15">+10</text>
<text transform="translate(649.30,462.60) scale(0.9,1)" font-size="7.4" text-anchor="middle" fill="#1a1a1a" stroke="#1a1a1a" stroke-width="0.15">+10</text>
<text transform="translate(695.80,461.20) scale(0.9,1)" font-size="7.4" text-anchor="middle" fill="#1a1a1a" stroke="#1a1a1a" stroke-width="0.15">+20</text>
<text transform="translate(605.10,476.80) scale(0.9,1)" font-size="7.4" text-anchor="middle" fill="#1a1a1a" stroke="#1a1a1a" stroke-width="0.15">+4</text>
<text transform="translate(663.60,476.80) scale(0.9,1)" font-size="7.4" text-anchor="middle" fill="#2a4a6a" stroke="#2a4a6a" stroke-width="0.15">-6</text>
<text transform="translate(585.50,486.80) scale(0.9,1)" font-size="7.4" text-anchor="middle" fill="#1a1a1a" stroke="#1a1a1a" stroke-width="0.15">+6</text>
<text transform="translate(634.30,489.50) scale(0.9,1)" font-size="7.4" text-anchor="middle" fill="#1a1a1a" stroke="#1a1a1a" stroke-width="0.15">+1</text>
<text transform="translate(683.50,486.80) scale(0.9,1)" font-size="7.4" text-anchor="middle" fill="#2a4a6a" stroke="#2a4a6a" stroke-width="0.15">-6</text>
<text transform="translate(607.10,504.10) scale(0.9,1)" font-size="7.4" text-anchor="middle" fill="#2a4a6a" stroke="#2a4a6a" stroke-width="0.15">-12</text>
<text transform="translate(634.30,510.70) scale(0.9,1)" font-size="7.4" text-anchor="middle" fill="#2a4a6a" stroke="#2a4a6a" stroke-width="0.15">-16</text>
<text transform="translate(662.60,504.40) scale(0.9,1)" font-size="7.4" text-anchor="middle" fill="#2a4a6a" stroke="#2a4a6a" stroke-width="0.15">-28</text>
<circle cx="633.6" cy="444.6" r="3.3" fill="#fff"/>
<text transform="translate(634.30,447.60) scale(0.9,1)" font-size="7.4" text-anchor="middle" fill="#1a1a1a" stroke="#1a1a1a" stroke-width="0.15">+3</text>
<circle cx="633.3" cy="457" r="3" fill="none" stroke="#202020" stroke-width="0.9"/>
<line x1="476.50" y1="169.30" x2="481.00" y2="169.30" stroke="#2a2a2a" stroke-width="1"/>
<line x1="473.37" y1="145.49" x2="477.71" y2="144.32" stroke="#2a2a2a" stroke-width="1"/>
<line x1="464.17" y1="123.30" x2="468.07" y2="121.05" stroke="#2a2a2a" stroke-width="1"/>
<line x1="449.55" y1="104.25" x2="452.74" y2="101.06" stroke="#2a2a2a" stroke-width="1"/>
<line x1="430.50" y1="89.63" x2="432.75" y2="85.73" stroke="#2a2a2a" stroke-width="1"/>
<line x1="408.31" y1="80.43" x2="409.48" y2="76.09" stroke="#2a2a2a" stroke-width="1"/>
<line x1="384.50" y1="77.30" x2="384.50" y2="72.80" stroke="#2a2a2a" stroke-width="1"/>
<line x1="360.69" y1="80.43" x2="359.52" y2="76.09" stroke="#2a2a2a" stroke-width="1"/>
<line x1="338.50" y1="89.63" x2="336.25" y2="85.73" stroke="#2a2a2a" stroke-width="1"/>
<line x1="319.45" y1="104.25" x2="316.26" y2="101.06" stroke="#2a2a2a" stroke-width="1"/>
<line x1="304.83" y1="123.30" x2="300.93" y2="121.05" stroke="#2a2a2a" stroke-width="1"/>
<line x1="295.63" y1="145.49" x2="291.29" y2="144.32" stroke="#2a2a2a" stroke-width="1"/>
<line x1="292.50" y1="169.30" x2="288.00" y2="169.30" stroke="#2a2a2a" stroke-width="1"/>
<line x1="295.63" y1="193.11" x2="291.29" y2="194.28" stroke="#2a2a2a" stroke-width="1"/>
<line x1="304.83" y1="215.30" x2="300.93" y2="217.55" stroke="#2a2a2a" stroke-width="1"/>
<line x1="319.45" y1="234.35" x2="316.26" y2="237.54" stroke="#2a2a2a" stroke-width="1"/>
<line x1="338.50" y1="248.97" x2="336.25" y2="252.87" stroke="#2a2a2a" stroke-width="1"/>
<line x1="360.69" y1="258.17" x2="359.52" y2="262.51" stroke="#2a2a2a" stroke-width="1"/>
<line x1="384.50" y1="261.30" x2="384.50" y2="265.80" stroke="#2a2a2a" stroke-width="1"/>
<line x1="408.31" y1="258.17" x2="409.48" y2="262.51" stroke="#2a2a2a" stroke-width="1"/>
<line x1="430.50" y1="248.97" x2="432.75" y2="252.87" stroke="#2a2a2a" stroke-width="1"/>
<line x1="449.55" y1="234.35" x2="452.74" y2="237.54" stroke="#2a2a2a" stroke-width="1"/>
<line x1="464.17" y1="215.30" x2="468.07" y2="217.55" stroke="#2a2a2a" stroke-width="1"/>
<line x1="473.37" y1="193.11" x2="477.71" y2="194.28" stroke="#2a2a2a" stroke-width="1"/>
<text transform="translate(481.40,169.30) rotate(90)" font-size="6.6" text-anchor="start" fill="#1e1e1e" stroke="#1e1e1e" stroke-width="0.15" dx="-1.83" letter-spacing="0.7">0°</text>
<text transform="translate(467.90,121.15) rotate(60)" font-size="6.6" text-anchor="start" fill="#1e1e1e" stroke="#1e1e1e" stroke-width="0.15" dx="-2.52" letter-spacing="0.7">30°</text>
<text transform="translate(432.65,85.90) rotate(30)" font-size="6.6" text-anchor="start" fill="#1e1e1e" stroke="#1e1e1e" stroke-width="0.15" dx="-2.52" letter-spacing="0.7">60°</text>
<text transform="translate(384.50,73.00)" font-size="6.6" text-anchor="start" fill="#1e1e1e" stroke="#1e1e1e" stroke-width="0.15" dx="-2.52" letter-spacing="0.7">90°</text>
<text transform="translate(336.35,85.90) rotate(-30)" font-size="6.6" text-anchor="start" fill="#1e1e1e" stroke="#1e1e1e" stroke-width="0.15" dx="-4.70" letter-spacing="0.7">120°</text>
<text transform="translate(301.10,121.15) rotate(-60)" font-size="6.6" text-anchor="start" fill="#1e1e1e" stroke="#1e1e1e" stroke-width="0.15" dx="-4.70" letter-spacing="0.7">150°</text>
<text transform="translate(282.40,169.30) rotate(90)" font-size="6.6" text-anchor="start" fill="#1e1e1e" stroke="#1e1e1e" stroke-width="0.15" dx="-6.20" letter-spacing="0.7">180°</text>
<text transform="translate(296.25,220.25) rotate(60)" font-size="6.6" text-anchor="start" fill="#1e1e1e" stroke="#1e1e1e" stroke-width="0.15" dx="-6.20" letter-spacing="0.7">210°</text>
<text transform="translate(333.55,257.55) rotate(30)" font-size="6.6" text-anchor="start" fill="#1e1e1e" stroke="#1e1e1e" stroke-width="0.15" dx="-6.20" letter-spacing="0.7">240°</text>
<text transform="translate(384.50,271.20)" font-size="6.6" text-anchor="start" fill="#1e1e1e" stroke="#1e1e1e" stroke-width="0.15" dx="-6.20" letter-spacing="0.7">270°</text>
<text transform="translate(435.45,257.55) rotate(-30)" font-size="6.6" text-anchor="start" fill="#1e1e1e" stroke="#1e1e1e" stroke-width="0.15" dx="-6.20" letter-spacing="0.7">300°</text>
<text transform="translate(472.75,220.25) rotate(-60)" font-size="6.6" text-anchor="start" fill="#1e1e1e" stroke="#1e1e1e" stroke-width="0.15" dx="-6.20" letter-spacing="0.7">330°</text>
<line x1="726.00" y1="169.30" x2="730.50" y2="169.30" stroke="#2a2a2a" stroke-width="1"/>
<line x1="722.87" y1="145.49" x2="727.21" y2="144.32" stroke="#2a2a2a" stroke-width="1"/>
<line x1="713.67" y1="123.30" x2="717.57" y2="121.05" stroke="#2a2a2a" stroke-width="1"/>
<line x1="699.05" y1="104.25" x2="702.24" y2="101.06" stroke="#2a2a2a" stroke-width="1"/>
<line x1="680.00" y1="89.63" x2="682.25" y2="85.73" stroke="#2a2a2a" stroke-width="1"/>
<line x1="657.81" y1="80.43" x2="658.98" y2="76.09" stroke="#2a2a2a" stroke-width="1"/>
<line x1="634.00" y1="77.30" x2="634.00" y2="72.80" stroke="#2a2a2a" stroke-width="1"/>
<line x1="610.19" y1="80.43" x2="609.02" y2="76.09" stroke="#2a2a2a" stroke-width="1"/>
<line x1="588.00" y1="89.63" x2="585.75" y2="85.73" stroke="#2a2a2a" stroke-width="1"/>
<line x1="568.95" y1="104.25" x2="565.76" y2="101.06" stroke="#2a2a2a" stroke-width="1"/>
<line x1="554.33" y1="123.30" x2="550.43" y2="121.05" stroke="#2a2a2a" stroke-width="1"/>
<line x1="545.13" y1="145.49" x2="540.79" y2="144.32" stroke="#2a2a2a" stroke-width="1"/>
<line x1="542.00" y1="169.30" x2="537.50" y2="169.30" stroke="#2a2a2a" stroke-width="1"/>
<line x1="545.13" y1="193.11" x2="540.79" y2="194.28" stroke="#2a2a2a" stroke-width="1"/>
<line x1="554.33" y1="215.30" x2="550.43" y2="217.55" stroke="#2a2a2a" stroke-width="1"/>
<line x1="568.95" y1="234.35" x2="565.76" y2="237.54" stroke="#2a2a2a" stroke-width="1"/>
<line x1="588.00" y1="248.97" x2="585.75" y2="252.87" stroke="#2a2a2a" stroke-width="1"/>
<line x1="610.19" y1="258.17" x2="609.02" y2="262.51" stroke="#2a2a2a" stroke-width="1"/>
<line x1="634.00" y1="261.30" x2="634.00" y2="265.80" stroke="#2a2a2a" stroke-width="1"/>
<line x1="657.81" y1="258.17" x2="658.98" y2="262.51" stroke="#2a2a2a" stroke-width="1"/>
<line x1="680.00" y1="248.97" x2="682.25" y2="252.87" stroke="#2a2a2a" stroke-width="1"/>
<line x1="699.05" y1="234.35" x2="702.24" y2="237.54" stroke="#2a2a2a" stroke-width="1"/>
<line x1="713.67" y1="215.30" x2="717.57" y2="217.55" stroke="#2a2a2a" stroke-width="1"/>
<line x1="722.87" y1="193.11" x2="727.21" y2="194.28" stroke="#2a2a2a" stroke-width="1"/>
<text transform="translate(730.90,169.30) rotate(90)" font-size="6.6" text-anchor="start" fill="#1e1e1e" stroke="#1e1e1e" stroke-width="0.15" dx="-1.83" letter-spacing="0.7">0°</text>
<text transform="translate(717.40,121.15) rotate(60)" font-size="6.6" text-anchor="start" fill="#1e1e1e" stroke="#1e1e1e" stroke-width="0.15" dx="-2.52" letter-spacing="0.7">30°</text>
<text transform="translate(682.15,85.90) rotate(30)" font-size="6.6" text-anchor="start" fill="#1e1e1e" stroke="#1e1e1e" stroke-width="0.15" dx="-2.52" letter-spacing="0.7">60°</text>
<text transform="translate(634.00,73.00)" font-size="6.6" text-anchor="start" fill="#1e1e1e" stroke="#1e1e1e" stroke-width="0.15" dx="-2.52" letter-spacing="0.7">90°</text>
<text transform="translate(585.85,85.90) rotate(-30)" font-size="6.6" text-anchor="start" fill="#1e1e1e" stroke="#1e1e1e" stroke-width="0.15" dx="-4.70" letter-spacing="0.7">120°</text>
<text transform="translate(550.60,121.15) rotate(-60)" font-size="6.6" text-anchor="start" fill="#1e1e1e" stroke="#1e1e1e" stroke-width="0.15" dx="-4.70" letter-spacing="0.7">150°</text>
<text transform="translate(531.90,169.30) rotate(90)" font-size="6.6" text-anchor="start" fill="#1e1e1e" stroke="#1e1e1e" stroke-width="0.15" dx="-6.20" letter-spacing="0.7">180°</text>
<text transform="translate(545.75,220.25) rotate(60)" font-size="6.6" text-anchor="start" fill="#1e1e1e" stroke="#1e1e1e" stroke-width="0.15" dx="-6.20" letter-spacing="0.7">210°</text>
<text transform="translate(583.05,257.55) rotate(30)" font-size="6.6" text-anchor="start" fill="#1e1e1e" stroke="#1e1e1e" stroke-width="0.15" dx="-6.20" letter-spacing="0.7">240°</text>
<text transform="translate(634.00,271.20)" font-size="6.6" text-anchor="start" fill="#1e1e1e" stroke="#1e1e1e" stroke-width="0.15" dx="-6.20" letter-spacing="0.7">270°</text>
<text transform="translate(684.95,257.55) rotate(-30)" font-size="6.6" text-anchor="start" fill="#1e1e1e" stroke="#1e1e1e" stroke-width="0.15" dx="-6.20" letter-spacing="0.7">300°</text>
<text transform="translate(722.25,220.25) rotate(-60)" font-size="6.6" text-anchor="start" fill="#1e1e1e" stroke="#1e1e1e" stroke-width="0.15" dx="-6.20" letter-spacing="0.7">330°</text>
<line x1="476.30" y1="444.60" x2="480.80" y2="444.60" stroke="#2a2a2a" stroke-width="1"/>
<line x1="473.17" y1="420.79" x2="477.51" y2="419.62" stroke="#2a2a2a" stroke-width="1"/>
<line x1="463.97" y1="398.60" x2="467.87" y2="396.35" stroke="#2a2a2a" stroke-width="1"/>
<line x1="449.35" y1="379.55" x2="452.54" y2="376.36" stroke="#2a2a2a" stroke-width="1"/>
<line x1="430.30" y1="364.93" x2="432.55" y2="361.03" stroke="#2a2a2a" stroke-width="1"/>
<line x1="408.11" y1="355.73" x2="409.28" y2="351.39" stroke="#2a2a2a" stroke-width="1"/>
<line x1="384.30" y1="352.60" x2="384.30" y2="348.10" stroke="#2a2a2a" stroke-width="1"/>
<line x1="360.49" y1="355.73" x2="359.32" y2="351.39" stroke="#2a2a2a" stroke-width="1"/>
<line x1="338.30" y1="364.93" x2="336.05" y2="361.03" stroke="#2a2a2a" stroke-width="1"/>
<line x1="319.25" y1="379.55" x2="316.06" y2="376.36" stroke="#2a2a2a" stroke-width="1"/>
<line x1="304.63" y1="398.60" x2="300.73" y2="396.35" stroke="#2a2a2a" stroke-width="1"/>
<line x1="295.43" y1="420.79" x2="291.09" y2="419.62" stroke="#2a2a2a" stroke-width="1"/>
<line x1="292.30" y1="444.60" x2="287.80" y2="444.60" stroke="#2a2a2a" stroke-width="1"/>
<line x1="295.43" y1="468.41" x2="291.09" y2="469.58" stroke="#2a2a2a" stroke-width="1"/>
<line x1="304.63" y1="490.60" x2="300.73" y2="492.85" stroke="#2a2a2a" stroke-width="1"/>
<line x1="319.25" y1="509.65" x2="316.06" y2="512.84" stroke="#2a2a2a" stroke-width="1"/>
<line x1="338.30" y1="524.27" x2="336.05" y2="528.17" stroke="#2a2a2a" stroke-width="1"/>
<line x1="360.49" y1="533.47" x2="359.32" y2="537.81" stroke="#2a2a2a" stroke-width="1"/>
<line x1="384.30" y1="536.60" x2="384.30" y2="541.10" stroke="#2a2a2a" stroke-width="1"/>
<line x1="408.11" y1="533.47" x2="409.28" y2="537.81" stroke="#2a2a2a" stroke-width="1"/>
<line x1="430.30" y1="524.27" x2="432.55" y2="528.17" stroke="#2a2a2a" stroke-width="1"/>
<line x1="449.35" y1="509.65" x2="452.54" y2="512.84" stroke="#2a2a2a" stroke-width="1"/>
<line x1="463.97" y1="490.60" x2="467.87" y2="492.85" stroke="#2a2a2a" stroke-width="1"/>
<line x1="473.17" y1="468.41" x2="477.51" y2="469.58" stroke="#2a2a2a" stroke-width="1"/>
<text transform="translate(481.20,444.60) rotate(90)" font-size="6.6" text-anchor="start" fill="#1e1e1e" stroke="#1e1e1e" stroke-width="0.15" dx="-1.83" letter-spacing="0.7">0°</text>
<text transform="translate(467.70,396.45) rotate(60)" font-size="6.6" text-anchor="start" fill="#1e1e1e" stroke="#1e1e1e" stroke-width="0.15" dx="-2.52" letter-spacing="0.7">30°</text>
<text transform="translate(432.45,361.20) rotate(30)" font-size="6.6" text-anchor="start" fill="#1e1e1e" stroke="#1e1e1e" stroke-width="0.15" dx="-2.52" letter-spacing="0.7">60°</text>
<text transform="translate(384.30,348.30)" font-size="6.6" text-anchor="start" fill="#1e1e1e" stroke="#1e1e1e" stroke-width="0.15" dx="-2.52" letter-spacing="0.7">90°</text>
<text transform="translate(336.15,361.20) rotate(-30)" font-size="6.6" text-anchor="start" fill="#1e1e1e" stroke="#1e1e1e" stroke-width="0.15" dx="-4.70" letter-spacing="0.7">120°</text>
<text transform="translate(300.90,396.45) rotate(-60)" font-size="6.6" text-anchor="start" fill="#1e1e1e" stroke="#1e1e1e" stroke-width="0.15" dx="-4.70" letter-spacing="0.7">150°</text>
<text transform="translate(282.20,444.60) rotate(90)" font-size="6.6" text-anchor="start" fill="#1e1e1e" stroke="#1e1e1e" stroke-width="0.15" dx="-6.20" letter-spacing="0.7">180°</text>
<text transform="translate(296.05,495.55) rotate(60)" font-size="6.6" text-anchor="start" fill="#1e1e1e" stroke="#1e1e1e" stroke-width="0.15" dx="-6.20" letter-spacing="0.7">210°</text>
<text transform="translate(333.35,532.85) rotate(30)" font-size="6.6" text-anchor="start" fill="#1e1e1e" stroke="#1e1e1e" stroke-width="0.15" dx="-6.20" letter-spacing="0.7">240°</text>
<text transform="translate(384.30,546.50)" font-size="6.6" text-anchor="start" fill="#1e1e1e" stroke="#1e1e1e" stroke-width="0.15" dx="-6.20" letter-spacing="0.7">270°</text>
<text transform="translate(435.25,532.85) rotate(-30)" font-size="6.6" text-anchor="start" fill="#1e1e1e" stroke="#1e1e1e" stroke-width="0.15" dx="-6.20" letter-spacing="0.7">300°</text>
<text transform="translate(472.55,495.55) rotate(-60)" font-size="6.6" text-anchor="start" fill="#1e1e1e" stroke="#1e1e1e" stroke-width="0.15" dx="-6.20" letter-spacing="0.7">330°</text>
<line x1="726.00" y1="444.60" x2="730.50" y2="444.60" stroke="#2a2a2a" stroke-width="1"/>
<line x1="722.87" y1="420.79" x2="727.21" y2="419.62" stroke="#2a2a2a" stroke-width="1"/>
<line x1="713.67" y1="398.60" x2="717.57" y2="396.35" stroke="#2a2a2a" stroke-width="1"/>
<line x1="699.05" y1="379.55" x2="702.24" y2="376.36" stroke="#2a2a2a" stroke-width="1"/>
<line x1="680.00" y1="364.93" x2="682.25" y2="361.03" stroke="#2a2a2a" stroke-width="1"/>
<line x1="657.81" y1="355.73" x2="658.98" y2="351.39" stroke="#2a2a2a" stroke-width="1"/>
<line x1="634.00" y1="352.60" x2="634.00" y2="348.10" stroke="#2a2a2a" stroke-width="1"/>
<line x1="610.19" y1="355.73" x2="609.02" y2="351.39" stroke="#2a2a2a" stroke-width="1"/>
<line x1="588.00" y1="364.93" x2="585.75" y2="361.03" stroke="#2a2a2a" stroke-width="1"/>
<line x1="568.95" y1="379.55" x2="565.76" y2="376.36" stroke="#2a2a2a" stroke-width="1"/>
<line x1="554.33" y1="398.60" x2="550.43" y2="396.35" stroke="#2a2a2a" stroke-width="1"/>
<line x1="545.13" y1="420.79" x2="540.79" y2="419.62" stroke="#2a2a2a" stroke-width="1"/>
<line x1="542.00" y1="444.60" x2="537.50" y2="444.60" stroke="#2a2a2a" stroke-width="1"/>
<line x1="545.13" y1="468.41" x2="540.79" y2="469.58" stroke="#2a2a2a" stroke-width="1"/>
<line x1="554.33" y1="490.60" x2="550.43" y2="492.85" stroke="#2a2a2a" stroke-width="1"/>
<line x1="568.95" y1="509.65" x2="565.76" y2="512.84" stroke="#2a2a2a" stroke-width="1"/>
<line x1="588.00" y1="524.27" x2="585.75" y2="528.17" stroke="#2a2a2a" stroke-width="1"/>
<line x1="610.19" y1="533.47" x2="609.02" y2="537.81" stroke="#2a2a2a" stroke-width="1"/>
<line x1="634.00" y1="536.60" x2="634.00" y2="541.10" stroke="#2a2a2a" stroke-width="1"/>
<line x1="657.81" y1="533.47" x2="658.98" y2="537.81" stroke="#2a2a2a" stroke-width="1"/>
<line x1="680.00" y1="524.27" x2="682.25" y2="528.17" stroke="#2a2a2a" stroke-width="1"/>
<line x1="699.05" y1="509.65" x2="702.24" y2="512.84" stroke="#2a2a2a" stroke-width="1"/>
<line x1="713.67" y1="490.60" x2="717.57" y2="492.85" stroke="#2a2a2a" stroke-width="1"/>
<line x1="722.87" y1="468.41" x2="727.21" y2="469.58" stroke="#2a2a2a" stroke-width="1"/>
<text transform="translate(730.90,444.60) rotate(90)" font-size="6.6" text-anchor="start" fill="#1e1e1e" stroke="#1e1e1e" stroke-width="0.15" dx="-1.83" letter-spacing="0.7">0°</text>
<text transform="translate(717.40,396.45) rotate(60)" font-size="6.6" text-anchor="start" fill="#1e1e1e" stroke="#1e1e1e" stroke-width="0.15" dx="-2.52" letter-spacing="0.7">30°</text>
<text transform="translate(682.15,361.20) rotate(30)" font-size="6.6" text-anchor="start" fill="#1e1e1e" stroke="#1e1e1e" stroke-width="0.15" dx="-2.52" letter-spacing="0.7">60°</text>
<text transform="translate(634.00,348.30)" font-size="6.6" text-anchor="start" fill="#1e1e1e" stroke="#1e1e1e" stroke-width="0.15" dx="-2.52" letter-spacing="0.7">90°</text>
<text transform="translate(585.85,361.20) rotate(-30)" font-size="6.6" text-anchor="start" fill="#1e1e1e" stroke="#1e1e1e" stroke-width="0.15" dx="-4.70" letter-spacing="0.7">120°</text>
<text transform="translate(550.60,396.45) rotate(-60)" font-size="6.6" text-anchor="start" fill="#1e1e1e" stroke="#1e1e1e" stroke-width="0.15" dx="-4.70" letter-spacing="0.7">150°</text>
<text transform="translate(531.90,444.60) rotate(90)" font-size="6.6" text-anchor="start" fill="#1e1e1e" stroke="#1e1e1e" stroke-width="0.15" dx="-6.20" letter-spacing="0.7">180°</text>
<text transform="translate(545.75,495.55) rotate(60)" font-size="6.6" text-anchor="start" fill="#1e1e1e" stroke="#1e1e1e" stroke-width="0.15" dx="-6.20" letter-spacing="0.7">210°</text>
<text transform="translate(583.05,532.85) rotate(30)" font-size="6.6" text-anchor="start" fill="#1e1e1e" stroke="#1e1e1e" stroke-width="0.15" dx="-6.20" letter-spacing="0.7">240°</text>
<text transform="translate(634.00,546.50)" font-size="6.6" text-anchor="start" fill="#1e1e1e" stroke="#1e1e1e" stroke-width="0.15" dx="-6.20" letter-spacing="0.7">270°</text>
<text transform="translate(684.95,532.85) rotate(-30)" font-size="6.6" text-anchor="start" fill="#1e1e1e" stroke="#1e1e1e" stroke-width="0.15" dx="-6.20" letter-spacing="0.7">300°</text>
<text transform="translate(722.25,495.55) rotate(-60)" font-size="6.6" text-anchor="start" fill="#1e1e1e" stroke="#1e1e1e" stroke-width="0.15" dx="-6.20" letter-spacing="0.7">330°</text>
</svg></body></html>
